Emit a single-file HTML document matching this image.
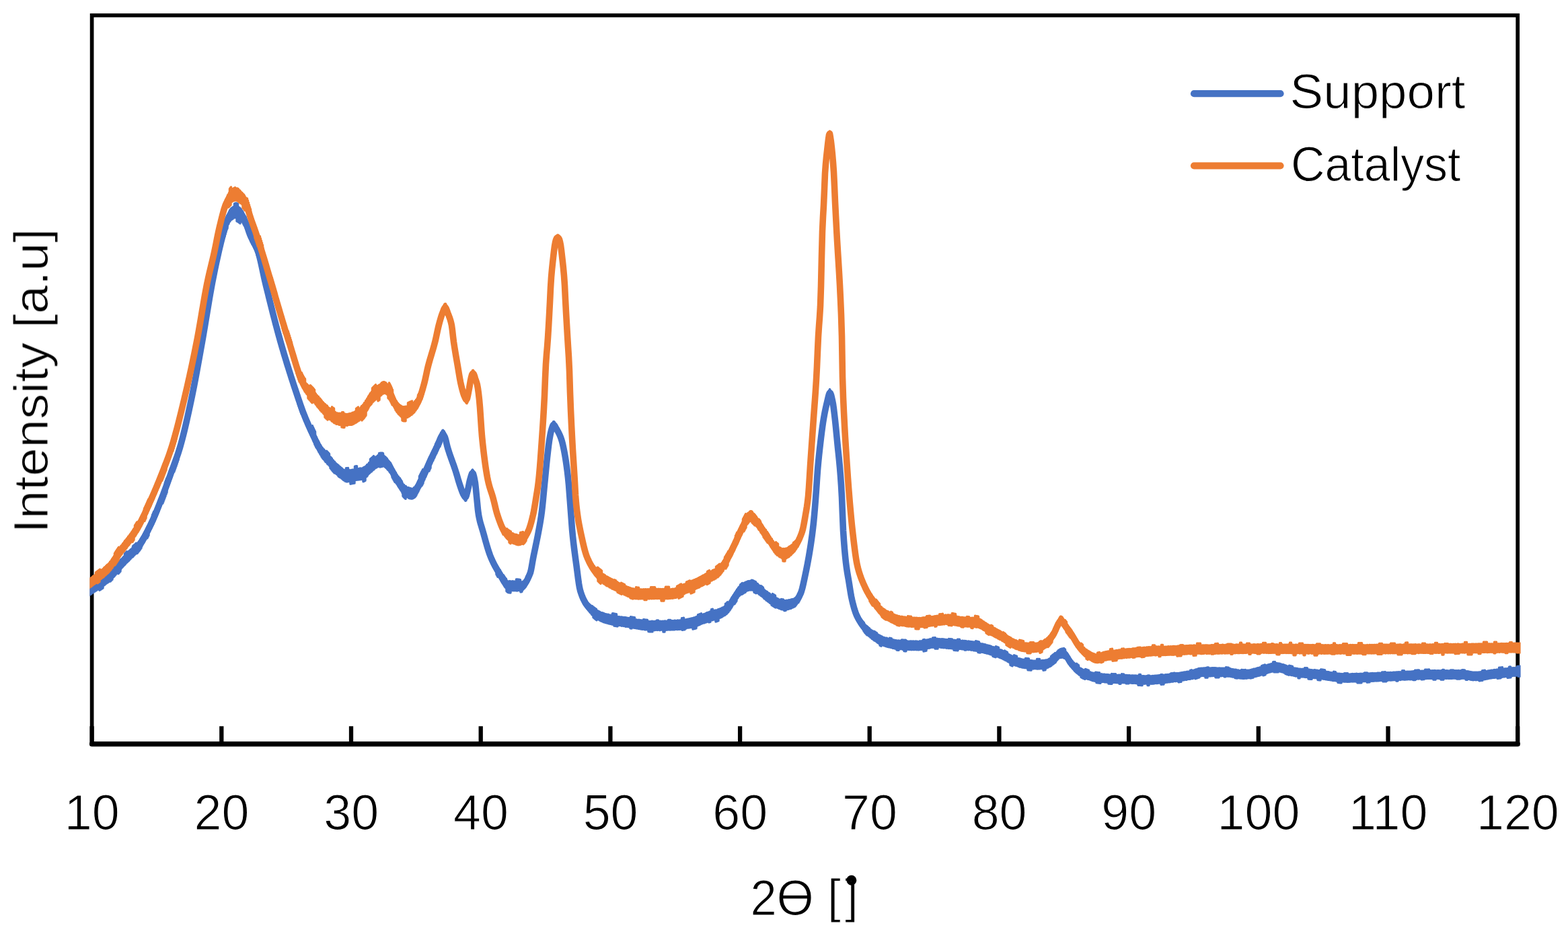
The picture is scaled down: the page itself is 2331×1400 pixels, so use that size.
<!DOCTYPE html>
<html lang="en"><head><meta charset="utf-8"><title>XRD patterns: Support and Catalyst</title>
<style>
html,body{margin:0;padding:0;background:#fff}
body{width:2331px;height:1400px;overflow:hidden}
svg{display:block}
text{font-family:"Liberation Sans",sans-serif;fill:#000;stroke:#fff;stroke-width:1.1px}
.c{fill:none;stroke-width:9.6;stroke-linejoin:round;stroke-linecap:butt}
  .n{fill:none;stroke-width:3.4;stroke-linejoin:round;stroke-linecap:butt}
.ax line{stroke:#000;stroke-width:6.3}
.tl text{font-size:73.6px;text-anchor:middle}
.lg text{font-size:72.3px}
</style></head>
<body>
<svg xmlns="http://www.w3.org/2000/svg" width="2331" height="1400" viewBox="0 0 2331 1400">
<defs><filter id="sf" x="0" y="0" width="100%" height="100%" filterUnits="userSpaceOnUse"><feGaussianBlur stdDeviation="0.6"/></filter><filter id="cf" x="0" y="0" width="100%" height="100%" filterUnits="userSpaceOnUse"><feGaussianBlur stdDeviation="0.5"/></filter><clipPath id="pa"><rect x="133.4" y="0" width="2127.2" height="1400"/></clipPath></defs>
<rect width="2331" height="1400" fill="#fff"/>
<g filter="url(#sf)">
<rect x="136.6" y="22.8" width="2119.6" height="1083.0" fill="none" stroke="#000" stroke-width="5.7"/>
<line x1="136.6" y1="1105.75" x2="2256.2" y2="1105.75" stroke="#000" stroke-width="7.4" stroke-linecap="round"/>
<g class="ax"><line x1="136.6" y1="1079.3" x2="136.6" y2="1105.8"/><line x1="329.3" y1="1079.3" x2="329.3" y2="1105.8"/><line x1="522.0" y1="1079.3" x2="522.0" y2="1105.8"/><line x1="714.7" y1="1079.3" x2="714.7" y2="1105.8"/><line x1="907.4" y1="1079.3" x2="907.4" y2="1105.8"/><line x1="1100.1" y1="1079.3" x2="1100.1" y2="1105.8"/><line x1="1292.7" y1="1079.3" x2="1292.7" y2="1105.8"/><line x1="1485.4" y1="1079.3" x2="1485.4" y2="1105.8"/><line x1="1678.1" y1="1079.3" x2="1678.1" y2="1105.8"/><line x1="1870.8" y1="1079.3" x2="1870.8" y2="1105.8"/><line x1="2063.5" y1="1079.3" x2="2063.5" y2="1105.8"/><line x1="2256.2" y1="1079.3" x2="2256.2" y2="1105.8"/></g>
<g class="tl"><text x="136.8" y="1233.1">10</text><text x="329.5" y="1233.1">20</text><text x="522.2" y="1233.1">30</text><text x="714.9" y="1233.1">40</text><text x="907.6" y="1233.1">50</text><text x="1100.3" y="1233.1">60</text><text x="1292.9" y="1233.1">70</text><text x="1485.6" y="1233.1">80</text><text x="1678.3" y="1233.1">90</text><text x="1871.0" y="1233.1">100</text><text x="2063.7" y="1233.1">110</text><text x="2256.4" y="1233.1">120</text></g>
<g clip-path="url(#pa)" filter="url(#cf)">
<path class="c" stroke="#4472c4" d="M130.5 879.7l1-0.7 1-0.7 1-0.7 1-0.7 1-0.7 1-0.7 1-0.7 1-0.7 1-0.7 1-0.6 1-0.7 1-0.6 1-0.7 1-0.6 1-0.7 1-0.6 1-0.7 1-0.6 1-0.7 1-0.7 1-0.7 1-0.6 1-0.7 1-0.8 1-0.7 1-0.7 1-0.8 1-0.7 1-0.8 1-0.8 1-0.9 1-0.8 1-0.9 1-0.9 1-1 1-1 1-1.1 1-1.1 1-1.1 1-1.1 1-1.2 1-1.2 1-1.2 1-1.1 1-1.2 1-1.2 1-1.1 1-1.2 1-1.1 1-1 1-1.1 1-1 1-1.1 1-1 1-1.1 1-1 1-1 1-1 1-1 1-1.1 1-1 1-1 1-1 1-0.9 1-1 1-1 1-1 1-0.9 1-0.8 1-0.9 1-0.9 1-0.9 1-1 1-1.2 1-1.2 1-1.3 1-1.4 1-1.4 1-1.6 1-1.5 1-1.7 1-1.7 1-1.8 1-1.8 1-1.8 1-1.9 1-1.9 1-2 1-1.9 1-2 1-2.1 1-2 1-2 1-2.1 1-2 1-2.1 1-2.2 1-2.3 1-2.3 1-2.3 1-2.4 1-2.4 1-2.5 1-2.5 1-2.5 1-2.5 1-2.6 1-2.5 1-2.6 1-2.5 1-2.6 1-2.6 1-2.7 1-2.6 1-2.7 1-2.7 1-2.7 1-2.8 1-2.8 1-2.7 1-2.8 1-2.8 1-2.8 1-2.8 1-2.7 1-2.8 1-2.6 1-2.7 1-2.7 1-2.7 1-2.8 1-2.8 1-2.9 1-2.9 1-3.1 1-3.2 1-3.3 1-3.5 1-3.5 1-3.7 1-3.9 1-3.9 1-4 1-4.2 1-4.2 1-4.3 1-4.4 1-4.4 1-4.5 1-4.6 1-4.6 1-4.6 1-4.7 1-4.7 1-4.8 1-4.9 1-5 1-5.1 1-5.2 1-5.2 1-5.3 1-5.4 1-5.5 1-5.5 1-5.5 1-5.5 1-5.6 1-5.6 1-5.6 1-5.5 1-5.7 1-5.7 1-5.9 1-5.9 1-6.1 1-6 1-6.1 1-6 1-6 1-6 1-5.9 1-5.8 1-5.6 1-5.5 1-5.4 1-5.2 1-5 1-5 1-4.9 1-4.8 1-4.8 1-4.6 1-4.5 1-4.5 1-4.4 1-4.3 1-4.2 1-4.1 1-3.9 1-3.9 1-3.8 1-3.9 1-3.9 1-3.7 1-3.4 1-3 1-2.4 1-2.1 1-2 1-1.8 1-1.6 1-1.3 1-1 1-0.9 1-0.8 1-0.7 1-0.7 1-0.5 1-0.3 1-0.1 1 0.1 1 0.4 1 0.6 1 0.7 1 0.9 1 0.9 1 0.9 1 1 1 1.2 1 1.4 1 1.6 1 1.6 1 1.8 1 1.9 1 2.1 1 2.5 1 2.8 1 2.9 1 2.9 1 2.9 1 2.7 1 2.4 1 2.2 1 2 1 2 1 1.9 1 1.9 1 1.9 1 1.9 1 2.1 1 2.2 1 2.4 1 2.7 1 2.9 1 3.5 1 3.9 1 4.2 1 4.5 1 4.6 1 4.8 1 4.7 1 4.7 1 4.5 1 4.2 1 4.1 1 4.1 1 4.1 1 4 1 4.1 1 4 1 4.1 1 4 1 4 1 3.9 1 4 1 3.9 1 3.9 1 3.8 1 3.9 1 3.8 1 3.7 1 3.8 1 3.7 1 3.6 1 3.6 1 3.6 1 3.5 1 3.5 1 3.5 1 3.4 1 3.4 1 3.4 1 3.3 1 3.3 1 3.3 1 3.3 1 3.2 1 3.2 1 3.2 1 3.2 1 3.1 1 3.2 1 3.1 1 3.1 1 3.1 1 3 1 3.1 1 3 1 3 1 3 1 3 1 3 1 3 1 2.9 1 2.9 1 2.9 1 2.9 1 2.8 1 2.7 1 2.7 1 2.6 1 2.6 1 2.5 1 2.5 1 2.4 1 2.3 1 2.3 1 2.3 1 2.3 1 2.2 1 2.2 1 2.2 1 2.1 1 2.1 1 2.2 1 2.1 1 2.1 1 2.2 1 2.1 1 2.1 1 2.1 1 2 1 1.9 1 1.9 1 1.8 1 1.6 1 1.6 1 1.4 1 1.4 1 1.3 1 1.3 1 1.2 1 1.1 1 1.2 1 1.1 1 1.1 1 1.1 1 1.1 1 1.1 1 1.2 1 1.2 1 1.1 1 1.3 1 1.2 1 1.1 1 1.2 1 1.2 1 1.1 1 1 1 1 1 0.9 1 0.9 1 0.8 1 0.9 1 0.9 1 0.9 1 0.8 1 0.8 1 0.8 1 0.7 1 0.5 1 0.5 1 0.3 1 0.2 1 -0 1 -0 1-0.1 1-0.1 1-0.2 1-0.1 1-0.2 1-0.2 1-0.2 1-0.2 1-0.2 1-0.2 1-0.2 1-0.2 1-0.1 1-0.2 1-0.2 1-0.1 1-0.2 1-0.2 1-0.2 1-0.2 1-0.3 1-0.2 1-0.3 1-0.4 1-0.5 1-0.6 1-0.8 1-0.9 1-1 1-1 1-1 1-1.1 1-1 1-1.1 1-0.9 1-0.9 1-0.9 1-0.9 1-0.9 1-0.9 1-0.8 1-0.8 1-0.6 1-0.4 1-0.5 1-0.4 1-0.3 1-0.4 1-0.2 1-0.2 1 -0 1 0.1 1 0.4 1 0.5 1 0.8 1 0.9 1 1 1 1.1 1 1.2 1 1.1 1 1.1 1 1.2 1 1.3 1 1.5 1 1.6 1 1.8 1 1.7 1 1.9 1 1.8 1 1.8 1 1.8 1 1.7 1 1.6 1 1.6 1 1.6 1 1.6 1 1.7 1 1.7 1 1.6 1 1.6 1 1.5 1 1.4 1 1.3 1 1.1 1 0.9 1 0.7 1 0.6 1 0.5 1 0.6 1 0.5 1 0.4 1 0.4 1 0.3 1 0.2 1 0.2 1 0 1-0.1 1-0.5 1-0.9 1-1 1-1.3 1-1.6 1-1.7 1-1.8 1-1.9 1-2 1-2 1-2.1 1-2 1-1.9 1-1.9 1-1.9 1-1.9 1-2.1 1-2.2 1-2.2 1-2.2 1-2.3 1-2.3 1-2.3 1-2.3 1-2.3 1-2.2 1-2.1 1-2.1 1-2.1 1-2 1-2.1 1-2 1-2.1 1-2 1-2.1 1-2.1 1-2.2 1-2.1 1-2.3 1-2.5 1-2.8 1-2.3 1-1.7 1-1.4 1-0.8 1 0.4 1 1.6 1 2 1 3.1 1 4.3 1 4.4 1 3.7 1 3.2 1 3.2 1 3 1 2.9 1 2.8 1 2.8 1 2.7 1 2.8 1 2.8 1 2.9 1 2.9 1 3.1 1 3.2 1 3.4 1 3.4 1 3.5 1 3.3 1 3.1 1 3 1 2.9 1 2.8 1 2.6 1 2.3 1 1.8 1 1.7 1 1.2 1-0.2 1-2.8 1-3.9 1-3.9 1-4.6 1-5.1 1-4.5 1-3.5 1-3.4 1-2.8 1-1.1 1 1.3 1 3.5 1 4.7 1 5.7 1 9.1 1 10.3 1 10 1 10.3 1 7.3 1 5.1 1 4.4 1 3.7 1 3.3 1 3.3 1 3.3 1 3.5 1 3.6 1 3.6 1 3.7 1 3.5 1 3.5 1 3.4 1 3.3 1 3.1 1 3 1 2.7 1 2.5 1 2.4 1 2.3 1 2.1 1 2.1 1 2 1 2 1 1.8 1 1.8 1 1.8 1 1.6 1 1.7 1 1.6 1 1.6 1 1.6 1 1.8 1 1.7 1 1.8 1 1.8 1 1.7 1 1.6 1 1.5 1 1.4 1 1.2 1 0.9 1 0.7 1 0.3 1 0.1 1 0.1 1 0 1 0 1 0.1 1 0 1 0 1 0.1 1 -0 1 0 1 0 1 0 1 0.1 1 -0 1 -0 1 -0 1 -0 1 -0 1 -0 1 -0 1-0.3 1-0.6 1-0.7 1-1.1 1-1.2 1-1.4 1-1.6 1-1.8 1-2 1-2.1 1-2.2 1-2.3 1-2.7 1-4.1 1-5.3 1-5.8 1-5.7 1-5.1 1-4.8 1-4.8 1-4.8 1-4.8 1-4.9 1-5.1 1-5.3 1-5.4 1-5.5 1-5.8 1-6.5 1-7.5 1-8.9 1-10 1-10.4 1-10.5 1-10 1-10.4 1-10.2 1-9.7 1-8.8 1-8.5 1-7.4 1-5.9 1-5.2 1-4.2 1-3.3 1-2.9 1-2 1-0.1 1 1.1 1 1.7 1 1.9 1 1.7 1 1.7 1 1.8 1 1.9 1 2.1 1 2.2 1 2.5 1 2.8 1 3.3 1 3.9 1 4.5 1 4.9 1 5.3 1 5.7 1 6.3 1 7 1 7.8 1 8.8 1 10.1 1 13 1 13.1 1 13.2 1 13.5 1 13.4 1 10.5 1 9.2 1 8.3 1 7.8 1 7.4 1 7.3 1 7.4 1 7.9 1 7.7 1 7.1 1 6 1 4.3 1 3.2 1 2.9 1 2.7 1 2.4 1 2.2 1 2 1 1.9 1 1.7 1 1.5 1 1.4 1 1.3 1 1.2 1 1.2 1 1 1 1.1 1 1 1 0.9 1 1 1 0.9 1 0.8 1 0.9 1 0.7 1 0.8 1 0.7 1 0.7 1 0.6 1 0.6 1 0.5 1 0.5 1 0.5 1 0.5 1 0.3 1 0.4 1 0.3 1 0.3 1 0.3 1 0.3 1 0.3 1 0.3 1 0.3 1 0.2 1 0.3 1 0.2 1 0.2 1 0.2 1 0.3 1 0.2 1 0.2 1 0.2 1 0.1 1 0.2 1 0.2 1 0.2 1 0.1 1 0.2 1 0.2 1 0.1 1 0.2 1 0.1 1 0.2 1 0.2 1 0.1 1 0.2 1 0.1 1 0.2 1 0.1 1 0.2 1 0.1 1 0.2 1 0.1 1 0.2 1 0.1 1 0.2 1 0.2 1 0.2 1 0.1 1 0.2 1 0.2 1 0.2 1 0.1 1 0.2 1 0.2 1 0.2 1 0.2 1 0.1 1 0.2 1 0.2 1 0.1 1 0.2 1 0.2 1 0.1 1 0.2 1 0.1 1 0.2 1 0.1 1 0.1 1 0.1 1 0.1 1 0.1 1 0.1 1 0.1 1 0.1 1 0 1 0.1 1 0 1 0.1 1 -0 1 0 1 -0 1 -0 1 -0 1 -0 1 -0 1 -0 1-0.1 1 0 1 0 1 -0 1 -0 1 -0 1-0.1 1 0 1 -0 1-0.1 1 0 1 -0 1-0.1 1 0 1 -0 1-0.1 1 -0 1-0.1 1 0 1 -0 1-0.1 1 -0 1-0.1 1 -0 1-0.1 1 -0 1-0.1 1 -0 1-0.1 1-0.1 1 -0 1-0.1 1-0.1 1 -0 1-0.1 1-0.2 1-0.1 1-0.1 1-0.2 1-0.1 1-0.2 1-0.2 1-0.1 1-0.2 1-0.2 1-0.2 1-0.3 1-0.2 1-0.2 1-0.2 1-0.2 1-0.3 1-0.2 1-0.2 1-0.3 1-0.2 1-0.3 1-0.4 1-0.3 1-0.3 1-0.4 1-0.4 1-0.4 1-0.3 1-0.4 1-0.4 1-0.5 1-0.4 1-0.4 1-0.4 1-0.4 1-0.4 1-0.4 1-0.3 1-0.4 1-0.4 1-0.3 1-0.3 1-0.4 1-0.2 1-0.3 1-0.3 1-0.2 1-0.3 1-0.2 1-0.3 1-0.2 1-0.3 1-0.3 1-0.3 1-0.4 1-0.4 1-0.4 1-0.4 1-0.5 1-0.4 1-0.5 1-0.6 1-0.6 1-0.6 1-0.7 1-0.7 1-0.7 1-0.8 1-1 1-1.2 1-1.3 1-1.4 1-1.6 1-1.6 1-1.6 1-1.7 1-1.6 1-1.7 1-1.5 1-1.5 1-1.5 1-1.5 1-1.5 1-1.5 1-1.3 1-1.2 1-1 1-0.9 1-0.9 1-0.9 1-0.7 1-0.7 1-0.7 1-0.5 1-0.4 1-0.4 1-0.4 1-0.4 1-0.4 1-0.3 1-0.2 1-0.1 1-0.1 1 0.1 1 0.1 1 0.3 1 0.3 1 0.5 1 0.4 1 0.5 1 0.5 1 0.6 1 0.7 1 0.8 1 0.9 1 1 1 0.9 1 0.8 1 0.8 1 0.9 1 0.8 1 0.8 1 0.9 1 0.8 1 0.8 1 0.8 1 0.8 1 0.7 1 0.8 1 0.7 1 0.7 1 0.7 1 0.8 1 0.7 1 0.7 1 0.7 1 0.6 1 0.7 1 0.6 1 0.5 1 0.6 1 0.5 1 0.4 1 0.5 1 0.4 1 0.5 1 0.4 1 0.4 1 0.4 1 0.3 1 0.2 1 0.1 1 -0 1 -0 1-0.1 1-0.1 1-0.1 1-0.2 1-0.2 1-0.2 1-0.3 1-0.3 1-0.3 1-0.3 1-0.3 1-0.4 1-0.4 1-0.4 1-0.7 1-0.8 1-1.1 1-1.2 1-1.4 1-1.6 1-1.7 1-1.8 1-2 1-2.1 1-2.9 1-3.5 1-4 1-4.4 1-4.7 1-4.7 1-4.7 1-4.7 1-5 1-5.1 1-5.5 1-5.6 1-6 1-6.2 1-6.5 1-6.9 1-7.4 1-8.1 1-8.9 1-10.5 1-11.8 1-12.8 1-13.5 1-15.2 1-14.1 1-11.3 1-10.2 1-9.3 1-8.8 1-8.4 1-8 1-7.6 1-7 1-6.2 1-5.6 1-5.1 1-4.7 1-4.4 1-4.1 1-4.3 1-4.4 1-3.6 1-1.9 1 0.6 1 2.6 1 4 1 4.6 1 5.1 1 7 1 8.3 1 8.7 1 9.5 1 10.3 1 10.4 1 10 1 9.4 1 9.6 1 10.7 1 12.3 1 14.3 1 17.6 1 25.7 1 23.8 1 15 1 12.7 1 10.7 1 9.2 1 7.9 1 6.7 1 5.9 1 5.6 1 6.1 1 6.4 1 6.2 1 5.7 1 4.7 1 4.2 1 3.9 1 3.7 1 3.4 1 3.1 1 2.7 1 2.4 1 2 1 2 1 1.9 1 1.8 1 1.6 1 1.6 1 1.6 1 1.4 1 1.4 1 1.3 1 1.2 1 1.2 1 1.1 1 1 1 1 1 0.9 1 0.9 1 0.9 1 0.9 1 0.8 1 0.9 1 0.8 1 0.8 1 0.7 1 0.8 1 0.7 1 0.7 1 0.7 1 0.6 1 0.7 1 0.6 1 0.6 1 0.5 1 0.5 1 0.5 1 0.5 1 0.5 1 0.4 1 0.4 1 0.4 1 0.3 1 0.3 1 0.3 1 0.3 1 0.3 1 0.3 1 0.2 1 0.3 1 0.3 1 0.2 1 0.3 1 0.2 1 0.2 1 0.3 1 0.2 1 0.2 1 0.1 1 0.2 1 0.2 1 0.1 1 0.2 1 0.1 1 0.1 1 0.1 1 0.1 1 0 1 0.1 1 0 1 0.1 1 0 1 0 1 0.1 1 0 1 0.1 1 -0 1 0 1 0.1 1 -0 1 0 1 0 1 0.1 1 -0 1 0 1 0 1 0 1 0.1 1 -0 1 -0 1 -0 1 -0 1 -0 1 -0 1 -0 1-0.1 1-0.1 1-0.1 1-0.2 1-0.1 1-0.2 1-0.2 1-0.2 1-0.2 1-0.3 1-0.2 1-0.2 1-0.3 1-0.2 1-0.2 1-0.2 1-0.2 1-0.1 1-0.2 1-0.1 1-0.1 1-0.1 1 0 1 0 1 0 1 0 1 0.1 1 0 1 0.1 1 0 1 0.1 1 0.1 1 0 1 0.1 1 0.1 1 0.1 1 0.1 1 0.1 1 0.1 1 0.1 1 0.1 1 0.1 1 0.1 1 0.1 1 0.1 1 0.1 1 0.1 1 0.1 1 0 1 0.1 1 0.1 1 0.1 1 0 1 0.1 1 0.1 1 0 1 0.1 1 0 1 0.1 1 0.1 1 0 1 0.1 1 0.1 1 0.1 1 0 1 0.1 1 0.1 1 0.1 1 0.1 1 0 1 0.1 1 0.1 1 0.1 1 0.2 1 0.1 1 0.1 1 0.1 1 0.2 1 0.1 1 0.2 1 0.2 1 0.2 1 0.2 1 0.1 1 0.2 1 0.3 1 0.2 1 0.2 1 0.2 1 0.2 1 0.3 1 0.2 1 0.2 1 0.3 1 0.2 1 0.3 1 0.2 1 0.3 1 0.2 1 0.3 1 0.3 1 0.2 1 0.3 1 0.3 1 0.3 1 0.3 1 0.3 1 0.3 1 0.4 1 0.3 1 0.3 1 0.4 1 0.3 1 0.4 1 0.4 1 0.4 1 0.3 1 0.4 1 0.4 1 0.4 1 0.4 1 0.5 1 0.4 1 0.4 1 0.5 1 0.5 1 0.6 1 0.5 1 0.6 1 0.6 1 0.6 1 0.7 1 0.6 1 0.5 1 0.6 1 0.6 1 0.5 1 0.4 1 0.5 1 0.4 1 0.4 1 0.4 1 0.4 1 0.4 1 0.3 1 0.4 1 0.3 1 0.3 1 0.3 1 0.3 1 0.2 1 0.2 1 0.2 1 0.2 1 0.2 1 0.2 1 0.1 1 0.2 1 0.1 1 0.2 1 0.1 1 0.1 1 0.1 1 0 1 0.1 1 0.1 1 0 1 0.1 1 0 1 0.1 1 0 1 0 1 0.1 1 -0 1 -0 1 0 1 -0 1 -0 1-0.1 1 -0 1-0.1 1-0.1 1-0.1 1-0.1 1-0.1 1-0.1 1-0.2 1-0.1 1-0.2 1-0.2 1-0.4 1-0.4 1-0.6 1-0.5 1-0.7 1-0.7 1-0.7 1-0.8 1-0.8 1-0.8 1-0.8 1-1 1-1.2 1-1.3 1-1.4 1-1.2 1-0.9 1-0.7 1-0.6 1-0.5 1-0.4 1-0.2 1 0.1 1 0.5 1 0.7 1 0.8 1 0.9 1 1 1 1.3 1 1.5 1 1.6 1 1.7 1 1.7 1 1.7 1 1.5 1 1.2 1 1.2 1 1.1 1 1.1 1 1.1 1 1 1 1 1 1 1 0.9 1 0.9 1 0.8 1 0.7 1 0.7 1 0.6 1 0.6 1 0.6 1 0.5 1 0.5 1 0.5 1 0.4 1 0.5 1 0.4 1 0.4 1 0.4 1 0.3 1 0.4 1 0.3 1 0.3 1 0.3 1 0.3 1 0.3 1 0.3 1 0.2 1 0.3 1 0.2 1 0.2 1 0.2 1 0.1 1 0.2 1 0.1 1 0.1 1 0.1 1 0.1 1 0.1 1 0.1 1 0.1 1 0.1 1 0.1 1 0 1 0.1 1 0.1 1 0.1 1 0 1 0.1 1 0 1 0.1 1 0.1 1 0 1 0.1 1 0 1 0 1 0.1 1 0 1 0.1 1 0 1 0 1 0.1 1 -0 1 0 1 0.1 1 -0 1 0 1 0 1 0 1 0.1 1 -0 1 0 1 0 1 0.1 1 -0 1 -0 1 0 1 0 1 0.1 1 -0 1 0 1 0.1 1 -0 1 0 1 0.1 1 0 1 0.1 1 0 1 0.1 1 0 1 0.1 1 0 1 0.1 1 0.1 1 0 1 0.1 1 0.1 1 0 1 0.1 1 0 1 0.1 1 0 1 0.1 1 0 1 0.1 1 -0 1 -0 1 -0 1 -0 1 -0 1 -0 1-0.1 1 0 1 -0 1-0.1 1-0.1 1 -0 1-0.1 1-0.1 1 -0 1-0.1 1-0.1 1-0.1 1-0.1 1-0.1 1-0.1 1-0.1 1-0.1 1-0.1 1-0.1 1-0.1 1-0.1 1-0.1 1-0.1 1-0.1 1-0.1 1-0.1 1-0.1 1-0.1 1-0.1 1-0.1 1-0.2 1-0.1 1-0.1 1-0.1 1-0.2 1-0.1 1-0.1 1-0.2 1-0.1 1-0.1 1-0.2 1-0.1 1-0.2 1-0.1 1-0.1 1-0.2 1-0.1 1-0.2 1-0.1 1-0.2 1-0.1 1-0.1 1-0.2 1-0.1 1-0.2 1-0.2 1-0.1 1-0.2 1-0.2 1-0.1 1-0.2 1-0.2 1-0.2 1-0.2 1-0.3 1-0.3 1-0.3 1-0.3 1-0.4 1-0.4 1-0.3 1-0.4 1-0.3 1-0.3 1-0.3 1-0.2 1-0.2 1-0.1 1 -0 1 -0 1 -0 1 -0 1 -0 1 -0 1 -0 1 -0 1 -0 1 -0 1 -0 1 -0 1 -0 1 -0 1 -0 1 -0 1 -0 1 -0 1 -0 1 -0 1 -0 1 -0 1 -0 1 -0 1 -0 1 -0 1 -0 1 -0 1 -0 1 -0 1 -0 1 -0 1 -0 1 -0 1 -0 1 0 1 0.1 1 0.1 1 0.1 1 0.1 1 0.1 1 0.2 1 0.1 1 0.2 1 0.2 1 0.2 1 0.1 1 0.2 1 0.2 1 0.2 1 0.2 1 0.2 1 0.1 1 0.2 1 0.2 1 0.1 1 0.1 1 0.2 1 0.1 1 0.1 1 0 1 0.1 1 -0 1 -0 1 -0 1-0.1 1-0.1 1-0.1 1-0.1 1-0.2 1-0.1 1-0.2 1-0.2 1-0.2 1-0.2 1-0.3 1-0.2 1-0.3 1-0.2 1-0.3 1-0.3 1-0.2 1-0.3 1-0.3 1-0.2 1-0.3 1-0.2 1-0.3 1-0.2 1-0.3 1-0.3 1-0.3 1-0.3 1-0.3 1-0.4 1-0.3 1-0.4 1-0.3 1-0.4 1-0.3 1-0.4 1-0.3 1-0.3 1-0.3 1-0.2 1-0.2 1-0.2 1-0.2 1-0.1 1-0.1 1 0 1 0 1 0.1 1 0.1 1 0.1 1 0.2 1 0.2 1 0.3 1 0.2 1 0.3 1 0.3 1 0.4 1 0.3 1 0.3 1 0.4 1 0.4 1 0.3 1 0.4 1 0.3 1 0.4 1 0.3 1 0.4 1 0.3 1 0.3 1 0.2 1 0.3 1 0.2 1 0.2 1 0.1 1 0.2 1 0.1 1 0.1 1 0.2 1 0.1 1 0.1 1 0.1 1 0.1 1 0.1 1 0.1 1 0.1 1 0.1 1 0.1 1 0.1 1 0.1 1 0.1 1 0.1 1 0.1 1 0 1 0.1 1 0.1 1 0.1 1 0.1 1 0.1 1 0 1 0.1 1 0.1 1 0.1 1 0.1 1 0.1 1 0.1 1 0.1 1 0.1 1 0.1 1 0.1 1 0.1 1 0.1 1 0.1 1 0.1 1 0.2 1 0.1 1 0.2 1 0.1 1 0.2 1 0.2 1 0.1 1 0.2 1 0.2 1 0.1 1 0.2 1 0.2 1 0.2 1 0.2 1 0.1 1 0.2 1 0.2 1 0.1 1 0.2 1 0.2 1 0.1 1 0.2 1 0.1 1 0.2 1 0.1 1 0.1 1 0.1 1 0.1 1 0.1 1 0.1 1 0.1 1 0 1 0.1 1 -0 1 -0 1 -0 1 -0 1 -0 1 -0 1 -0 1 -0 1 -0 1-0.1 1 0 1 0 1 -0 1 -0 1-0.1 1 0 1 0 1 -0 1-0.1 1 0 1 -0 1 -0 1-0.1 1 -0 1 -0 1-0.1 1 -0 1 -0 1-0.1 1 -0 1-0.1 1 0 1 -0 1-0.1 1 -0 1-0.1 1 0 1 -0 1-0.1 1 -0 1-0.1 1 0 1 -0 1-0.1 1 -0 1-0.1 1 0 1 -0 1-0.1 1 -0 1 -0 1-0.1 1 -0 1-0.1 1 0 1 -0 1-0.1 1 -0 1-0.1 1 0 1 -0 1-0.1 1 -0 1-0.1 1 -0 1-0.1 1 0 1 -0 1-0.1 1 -0 1-0.1 1 -0 1-0.1 1 -0 1-0.1 1 -0 1-0.1 1 -0 1-0.1 1 -0 1-0.1 1 -0 1-0.1 1 -0 1-0.1 1 -0 1-0.1 1 -0 1 -0 1-0.1 1 -0 1-0.1 1 -0 1-0.1 1 -0 1-0.1 1 -0 1-0.1 1 -0 1 -0 1-0.1 1 -0 1-0.1 1 -0 1-0.1 1 -0 1-0.1 1 0 1 -0 1-0.1 1 -0 1-0.1 1 -0 1-0.1 1 -0 1-0.1 1 -0 1-0.1 1 -0 1-0.1 1 -0 1-0.1 1 -0 1-0.1 1 0 1 -0 1-0.1 1 0 1 -0 1 -0 1-0.1 1 0 1 0 1 0 1 0 1 0 1 0 1 0 1 0 1 0 1 0 1 0 1 0 1 0 1 0 1 0 1 0 1 0 1 0 1 0 1 0 1 0 1 0 1 0 1 0 1 0 1 0 1 0 1 0 1 0 1 0 1 0 1 0 1 0 1 0 1 0 1 0 1 0 1 0 1 0 1 0 1 0 1 0 1 0 1 0 1 0 1 0 1 0 1 0.1 1 0.1 1 0.1 1 0.2 1 0.1 1 0.2 1 0.2 1 0.2 1 0.1 1 0.2 1 0.2 1 0.2 1 0.1 1 0.2 1 0.1 1 0.1 1 0.1 1 -0 1 -0 1 -0 1-0.1 1 -0 1-0.1 1 -0 1-0.1 1-0.1 1-0.1 1-0.2 1-0.1 1-0.1 1-0.2 1-0.1 1-0.2 1-0.1 1-0.2 1-0.2 1-0.1 1-0.2 1-0.2 1-0.1 1-0.2 1-0.2 1-0.1 1-0.2 1-0.1 1-0.1 1-0.2 1-0.1 1-0.1 1-0.1 1-0.1 1-0.1 1-0.1 1-0.1 1-0.1 1-0.2 1-0.1 1-0.1 1-0.1 1-0.1 1-0.1 1-0.1 1-0.1 1-0.1 1-0.1 1-0.1 1-0.1 1-0.1 1-0.1 1-0.1 1-0.1 1-0.1 1 -0 1-0.1 1-0.1 1-0.1 1-0.1 1-0.1 1-0.1 1-0.1 1-0.1 1 -0 1-0.1 1-0.1 1-0.1 1-0.1 1-0.1"/>
<path class="n" stroke="#4472c4" d="M130.5 873.8l0.5 11.7 0.5-12.9 0.5 12.5 0.5-13.2 0.5 12.5 0.5-12.9 0.5 11.9 0.5-12.5 0.5 12.3 0.5-12.9 0.5 12.1 0.5-13.2 0.5 12 0.5-12.3 0.5 12.1 0.5-13 0.5 12.2 0.5-13 0.5 12.2 0.5-12.9 0.5 12.5 0.5-13.1 0.5 12.4 0.5-12.9 0.5 12.4 0.5-13.2 0.5 12.4 0.5-13.1 0.5 12.4 0.5-15.1 0.5 14.3 0.5-15 0.5 14.4 0.5-15.1 0.5 17.5 0.5-18.1 0.5 17.4 0.5-18.1 0.5 17.5 0.5-15.6 0.5 14.9 0.5-15.9 0.5 15.3 0.5-15.7 0.5 15 0.5-16 0.5 12.2 0.5-12.6 0.5 12 0.5-12.8 0.5 12.1 0.5-13.2 0.5 12.2 0.5-12.7 0.5 11.9 0.5-12.5 0.5 11.8 0.5-12.7 0.5 12.3 0.5-14.8 0.5 14.1 0.5-14.9 0.5 14.1 0.5-15 0.5 13.8 0.5-13.2 0.5 14 0.5-14.9 0.5 14 0.5-14.9 0.5 13.9 0.5-15.3 0.5 14.3 0.5-15.2 0.5 12.3 0.5-13.1 0.5 12.3 0.5-13.8 0.5 12.8 0.5-14.2 0.5 13 0.5-13.8 0.5 12.6 0.5-14.1 0.5 12.7 0.5-13.5 0.5 12.4 0.5-13.7 0.5 12.7 0.5-13.8 0.5 15.8 0.5-17 0.5 15.9 0.5-17.3 0.5 16.2 0.5-17.2 0.5 16.1 0.5-17.5 0.5 13.4 0.5-14.2 0.5 12.9 0.5-13.6 0.5 12.7 0.5-14 0.5 12.9 0.5-14.3 0.5 13.2 0.5-13.9 0.5 12.9 0.5-17 0.5 16.1 0.5-17.2 0.5 15.7 0.5-16.7 0.5 15.7 0.5-16.8 0.5 16 0.5-13.6 0.5 12.6 0.5-14.4 0.5 13.4 0.5-14.4 0.5 13.8 0.5-14.6 0.5 13 0.5-13.9 0.5 13.3 0.5-14.4 0.5 13 0.5-13.5 0.5 12.4 0.5-13.5 0.5 13.2 0.5-16.3 0.5 15.4 0.5-16.3 0.5 14.8 0.5-15.7 0.5 15 0.5-15.8 0.5 14.7 0.5-15.6 0.5 14.8 0.5-15.7 0.5 15.3 0.5-14.7 0.5 14.5 0.5-15.2 0.5 14.1 0.5-15.4 0.5 14.1 0.5-15.3 0.5 14 0.5-15.3 0.5 14 0.5-15.6 0.5 14.1 0.5-15.9 0.5 14.4 0.5-15.9 0.5 13.1 0.5-14.5 0.5 12.6 0.5-14 0.5 12.3 0.5-14.7 0.5 13.2 0.5-14.6 0.5 12.9 0.5-15 0.5 12.9 0.5-14.4 0.5 13 0.5-15.4 0.5 13 0.5-14.7 0.5 15.6 0.5-17.7 0.5 15.7 0.5-17.6 0.5 15.6 0.5-17.6 0.5 12.8 0.5-15 0.5 13.2 0.5-15.5 0.5 13.2 0.5-14.6 0.5 12.8 0.5-15 0.5 12.9 0.5-18 0.5 16 0.5-18.2 0.5 16.2 0.5-18.5 0.5 15.8 0.5-15.5 0.5 13.7 0.5-15.6 0.5 13.1 0.5-16 0.5 13.4 0.5-15.6 0.5 13.5 0.5-16.1 0.5 13.4 0.5-15.7 0.5 13.4 0.5-16.3 0.5 14 0.5-16.2 0.5 13.2 0.5-15.7 0.5 13.3 0.5-15.8 0.5 13.2 0.5-16 0.5 13.2 0.5-15.3 0.5 12.7 0.5-15.5 0.5 16.9 0.5-19.4 0.5 16.8 0.5-20 0.5 17.4 0.5-20 0.5 17.4 0.5-23.6 0.5 20.9 0.5-23.6 0.5 20.9 0.5-23.7 0.5 21 0.5-19.9 0.5 13.5 0.5-16.4 0.5 14 0.5-16.8 0.5 14 0.5-17 0.5 14 0.5-16.6 0.5 13.9 0.5-16.3 0.5 13.1 0.5-16.2 0.5 13.6 0.5-16.2 0.5 13.6 0.5-16.3 0.5 13.5 0.5-16.3 0.5 13.3 0.5-15.6 0.5 16 0.5-18.6 0.5 15.8 0.5-18.4 0.5 15.6 0.5-18.5 0.5 15.7 0.5-18.3 0.5 15.4 0.5-18.7 0.5 15.8 0.5-18.5 0.5 15.5 0.5-18.4 0.5 12.3 0.5-15.4 0.5 12 0.5-15.5 0.5 12.4 0.5-15.8 0.5 12.1 0.5-15.7 0.5 12.2 0.5-19.1 0.5 16 0.5-19.8 0.5 15.8 0.5-19.7 0.5 15.7 0.5-19.7 0.5 15.4 0.5-19.5 0.5 15.3 0.5-16.8 0.5 12.5 0.5-16.2 0.5 12 0.5-16.5 0.5 12.1 0.5-16.8 0.5 12.3 0.5-16.4 0.5 12.2 0.5-17.3 0.5 12.4 0.5-16.5 0.5 11.9 0.5-16.9 0.5 13.5 0.5-18.1 0.5 13.4 0.5-18.2 0.5 13.5 0.5-17.8 0.5 11.7 0.5-16.7 0.5 12.1 0.5-17.4 0.5 12.3 0.5-17 0.5 12 0.5-17.1 0.5 12 0.5-17.5 0.5 12.1 0.5-17.6 0.5 12.1 0.5-17.1 0.5 11.6 0.5-17.1 0.5 11.6 0.5-19.1 0.5 13.8 0.5-19.3 0.5 16.7 0.5-22.3 0.5 16.8 0.5-20.4 0.5 14.8 0.5-20.8 0.5 12.5 0.5-17.8 0.5 12.5 0.5-18.3 0.5 12.2 0.5-17.6 0.5 11.9 0.5-17.9 0.5 12.4 0.5-18.5 0.5 13 0.5-18.6 0.5 12.5 0.5-18.4 0.5 12.2 0.5-18.4 0.5 12.7 0.5-18.8 0.5 12.2 0.5-18.3 0.5 12.7 0.5-18.7 0.5 12.8 0.5-21.6 0.5 15.7 0.5-21.6 0.5 16.9 0.5-22.7 0.5 17 0.5-22.7 0.5 17 0.5-22.5 0.5 15.8 0.5-21.2 0.5 15.9 0.5-17.9 0.5 12.1 0.5-17.2 0.5 12.1 0.5-17.3 0.5 12.8 0.5-17.5 0.5 12.7 0.5-18.2 0.5 13.1 0.5-17.4 0.5 12.8 0.5-17.8 0.5 13.5 0.5-18.1 0.5 13.6 0.5-18.3 0.5 13.5 0.5-17.3 0.5 13.4 0.5-18.5 0.5 13.7 0.5-20.1 0.5 16.2 0.5-20.4 0.5 16.4 0.5-20.5 0.5 16.4 0.5-20.4 0.5 17.1 0.5-21 0.5 16.7 0.5-20.7 0.5 17.1 0.5-17.8 0.5 17.5 0.5-21.3 0.5 17.7 0.5-22.1 0.5 18.8 0.5-21 0.5 18.2 0.5-21.3 0.5 19 0.5-20.8 0.5 14.8 0.5-16.7 0.5 15.6 0.5-17.7 0.5 15.1 0.5-17.3 0.5 16.4 0.5-17.4 0.5 15.4 0.5-16.9 0.5 16.6 0.5-17.4 0.5 16.6 0.5-17.3 0.5 16.7 0.5-17.6 0.5 16.5 0.5-16.9 0.5 16.7 0.5-21.3 0.5 20.6 0.5-21.1 0.5 20.8 0.5-21 0.5 21 0.5-20.9 0.5 26.7 0.5-26.4 0.5 26.9 0.5-26.4 0.5 27 0.5-22.4 0.5 23.1 0.5-22.1 0.5 22.8 0.5-22.3 0.5 23.1 0.5-22 0.5 18 0.5-16.9 0.5 17 0.5-15.3 0.5 16.8 0.5-15.7 0.5 17.3 0.5-15.6 0.5 17.7 0.5-15.5 0.5 17.2 0.5-15.5 0.5 16.1 0.5-14.3 0.5 16.9 0.5-15.6 0.5 18.2 0.5-15 0.5 17.2 0.5-14.2 0.5 17 0.5-14 0.5 16 0.5-13.3 0.5 16.4 0.5-13.9 0.5 16.3 0.5-13.1 0.5 16 0.5-13.9 0.5 16.9 0.5-14 0.5 15.7 0.5-14.2 0.5 16.6 0.5-16.4 0.5 17.2 0.5-15.1 0.5 17.4 0.5-15.4 0.5 17.3 0.5-13.5 0.5 14.7 0.5-12 0.5 14.4 0.5-13 0.5 14.6 0.5-11.5 0.5 17.2 0.5-15.1 0.5 17.5 0.5-15 0.5 17.6 0.5-14.2 0.5 17.2 0.5-13.8 0.5 17.2 0.5-13.3 0.5 17.2 0.5-12.8 0.5 17 0.5-12.5 0.5 13.8 0.5-9.2 0.5 14.2 0.5-9.8 0.5 14.3 0.5-10 0.5 14.5 0.5-9.1 0.5 14.2 0.5-10.2 0.5 14.4 0.5-9.8 0.5 14.2 0.5-12.3 0.5 16.4 0.5-12.3 0.5 16.1 0.5-12 0.5 16.1 0.5-12 0.5 16.2 0.5-12.2 0.5 16.5 0.5-10.6 0.5 14 0.5-9.8 0.5 14.6 0.5-10.3 0.5 13.5 0.5-9.6 0.5 13.7 0.5-10.2 0.5 14 0.5-9.8 0.5 14 0.5-10.1 0.5 16.9 0.5-13.4 0.5 17.3 0.5-13.7 0.5 17.6 0.5-13.1 0.5 17 0.5-13.2 0.5 17 0.5-13.4 0.5 17.2 0.5-13.8 0.5 17.5 0.5-17.3 0.5 18.3 0.5-14.6 0.5 18.7 0.5-15.1 0.5 17.9 0.5-14.3 0.5 18.4 0.5-14.9 0.5 18.5 0.5-15 0.5 18.2 0.5-10.9 0.5 14.3 0.5-10.9 0.5 14.6 0.5-11.3 0.5 16.2 0.5-12.5 0.5 15.9 0.5-12.6 0.5 15.9 0.5-13 0.5 15 0.5-12 0.5 14.6 0.5-10.7 0.5 14.8 0.5-12.1 0.5 14.9 0.5-11.2 0.5 14.4 0.5-11.8 0.5 15.6 0.5-11.7 0.5 14.4 0.5-11.6 0.5 14.5 0.5-11.6 0.5 15.3 0.5-12 0.5 14.4 0.5-11.2 0.5 14.8 0.5-12.4 0.5 15.5 0.5-12 0.5 15.5 0.5-12.3 0.5 15.1 0.5-11.7 0.5 14.9 0.5-12.2 0.5 15 0.5-12.3 0.5 15.3 0.5-13.7 0.5 16 0.5-13 0.5 19.9 0.5-16.9 0.5 19.8 0.5-16.9 0.5 19.9 0.5-15.4 0.5 18.3 0.5-15.3 0.5 18.2 0.5-15.3 0.5 18.1 0.5-15.7 0.5 15.4 0.5-12.2 0.5 15 0.5-12.3 0.5 15 0.5-12.8 0.5 14.8 0.5-11.8 0.5 14.2 0.5-11.6 0.5 14.1 0.5-11.6 0.5 14.6 0.5-13 0.5 15.1 0.5-12.1 0.5 14.6 0.5-12.7 0.5 15.1 0.5-12.6 0.5 14.5 0.5-12.4 0.5 15 0.5-12.6 0.5 15.1 0.5-12.7 0.5 14.9 0.5-12.9 0.5 15 0.5-12.7 0.5 14.5 0.5-17.3 0.5 19.4 0.5-17.3 0.5 20.1 0.5-18 0.5 19.8 0.5-17.7 0.5 21.6 0.5-19.5 0.5 21.6 0.5-14.5 0.5 16.7 0.5-15.3 0.5 16 0.5-13.4 0.5 14.7 0.5-12.8 0.5 15.1 0.5-13.7 0.5 16.1 0.5-14.1 0.5 15.4 0.5-13 0.5 15.2 0.5-14 0.5 15.2 0.5-13.4 0.5 15.6 0.5-13.8 0.5 15.4 0.5-14.4 0.5 15.7 0.5-14.2 0.5 15.3 0.5-14.7 0.5 15.5 0.5-14.1 0.5 15.8 0.5-14.3 0.5 15.7 0.5-15 0.5 15.5 0.5-16.9 0.5 18.2 0.5-17.1 0.5 18.7 0.5-17.7 0.5 18.1 0.5-17 0.5 18.1 0.5-17 0.5 18.1 0.5-13.9 0.5 17.2 0.5-16.6 0.5 17.8 0.5-16.6 0.5 17.8 0.5-16.7 0.5 17.9 0.5-16 0.5 17.2 0.5-16.5 0.5 17.7 0.5-16.2 0.5 17.4 0.5-16.9 0.5 16.6 0.5-14.8 0.5 15.6 0.5-14.9 0.5 15.9 0.5-14.4 0.5 15 0.5-14.9 0.5 15.8 0.5-14.8 0.5 16.5 0.5-15.7 0.5 16.6 0.5-15.5 0.5 16.2 0.5-15.5 0.5 15.9 0.5-14.9 0.5 15.4 0.5-14.7 0.5 15.6 0.5-14.9 0.5 15.8 0.5-14.6 0.5 15.6 0.5-14.7 0.5 15.4 0.5-15.2 0.5 15.5 0.5-14.4 0.5 15.5 0.5-15.1 0.5 14.7 0.5-19.1 0.5 20.3 0.5-20.3 0.5 20.2 0.5-20.2 0.5 20.1 0.5-20.2 0.5 19.9 0.5-16.1 0.5 16.2 0.5-16.7 0.5 15.9 0.5-15.4 0.5 19.9 0.5-20.5 0.5 20.3 0.5-20.3 0.5 20.1 0.5-20.6 0.5 20.4 0.5-20.4 0.5 20.2 0.5-20 0.5 19.8 0.5-19.9 0.5 19.8 0.5-25 0.5 20.3 0.5-20.5 0.5 20.4 0.5-20.5 0.5 20.5 0.5-20.7 0.5 20.1 0.5-15.8 0.5 16.2 0.5-16.5 0.5 15.8 0.5-15.3 0.5 15.8 0.5-16.8 0.5 16.1 0.5-16.2 0.5 16.6 0.5-16.4 0.5 16.2 0.5-16.2 0.5 15.8 0.5-15.9 0.5 15.7 0.5-16.3 0.5 20.3 0.5-21.1 0.5 20.7 0.5-21.3 0.5 20.8 0.5-20.9 0.5 20.3 0.5-21 0.5 15.4 0.5-16.4 0.5 16.1 0.5-17.8 0.5 16.8 0.5-16.8 0.5 14.9 0.5-16.1 0.5 15 0.5-16.6 0.5 15.7 0.5-16.2 0.5 15.5 0.5-20.5 0.5 19 0.5-19.9 0.5 19.7 0.5-20.6 0.5 19.6 0.5-20.5 0.5 19.3 0.5-20.2 0.5 19.6 0.5-20.6 0.5 20 0.5-17.4 0.5 15.6 0.5-16.4 0.5 16.2 0.5-16.6 0.5 16 0.5-16.5 0.5 16.1 0.5-16.6 0.5 15.3 0.5-16.4 0.5 16.6 0.5-16.1 0.5 15.5 0.5-19.3 0.5 18.9 0.5-19.2 0.5 20.7 0.5-20.9 0.5 20.6 0.5-20.7 0.5 20.5 0.5-20.5 0.5 20.4 0.5-20.3 0.5 18.5 0.5-18.1 0.5 18 0.5-14.7 0.5 16.2 0.5-15 0.5 15.7 0.5-15 0.5 15.7 0.5-14.7 0.5 15.7 0.5-14.8 0.5 15.6 0.5-14.7 0.5 16 0.5-14.1 0.5 15.3 0.5-14.1 0.5 14.5 0.5-13.5 0.5 15.6 0.5-14.4 0.5 15.6 0.5-14.6 0.5 15.3 0.5-13.4 0.5 15.6 0.5-13.7 0.5 17.6 0.5-15.5 0.5 17.3 0.5-15.3 0.5 17.1 0.5-15.5 0.5 17.3 0.5-15.6 0.5 17.4 0.5-15.3 0.5 14.4 0.5-13.2 0.5 15.7 0.5-13.5 0.5 14.6 0.5-13.3 0.5 14.9 0.5-13.2 0.5 15 0.5-14.1 0.5 15.7 0.5-13.3 0.5 14.6 0.5-14.7 0.5 16.5 0.5-14.9 0.5 16.4 0.5-14.8 0.5 16.3 0.5-14.8 0.5 17 0.5-14.3 0.5 19.2 0.5-17.5 0.5 18.8 0.5-18.3 0.5 19.4 0.5-18 0.5 18.9 0.5-18.3 0.5 19 0.5-18.8 0.5 15 0.5-13.7 0.5 14.4 0.5-13.8 0.5 14.2 0.5-13.7 0.5 14.6 0.5-14.9 0.5 15.7 0.5-15.2 0.5 15.6 0.5-15 0.5 14.7 0.5-14.8 0.5 15.4 0.5-14.5 0.5 14.4 0.5-14.5 0.5 14.5 0.5-14.8 0.5 14.4 0.5-14.5 0.5 13.9 0.5-15.5 0.5 15 0.5-15.4 0.5 14.6 0.5-16.1 0.5 14.9 0.5-16.4 0.5 14.9 0.5-16.4 0.5 14.2 0.5-16 0.5 14.2 0.5-16.8 0.5 15 0.5-17 0.5 14.7 0.5-20.4 0.5 18.3 0.5-20.3 0.5 18.6 0.5-20.7 0.5 18.4 0.5-20.3 0.5 20.5 0.5-22.4 0.5 20.6 0.5-22.5 0.5 20.6 0.5-18.5 0.5 14.9 0.5-16.9 0.5 14.8 0.5-17.5 0.5 14.8 0.5-16.5 0.5 14.7 0.5-17.4 0.5 14.8 0.5-16.9 0.5 14.6 0.5-17.1 0.5 14.9 0.5-16.4 0.5 14.6 0.5-17.8 0.5 18.7 0.5-21 0.5 18.8 0.5-20.2 0.5 18 0.5-20 0.5 14.6 0.5-17 0.5 14.8 0.5-17.1 0.5 14.8 0.5-16.8 0.5 15.2 0.5-17.1 0.5 14.6 0.5-17.1 0.5 15.4 0.5-17 0.5 14.3 0.5-17.7 0.5 15.5 0.5-17.5 0.5 16.1 0.5-18.1 0.5 15.7 0.5-17.8 0.5 15.5 0.5-17.5 0.5 14.9 0.5-17.1 0.5 14.7 0.5-15.5 0.5 15.3 0.5-18.6 0.5 15.8 0.5-18.1 0.5 15.6 0.5-16.8 0.5 12.8 0.5-14.5 0.5 13.5 0.5-14.2 0.5 13.3 0.5-12.5 0.5 12.5 0.5-11.3 0.5 12.9 0.5-10.9 0.5 13.5 0.5-10.4 0.5 13.1 0.5-8.7 0.5 13.3 0.5-8.9 0.5 12.8 0.5-9.2 0.5 13.4 0.5-10.2 0.5 13.1 0.5-9.4 0.5 15.5 0.5-14.6 0.5 17.6 0.5-14.7 0.5 17.6 0.5-14.7 0.5 17.5 0.5-14.7 0.5 17.5 0.5-14.8 0.5 17.6 0.5-14.9 0.5 17.7 0.5-15 0.5 14.7 0.5-10.2 0.5 13.4 0.5-10.2 0.5 13.5 0.5-10.2 0.5 12.6 0.5-9.8 0.5 13.5 0.5-9.9 0.5 13.3 0.5-10 0.5 13 0.5-9.3 0.5 12.7 0.5-9.3 0.5 12.8 0.5-9.6 0.5 12.3 0.5-12.8 0.5 16.2 0.5-13.1 0.5 15.6 0.5-12.6 0.5 15.4 0.5-12.6 0.5 15 0.5-9.9 0.5 12.5 0.5-10.3 0.5 11.8 0.5-10 0.5 11.4 0.5-9.7 0.5 10.9 0.5-11.3 0.5 10.7 0.5-13.1 0.5 10.2 0.5-14 0.5 10.1 0.5-13.9 0.5 9.9 0.5-14.4 0.5 9.6 0.5-14.6 0.5 10.8 0.5-15.8 0.5 11.1 0.5-14.5 0.5 10.8 0.5-14.2 0.5 10.7 0.5-13.5 0.5 10.7 0.5-11.8 0.5 10.7 0.5-9.3 0.5 9.6 0.5-6.2 0.5 9.5 0.5-4.4 0.5 9.1 0.5-3.1 0.5 8.9 0.5 0.2 0.5 8.9 0.5 1.4 0.5 9 0.5 1 0.5 8.8 0.5 1.6 0.5 8.7 0.5-1.6 0.5 9 0.5-3.7 0.5 8.7 0.5-4.5 0.5 8.8 0.5-5 0.5 8.8 0.5-5.4 0.5 8.8 0.5-5.7 0.5 8.8 0.5-5.5 0.5 8.9 0.5-5.3 0.5 9 0.5-5.4 0.5 9 0.5-5.5 0.5 10.7 0.5-7.2 0.5 11 0.5-7.5 0.5 11.4 0.5-8.1 0.5 10.1 0.5-7.8 0.5 11 0.5-8 0.5 11.8 0.5-8.9 0.5 12 0.5-9.4 0.5 12.6 0.5-10.1 0.5 13.3 0.5-9.7 0.5 12.3 0.5-9.7 0.5 12.3 0.5-10.4 0.5 12.1 0.5-10.1 0.5 12.2 0.5-10.2 0.5 12.6 0.5-10.6 0.5 12.5 0.5-10.5 0.5 12.4 0.5-10.2 0.5 12.3 0.5-10.7 0.5 15.9 0.5-14.3 0.5 16.1 0.5-14.2 0.5 16 0.5-14.6 0.5 13.2 0.5-11.4 0.5 12.6 0.5-11 0.5 13 0.5-12 0.5 13.1 0.5-10.9 0.5 12.9 0.5-11.4 0.5 13.4 0.5-11.7 0.5 13.6 0.5-12.1 0.5 13.3 0.5-12.9 0.5 14.9 0.5-13.2 0.5 15.2 0.5-13.7 0.5 15.1 0.5-13.8 0.5 14.6 0.5-13.4 0.5 18.5 0.5-16.1 0.5 17.1 0.5-15.9 0.5 16.5 0.5-16.5 0.5 16.9 0.5-16.5 0.5 16.6 0.5-17.2 0.5 17.3 0.5-17.2 0.5 17.2 0.5-16.7 0.5 13.3 0.5-13.5 0.5 13.2 0.5-13.5 0.5 13.8 0.5-13.3 0.5 13.4 0.5-13.7 0.5 13.2 0.5-13 0.5 13.6 0.5-13.4 0.5 13.1 0.5-13.3 0.5 13.5 0.5-16.8 0.5 16.8 0.5-16.7 0.5 17 0.5-17 0.5 16.4 0.5-16.3 0.5 16.3 0.5-16.1 0.5 16.3 0.5-16.1 0.5 16.3 0.5-16 0.5 18.1 0.5-14.8 0.5 14.6 0.5-14.6 0.5 14.2 0.5-14.6 0.5 12 0.5-12.4 0.5 11.7 0.5-12.2 0.5 11 0.5-12 0.5 11.2 0.5-12.5 0.5 11.2 0.5-12.2 0.5 10.7 0.5-14.5 0.5 12.6 0.5-14.3 0.5 12.4 0.5-14.4 0.5 12.7 0.5-14.8 0.5 12.6 0.5-14.8 0.5 12.6 0.5-12.8 0.5 10.6 0.5-13.2 0.5 10.1 0.5-14.1 0.5 10.1 0.5-15.5 0.5 10 0.5-15.7 0.5 9.7 0.5-15.3 0.5 9.7 0.5-14.5 0.5 9.4 0.5-14.2 0.5 10 0.5-14.8 0.5 9.9 0.5-14.5 0.5 9.6 0.5-14.4 0.5 9.5 0.5-14.3 0.5 9.3 0.5-14.4 0.5 9.3 0.5-14.5 0.5 8.6 0.5-14.1 0.5 8.7 0.5-14.2 0.5 8.6 0.5-14.5 0.5 8.7 0.5-15.1 0.5 8.6 0.5-16 0.5 8.6 0.5-18.5 0.5 9.6 0.5-19.6 0.5 9.7 0.5-20.2 0.5 9.6 0.5-20 0.5 10.4 0.5-19.6 0.5 9.6 0.5-20.1 0.5 9.8 0.5-20.1 0.5 9.8 0.5-19.4 0.5 9.8 0.5-18.6 0.5 9.8 0.5-18.4 0.5 9.9 0.5-17.3 0.5 9.2 0.5-15 0.5 9 0.5-14.4 0.5 9.2 0.5-13.2 0.5 8.9 0.5-12.2 0.5 9.3 0.5-12.5 0.5 9.4 0.5-11.3 0.5 9.4 0.5-9.7 0.5 9.7 0.5-8.7 0.5 9.9 0.5-8.1 0.5 9.8 0.5-7.9 0.5 9.8 0.5-8.1 0.5 9.7 0.5-7.8 0.5 9.6 0.5-7.8 0.5 9.7 0.5-7.8 0.5 9.7 0.5-7.5 0.5 9.2 0.5-6.9 0.5 10.2 0.5-7.7 0.5 10 0.5-7 0.5 9.6 0.5-7.2 0.5 10.4 0.5-6.3 0.5 9.2 0.5-4.7 0.5 9.2 0.5-3.5 0.5 8.4 0.5-3 0.5 8.2 0.5-2.5 0.5 8.2 0.5-1.9 0.5 8.1 0.5-1.1 0.5 8.2 0.5-0.4 0.5 8.3 0.5 0.4 0.5 8.2 0.5 2.1 0.5 8.1 0.5 4.9 0.5 8.1 0.5 5 0.5 8.1 0.5 5.1 0.5 8.1 0.5 5.4 0.5 8 0.5 5.5 0.5 7.9 0.5 2.5 0.5 8 0.5 0.7 0.5 8.5 0.5-0.1 0.5 8.5 0.5-0.7 0.5 8.3 0.5-0.9 0.5 8.3 0.5-1 0.5 8.3 0.5-0.9 0.5 8.9 0.5-1.1 0.5 9 0.5-0.7 0.5 8.5 0.5-1.6 0.5 8.2 0.5-2.1 0.5 8.1 0.5-3.9 0.5 8.3 0.5-5.2 0.5 8.4 0.5-5.5 0.5 8.4 0.5-5.9 0.5 8.7 0.5-7.1 0.5 9.5 0.5-7.4 0.5 9.8 0.5-8 0.5 10.2 0.5-8.5 0.5 10.5 0.5-9 0.5 10.8 0.5-9.5 0.5 11.2 0.5-8.9 0.5 10.2 0.5-9 0.5 10.6 0.5-9.5 0.5 11 0.5-10 0.5 11.2 0.5-10.6 0.5 12 0.5-10.8 0.5 11.5 0.5-10.9 0.5 12.4 0.5-11.7 0.5 13 0.5-12.9 0.5 13.7 0.5-12.8 0.5 16 0.5-15.2 0.5 16.1 0.5-15.4 0.5 16.3 0.5-15.5 0.5 16.3 0.5-15.6 0.5 16.4 0.5-15.7 0.5 16.4 0.5-14.4 0.5 12.5 0.5-12 0.5 12.5 0.5-12.2 0.5 12.8 0.5-12.3 0.5 12.8 0.5-12.3 0.5 13 0.5-12 0.5 12.7 0.5-12.4 0.5 12.7 0.5-12.1 0.5 12.5 0.5-12.8 0.5 12.9 0.5-12.3 0.5 13.3 0.5-13.1 0.5 13.2 0.5-12.7 0.5 13.1 0.5-12.6 0.5 12.9 0.5-12.8 0.5 13.1 0.5-12.7 0.5 12.5 0.5-12.4 0.5 13 0.5-13 0.5 13.4 0.5-13.2 0.5 13.6 0.5-12.9 0.5 13 0.5-12.7 0.5 13 0.5-13.2 0.5 13.2 0.5-12.8 0.5 13.2 0.5-12.8 0.5 13.1 0.5-16.4 0.5 16.5 0.5-16.3 0.5 16.1 0.5-15.9 0.5 18.1 0.5-17.9 0.5 18.1 0.5-17.9 0.5 18 0.5-17.9 0.5 18.1 0.5-17.9 0.5 18.1 0.5-14.4 0.5 14.5 0.5-14.2 0.5 12.2 0.5-12.2 0.5 12.6 0.5-12.7 0.5 12.9 0.5-12.5 0.5 12.4 0.5-12.1 0.5 12.3 0.5-12.5 0.5 13.2 0.5-13.4 0.5 13.1 0.5-12.2 0.5 12.3 0.5-12.4 0.5 12.8 0.5-13.1 0.5 12.9 0.5-12.6 0.5 13 0.5-13 0.5 13.5 0.5-13.4 0.5 13.4 0.5-12.7 0.5 12.6 0.5-12.8 0.5 13.1 0.5-12.6 0.5 12.7 0.5-13 0.5 13 0.5-12.9 0.5 13.4 0.5-12.6 0.5 14.3 0.5-17 0.5 17.1 0.5-16.9 0.5 17.1 0.5-16.9 0.5 15.3 0.5-15.1 0.5 15.3 0.5-15.1 0.5 15.6 0.5-15.5 0.5 15.7 0.5-15.5 0.5 15.5 0.5-12.8 0.5 13 0.5-12.5 0.5 12.9 0.5-13 0.5 12.8 0.5-12.3 0.5 12.3 0.5-12.1 0.5 12.8 0.5-13.3 0.5 13.1 0.5-12.7 0.5 13.1 0.5-12.6 0.5 12.9 0.5-13.3 0.5 13.4 0.5-13 0.5 12.9 0.5-12.6 0.5 13.1 0.5-13.1 0.5 12.8 0.5-14.4 0.5 14.5 0.5-14.4 0.5 14.4 0.5-14.3 0.5 15.1 0.5-14.9 0.5 14.5 0.5-14.4 0.5 14.5 0.5-14.4 0.5 14.6 0.5-14.5 0.5 14.6 0.5-12.5 0.5 15.1 0.5-15 0.5 15.1 0.5-15.1 0.5 15.2 0.5-15.2 0.5 15.2 0.5-15.1 0.5 15.2 0.5-15.7 0.5 15.7 0.5-15.3 0.5 15.3 0.5-15.7 0.5 13.1 0.5-12.5 0.5 12.4 0.5-12.6 0.5 13.1 0.5-13.3 0.5 12.9 0.5-13.1 0.5 13 0.5-12.6 0.5 12.5 0.5-14.1 0.5 14.5 0.5-14.5 0.5 14.4 0.5-14.4 0.5 14 0.5-12.4 0.5 12.4 0.5-12.5 0.5 13.2 0.5-13.6 0.5 12.8 0.5-12.5 0.5 12.7 0.5-12.4 0.5 12.3 0.5-12.9 0.5 13 0.5-12.7 0.5 15.7 0.5-15.7 0.5 15.7 0.5-16.1 0.5 16.1 0.5-15.5 0.5 12.3 0.5-13 0.5 13.5 0.5-12.9 0.5 12.2 0.5-12.2 0.5 12.6 0.5-13.3 0.5 13.2 0.5-14.5 0.5 14.4 0.5-14.4 0.5 14.2 0.5-14.2 0.5 14.6 0.5-14.7 0.5 14.3 0.5-12.7 0.5 12.7 0.5-13.2 0.5 13.2 0.5-12.9 0.5 13.1 0.5-13.1 0.5 12.7 0.5-12.9 0.5 13.3 0.5-13.6 0.5 13.5 0.5-13.6 0.5 13.2 0.5-13 0.5 12.9 0.5-12.7 0.5 12.5 0.5-13 0.5 13.5 0.5-13.6 0.5 13.4 0.5-13.1 0.5 13.1 0.5-13.3 0.5 13.1 0.5-13.3 0.5 13.3 0.5-13.3 0.5 13.2 0.5-13.3 0.5 12.8 0.5-15.9 0.5 17.6 0.5-17.7 0.5 17.6 0.5-17.7 0.5 17.5 0.5-17.7 0.5 17.6 0.5-14.5 0.5 14.3 0.5-14.4 0.5 12.9 0.5-13.2 0.5 13 0.5-13.3 0.5 12.6 0.5-12.8 0.5 12.4 0.5-12.8 0.5 13 0.5-13 0.5 12.5 0.5-12.8 0.5 13.1 0.5-13.2 0.5 12.5 0.5-12.5 0.5 12.8 0.5-13.5 0.5 13.1 0.5-13 0.5 12.8 0.5-13.2 0.5 16.4 0.5-16.7 0.5 16.5 0.5-16.9 0.5 16.6 0.5-16.6 0.5 16.4 0.5-16.6 0.5 16.3 0.5-17.1 0.5 16.8 0.5-17 0.5 13 0.5-13 0.5 13 0.5-16 0.5 15.4 0.5-15.8 0.5 15.3 0.5-15.7 0.5 15.6 0.5-16 0.5 15.2 0.5-15.6 0.5 15.1 0.5-15.5 0.5 15.2 0.5-12.8 0.5 12.3 0.5-12.8 0.5 12.4 0.5-13.2 0.5 12.8 0.5-12.9 0.5 13.1 0.5-13.5 0.5 12.8 0.5-13.3 0.5 13.1 0.5-13.4 0.5 13.1 0.5-14 0.5 13.6 0.5-13.7 0.5 13.4 0.5-13.7 0.5 12.7 0.5-13 0.5 14.9 0.5-15 0.5 14.7 0.5-15.6 0.5 15.3 0.5-15.2 0.5 12.9 0.5-16.2 0.5 15.8 0.5-16.1 0.5 16.2 0.5-16.4 0.5 16 0.5-13.4 0.5 13.1 0.5-13.3 0.5 13.1 0.5-13.5 0.5 13.1 0.5-13.4 0.5 17 0.5-16.8 0.5 16.5 0.5-16.7 0.5 16.4 0.5-16.9 0.5 16.5 0.5-17.3 0.5 16.9 0.5-17.2 0.5 13.3 0.5-13.3 0.5 12.8 0.5-13.5 0.5 13.3 0.5-13.6 0.5 13 0.5-13.3 0.5 13 0.5-13.8 0.5 12.9 0.5-13.1 0.5 12.6 0.5-13.2 0.5 12.4 0.5-13 0.5 12.7 0.5-13.6 0.5 13.1 0.5-16.8 0.5 15.7 0.5-16.4 0.5 16 0.5-16.8 0.5 15.6 0.5-16.7 0.5 15.7 0.5-13.7 0.5 12.8 0.5-13.9 0.5 12.2 0.5-13.8 0.5 13 0.5-14.4 0.5 12.7 0.5-14.7 0.5 13.1 0.5-15 0.5 13.5 0.5-15.1 0.5 13.1 0.5-14.5 0.5 12.8 0.5-14.4 0.5 13.2 0.5-14.5 0.5 14.9 0.5-16.8 0.5 15.4 0.5-16.7 0.5 15.2 0.5-16.8 0.5 15.3 0.5-17 0.5 13.4 0.5-14.5 0.5 13.2 0.5-14.9 0.5 12.9 0.5-13.9 0.5 13.3 0.5-14.3 0.5 13.3 0.5-15.8 0.5 14.7 0.5-15.6 0.5 14.6 0.5-15.4 0.5 16 0.5-16.8 0.5 16.1 0.5-15.7 0.5 15 0.5-14.9 0.5 14.3 0.5-15.1 0.5 14.6 0.5-14.9 0.5 14.5 0.5-15.1 0.5 13.4 0.5-13.7 0.5 13.3 0.5-13.8 0.5 12.9 0.5-13.4 0.5 13.5 0.5-13.8 0.5 13.5 0.5-13.6 0.5 13.2 0.5-13.2 0.5 13.3 0.5-13.8 0.5 13.9 0.5-13.9 0.5 13.7 0.5-14.7 0.5 14.8 0.5-14.5 0.5 14.7 0.5-14.4 0.5 14.6 0.5-14.1 0.5 17.1 0.5-16.7 0.5 17.2 0.5-16.7 0.5 17.2 0.5-16.6 0.5 17.1 0.5-15.3 0.5 13.3 0.5-12.4 0.5 13.7 0.5-13.3 0.5 13.8 0.5-12.4 0.5 13.7 0.5-12.7 0.5 13.5 0.5-13.3 0.5 13.5 0.5-12.1 0.5 13.5 0.5-14.6 0.5 14.9 0.5-14.1 0.5 15 0.5-14.2 0.5 15 0.5-14.1 0.5 14.9 0.5-12.5 0.5 14 0.5-12.6 0.5 13.1 0.5-12.3 0.5 13 0.5-12.3 0.5 13.6 0.5-12.8 0.5 13.1 0.5-12.9 0.5 14 0.5-12.9 0.5 13.5 0.5-13 0.5 13.6 0.5-13 0.5 14 0.5-13.3 0.5 14.1 0.5-12.9 0.5 13.3 0.5-12.5 0.5 14.8 0.5-14.3 0.5 15 0.5-17.4 0.5 18 0.5-17.4 0.5 18.1 0.5-17.4 0.5 18 0.5-17.4 0.5 18.1 0.5-17.5 0.5 18 0.5-14.5 0.5 13.8 0.5-13.4 0.5 13.9 0.5-13.4 0.5 13.8 0.5-13.3 0.5 13.5 0.5-12.7 0.5 13.5 0.5-13 0.5 12.8 0.5-12.8 0.5 13.5 0.5-12.5 0.5 13.2 0.5-15 0.5 15.3 0.5-15 0.5 14.9 0.5-14.7 0.5 15.1 0.5-15 0.5 15.3 0.5-13.8 0.5 15.1 0.5-14.8 0.5 14.7 0.5-14.9 0.5 14.8 0.5-14.7 0.5 12.8 0.5-13.4 0.5 13.7 0.5-13.4 0.5 12.8 0.5-12.8 0.5 13 0.5-13.6 0.5 13.1 0.5-13 0.5 12.7 0.5-12.9 0.5 12.5 0.5-13 0.5 13 0.5-13.2 0.5 12.5 0.5-12.7 0.5 12.2 0.5-12.6 0.5 12.3 0.5-12.3 0.5 11.7 0.5-12.1 0.5 11.7 0.5-12.5 0.5 11.9 0.5-12.7 0.5 11.6 0.5-12.3 0.5 10.8 0.5-12.1 0.5 10.9 0.5-12.1 0.5 10.6 0.5-13.3 0.5 13 0.5-14.6 0.5 12.8 0.5-14.6 0.5 12.7 0.5-14.5 0.5 12.4 0.5-13.6 0.5 11.3 0.5-13.7 0.5 9.9 0.5-13.5 0.5 9.7 0.5-13.4 0.5 9.3 0.5-13.9 0.5 9.4 0.5-13.9 0.5 9.1 0.5-13.6 0.5 8.7 0.5-13.3 0.5 8.6 0.5-13.2 0.5 8.3 0.5-13.2 0.5 8.2 0.5-13.3 0.5 8.1 0.5-13.5 0.5 8 0.5-13.5 0.5 7.9 0.5-13.9 0.5 7.8 0.5-14.1 0.5 7.8 0.5-14.2 0.5 7.7 0.5-15.2 0.5 8.3 0.5-15.7 0.5 8.4 0.5-16.5 0.5 8.3 0.5-16.7 0.5 7.9 0.5-18.2 0.5 7.7 0.5-19.6 0.5 7.8 0.5-20.6 0.5 7.9 0.5-21.4 0.5 7.9 0.5-23.2 0.5 7.9 0.5-22 0.5 7.9 0.5-19.2 0.5 8.2 0.5-18.4 0.5 8.2 0.5-18.2 0.5 8.9 0.5-17.6 0.5 8.7 0.5-17.1 0.5 8.6 0.5-16 0.5 8 0.5-15.6 0.5 8 0.5-15 0.5 8.1 0.5-14.4 0.5 8.3 0.5-13.9 0.5 8.4 0.5-13.5 0.5 8.3 0.5-13.2 0.5 8.5 0.5-12.9 0.5 8.5 0.5-12.7 0.5 8.8 0.5-14.1 0.5 9.7 0.5-14.2 0.5 10.1 0.5-13.7 0.5 10 0.5-11.8 0.5 10.1 0.5-8.5 0.5 8.9 0.5-6.2 0.5 8.4 0.5-4.2 0.5 8 0.5-3.3 0.5 7.9 0.5-2.7 0.5 7.7 0.5-0.6 0.5 7.5 0.5 0.8 0.5 7.6 0.5 1.2 0.5 7.4 0.5 2.1 0.5 7.3 0.5 3.1 0.5 7.3 0.5 3.2 0.5 7.2 0.5 2.7 0.5 7.3 0.5 2.1 0.5 7.3 0.5 2.3 0.5 7.3 0.5 3.4 0.5 7.3 0.5 5 0.5 7.1 0.5 7.2 0.5 7.1 0.5 10.5 0.5 7.1 0.5 18.7 0.5 7.1 0.5 16.7 0.5 7 0.5 8 0.5 7.1 0.5 5.6 0.5 7 0.5 3.7 0.5 7 0.5 2.2 0.5 7 0.5 0.8 0.5 7.1 0.5-0.4 0.5 7.1 0.5-1.3 0.5 7.2 0.5-1.5 0.5 7.2 0.5-1 0.5 7 0.5-0.7 0.5 7.2 0.5-1 0.5 7.2 0.5-1.6 0.5 7.6 0.5-2.9 0.5 7.7 0.5-3.7 0.5 8 0.5-4.1 0.5 8.3 0.5-4.8 0.5 8.2 0.5-5.1 0.5 8.7 0.5-5.7 0.5 9 0.5-6.5 0.5 9.2 0.5-6.8 0.5 9.5 0.5-7.7 0.5 9.7 0.5-7.9 0.5 10.2 0.5-8.2 0.5 10.1 0.5-8.7 0.5 10.3 0.5-8.4 0.5 10.3 0.5-9.6 0.5 11.4 0.5-10.1 0.5 11.7 0.5-10.4 0.5 12 0.5-10.8 0.5 12.4 0.5-11.2 0.5 13.6 0.5-12.5 0.5 13.8 0.5-11.6 0.5 12.9 0.5-11.7 0.5 12.9 0.5-12.1 0.5 13.2 0.5-12.5 0.5 13.5 0.5-12.7 0.5 12.1 0.5-11.2 0.5 12.5 0.5-11.3 0.5 12.3 0.5-11.8 0.5 12.3 0.5-10.9 0.5 12.2 0.5-11.4 0.5 11.8 0.5-11.1 0.5 12.5 0.5-12.1 0.5 12.2 0.5-11.4 0.5 12.6 0.5-11.5 0.5 12.3 0.5-13.2 0.5 14 0.5-13.3 0.5 13.5 0.5-12.8 0.5 13.5 0.5-12.9 0.5 13.6 0.5-13 0.5 14.1 0.5-12.3 0.5 12.9 0.5-12.1 0.5 12.7 0.5-12.1 0.5 12.7 0.5-12.3 0.5 15 0.5-14.4 0.5 14.9 0.5-14.5 0.5 14.9 0.5-14.3 0.5 12.7 0.5-12.4 0.5 12.6 0.5-11.8 0.5 11.8 0.5-11.4 0.5 12.2 0.5-12.1 0.5 12.1 0.5-11.5 0.5 12 0.5-11.9 0.5 12.4 0.5-12.1 0.5 12 0.5-12.2 0.5 12.9 0.5-12.1 0.5 11.8 0.5-11.4 0.5 12.2 0.5-12.1 0.5 11.9 0.5-13.2 0.5 13.7 0.5-13.5 0.5 13.7 0.5-13.4 0.5 13.4 0.5-13.2 0.5 13.8 0.5-12.2 0.5 12.6 0.5-12.2 0.5 12.3 0.5-12.3 0.5 12.3 0.5-11.8 0.5 12.4 0.5-12.4 0.5 12.6 0.5-12.2 0.5 11.9 0.5-12.1 0.5 14.3 0.5-13.8 0.5 14 0.5-13.9 0.5 14 0.5-14.3 0.5 14.4 0.5-14.2 0.5 12.5 0.5-12.3 0.5 12.1 0.5-12.3 0.5 12.3 0.5-11.6 0.5 11.7 0.5-13.6 0.5 13.6 0.5-13.6 0.5 14.3 0.5-14.2 0.5 14.1 0.5-14.1 0.5 16.5 0.5-16.5 0.5 16.6 0.5-16.5 0.5 16.5 0.5-16.5 0.5 16.5 0.5-15.1 0.5 12.5 0.5-12.3 0.5 12.4 0.5-11.9 0.5 11.7 0.5-11.7 0.5 12.2 0.5-12.4 0.5 12.1 0.5-12 0.5 12.3 0.5-12.5 0.5 12.4 0.5-12.5 0.5 12.8 0.5-12.5 0.5 12.1 0.5-12.1 0.5 12.3 0.5-12.5 0.5 12.5 0.5-12.4 0.5 12.4 0.5-12.4 0.5 12.4 0.5-12.2 0.5 12 0.5-12.3 0.5 12.6 0.5-12.3 0.5 12.4 0.5-12.4 0.5 12.1 0.5-12 0.5 12.3 0.5-12.1 0.5 12.1 0.5-12.6 0.5 12.5 0.5-12.8 0.5 12.6 0.5-12.3 0.5 12.1 0.5-12.2 0.5 12.5 0.5-13 0.5 12.3 0.5-12.3 0.5 12.6 0.5-14.3 0.5 17.2 0.5-17.4 0.5 17.2 0.5-17.4 0.5 17.2 0.5-15.5 0.5 15.3 0.5-15.6 0.5 15.3 0.5-16.1 0.5 12.4 0.5-11.9 0.5 12.1 0.5-12.9 0.5 12.4 0.5-12.4 0.5 12.4 0.5-12.9 0.5 12.9 0.5-13.2 0.5 12.5 0.5-12.6 0.5 12.4 0.5-12 0.5 11.8 0.5-12.3 0.5 12.5 0.5-14.2 0.5 13.7 0.5-13.8 0.5 14.2 0.5-14.3 0.5 13.7 0.5-13.7 0.5 16.2 0.5-16.3 0.5 16.3 0.5-14.2 0.5 14.2 0.5-14.2 0.5 14.2 0.5-14.7 0.5 14.8 0.5-14.3 0.5 11.8 0.5-12 0.5 12 0.5-11.8 0.5 12 0.5-11.9 0.5 12 0.5-12 0.5 12.5 0.5-12.5 0.5 12.1 0.5-12.3 0.5 12.7 0.5-12.4 0.5 12.6 0.5-12.7 0.5 12.8 0.5-12.7 0.5 12.4 0.5-11.8 0.5 12 0.5-12.1 0.5 12.3 0.5-12.3 0.5 12.7 0.5-12.4 0.5 12.3 0.5-12.4 0.5 12.2 0.5-12.4 0.5 13 0.5-14 0.5 13.5 0.5-13.4 0.5 13.9 0.5-13.8 0.5 13.7 0.5-13.6 0.5 13.8 0.5-13.7 0.5 13.9 0.5-13.8 0.5 13.9 0.5-12.8 0.5 12.3 0.5-11.7 0.5 14.6 0.5-15 0.5 15.1 0.5-14.5 0.5 14.6 0.5-15.1 0.5 15.1 0.5-14.6 0.5 14.7 0.5-14.6 0.5 14.7 0.5-16.6 0.5 16.6 0.5-16.6 0.5 14.5 0.5-14.4 0.5 14.2 0.5-14.1 0.5 14 0.5-12.2 0.5 12.3 0.5-11.9 0.5 12.1 0.5-12 0.5 12.2 0.5-12.7 0.5 12.7 0.5-12.5 0.5 12.6 0.5-12.2 0.5 12.1 0.5-12.4 0.5 13.6 0.5-13.5 0.5 13.6 0.5-13.4 0.5 13.4 0.5-13.4 0.5 12.2 0.5-11.8 0.5 12 0.5-11.7 0.5 12.2 0.5-12.7 0.5 12.9 0.5-12.7 0.5 12.2 0.5-11.8 0.5 11.9 0.5-12 0.5 12.5 0.5-12.1 0.5 12.4 0.5-12.6 0.5 12.3 0.5-11.9 0.5 12 0.5-12 0.5 12.6 0.5-12.5 0.5 12.8 0.5-12.6 0.5 12.4 0.5-12.2 0.5 12.5 0.5-14.2 0.5 14.3 0.5-14.1 0.5 14.2 0.5-14 0.5 14.5 0.5-14.3 0.5 16.1 0.5-15.8 0.5 16 0.5-15.8 0.5 16 0.5-13.9 0.5 14.1 0.5-13.5 0.5 12.2 0.5-11.9 0.5 12.2 0.5-11.9 0.5 12.2 0.5-12.4 0.5 12.3 0.5-12.1 0.5 12.4 0.5-12 0.5 12.4 0.5-12.2 0.5 12.5 0.5-12.4 0.5 12.5 0.5-12.1 0.5 12.4 0.5-11.8 0.5 12.2 0.5-12 0.5 12 0.5-12.1 0.5 12.4 0.5-11.9 0.5 12.3 0.5-12.2 0.5 12.3 0.5-12.1 0.5 12.7 0.5-12 0.5 12.3 0.5-12.3 0.5 12.1 0.5-11.5 0.5 12.3 0.5-11.8 0.5 13.8 0.5-13.6 0.5 13.9 0.5-13.7 0.5 14.1 0.5-13.8 0.5 14.1 0.5-13.8 0.5 14.2 0.5-16 0.5 14.2 0.5-13.8 0.5 14.6 0.5-14.3 0.5 14.3 0.5-13.9 0.5 14.2 0.5-13.8 0.5 14.4 0.5-11.5 0.5 12 0.5-11.4 0.5 11.7 0.5-11.5 0.5 11.9 0.5-11.7 0.5 12.2 0.5-11.9 0.5 12 0.5-11 0.5 11.9 0.5-11.8 0.5 12.3 0.5-12 0.5 12.3 0.5-13.2 0.5 14 0.5-13.4 0.5 13.7 0.5-13.1 0.5 13.7 0.5-13.1 0.5 13.5 0.5-12.9 0.5 13.9 0.5-11.6 0.5 11.8 0.5-10.8 0.5 11.4 0.5-11.1 0.5 11.9 0.5-11.2 0.5 14.7 0.5-14.4 0.5 14.9 0.5-14.4 0.5 14.9 0.5-14.1 0.5 14.6 0.5-14.5 0.5 12.2 0.5-11.5 0.5 12 0.5-14.4 0.5 14.3 0.5-13.9 0.5 14.7 0.5-14.3 0.5 14.6 0.5-14.2 0.5 14.2 0.5-13.8 0.5 14.2 0.5-11.2 0.5 11.5 0.5-11.2 0.5 11.8 0.5-11.7 0.5 12 0.5-11.7 0.5 12.3 0.5-12.1 0.5 11.9 0.5-11.6 0.5 11.9 0.5-11.6 0.5 12.1 0.5-11.5 0.5 11.6 0.5-11.9 0.5 12.1 0.5-11.8 0.5 11.6 0.5-11.6 0.5 12.1 0.5-11.5 0.5 11.6 0.5-14.2 0.5 14.1 0.5-14 0.5 14.4 0.5-14.3 0.5 14.2 0.5-14.1 0.5 17 0.5-16.9 0.5 17 0.5-16.9 0.5 17 0.5-14.5 0.5 14.6 0.5-14.4 0.5 14.4 0.5-14.4 0.5 14.5 0.5-14.3 0.5 11.6 0.5-11.4 0.5 11.8 0.5-11.6 0.5 11.8 0.5-11.8 0.5 11.6 0.5-11.5 0.5 11.2 0.5-11.2 0.5 11.3 0.5-11.2 0.5 11.4 0.5-11.4 0.5 11.3 0.5-14.2 0.5 14.5 0.5-14.5 0.5 14.5 0.5-14.5 0.5 14.2 0.5-14.2 0.5 14.5 0.5-14.5 0.5 14.1 0.5-11.3 0.5 11.4 0.5-11.5 0.5 11.4 0.5-12 0.5 12.2 0.5-12.3 0.5 11.8 0.5-11.4 0.5 14.3 0.5-14.7 0.5 14.6 0.5-14.6 0.5 14.4 0.5-14.3 0.5 14.2 0.5-14.8 0.5 11.5 0.5-11.6 0.5 12 0.5-11.9 0.5 11.2 0.5-11.8 0.5 11.6 0.5-12 0.5 11.3 0.5-12.1 0.5 11.5 0.5-12.1 0.5 11.9 0.5-12.1 0.5 11.5 0.5-14.5 0.5 13.8 0.5-14.6 0.5 13.5 0.5-14.3 0.5 13.7 0.5-14.5 0.5 13.9 0.5-14.7 0.5 13.7 0.5-14.5 0.5 13.8 0.5-14.8 0.5 14.2 0.5-13.1 0.5 11.5 0.5-12.7 0.5 11.2 0.5-12.9 0.5 11.9 0.5-12.9 0.5 11.8 0.5-12.9 0.5 11.4 0.5-11.8 0.5 11.6 0.5-12.4 0.5 11.5 0.5-12.1 0.5 12.8 0.5-13.1 0.5 12.8 0.5-13.1 0.5 12.9 0.5-13 0.5 13.1 0.5-12.5 0.5 12.9 0.5-14.1 0.5 14.8 0.5-13.9 0.5 13.5 0.5-12.7 0.5 13.6 0.5-10.3 0.5 11.3 0.5-9.9 0.5 11.2 0.5-10.3 0.5 12 0.5-10.2 0.5 11.7 0.5-9.7 0.5 11.1 0.5-9.7 0.5 11.8 0.5-10 0.5 11.7 0.5-10 0.5 11 0.5-10 0.5 11.4 0.5-9.9 0.5 10.9 0.5-10.2 0.5 11.5 0.5-10 0.5 10.9 0.5-10.1 0.5 11.5 0.5-10.5 0.5 11.7 0.5-10.4 0.5 11.1 0.5-10.4 0.5 11.6 0.5-13.2 0.5 13.9 0.5-13 0.5 13.8 0.5-13 0.5 13.7 0.5-13 0.5 14.2 0.5-10.9 0.5 11.3 0.5-10.4 0.5 10.9 0.5-10.4 0.5 13 0.5-12.6 0.5 13.2 0.5-12.5 0.5 13.1 0.5-12.6 0.5 13.1 0.5-12.7 0.5 13.1 0.5-12.4 0.5 12.9 0.5-12.6 0.5 13 0.5-15 0.5 13.7 0.5-13.3 0.5 13.4 0.5-13 0.5 13.5 0.5-13.2 0.5 13.7 0.5-13.3 0.5 13.4 0.5-13.1 0.5 13.4 0.5-10.9 0.5 11.1 0.5-10.8 0.5 11.3 0.5-11 0.5 11.4 0.5-10.8 0.5 10.9 0.5-10.9 0.5 11.6 0.5-11.2 0.5 11.4 0.5-11.5 0.5 11.5 0.5-11.1 0.5 11.4 0.5-11.2 0.5 11.6 0.5-13.3 0.5 13.5 0.5-13.3 0.5 15.3 0.5-15.2 0.5 15.4 0.5-15.3 0.5 15.4 0.5-15.3 0.5 15.4 0.5-15.3 0.5 15.4 0.5-15.3 0.5 15.4 0.5-13.1 0.5 13.2 0.5-13.1 0.5 11.3 0.5-11.7 0.5 11.3 0.5-10.7 0.5 11 0.5-11.1 0.5 11.1 0.5-11.2 0.5 11.2 0.5-11.2 0.5 11.6 0.5-11.5 0.5 11.6 0.5-11.3 0.5 11.2 0.5-11.1 0.5 10.9 0.5-11.2 0.5 11.7 0.5-11.3 0.5 11.2 0.5-11.4 0.5 13.5 0.5-13.2 0.5 13.2 0.5-12.9 0.5 13 0.5-13.1 0.5 13.1 0.5-13 0.5 13.1 0.5-14.8 0.5 14.8 0.5-14.7 0.5 12.6 0.5-12.6 0.5 12.8 0.5-12.7 0.5 12.5 0.5-12.5 0.5 12.6 0.5-12.6 0.5 12.5 0.5-12.4 0.5 12.8 0.5-11.1 0.5 10.8 0.5-10.9 0.5 11.2 0.5-11.1 0.5 11.2 0.5-11.2 0.5 11.2 0.5-11.4 0.5 12.9 0.5-13 0.5 13 0.5-12.5 0.5 12.6 0.5-12.8 0.5 11 0.5-12.7 0.5 12.8 0.5-12.7 0.5 12.6 0.5-12.6 0.5 12.6 0.5-12.6 0.5 12.9 0.5-11.2 0.5 11 0.5-11.1 0.5 11.4 0.5-11.4 0.5 12.2 0.5-12.3 0.5 12.3 0.5-11.9 0.5 12 0.5-12.2 0.5 12.2 0.5-11.8 0.5 11.8 0.5-12 0.5 10.9 0.5-11 0.5 11.2 0.5-10.8 0.5 10.9 0.5-10.9 0.5 10.9 0.5-11 0.5 11.4 0.5-11.4 0.5 11.2 0.5-11.3 0.5 11.4 0.5-11.1 0.5 10.8 0.5-10.8 0.5 11 0.5-11.2 0.5 11.5 0.5-11.2 0.5 10.9 0.5-11 0.5 11.5 0.5-11.4 0.5 11.5 0.5-11.1 0.5 13.6 0.5-14.1 0.5 14.1 0.5-15.9 0.5 16 0.5-16 0.5 16 0.5-15.9 0.5 16 0.5-13.7 0.5 13.7 0.5-13.6 0.5 13.7 0.5-13.9 0.5 11.5 0.5-11.4 0.5 11.1 0.5-11.2 0.5 11.6 0.5-11.4 0.5 11.2 0.5-10.9 0.5 10.7 0.5-10.9 0.5 11 0.5-11.2 0.5 11.2 0.5-11.1 0.5 13.6 0.5-14.5 0.5 14.5 0.5-14.5 0.5 14.5 0.5-14.5 0.5 12.3 0.5-11.6 0.5 11.4 0.5-11.1 0.5 11 0.5-11 0.5 11.2 0.5-11.5 0.5 11.3 0.5-11.6 0.5 11.7 0.5-11.7 0.5 11.6 0.5-11.3 0.5 11.2 0.5-11.6 0.5 11.1 0.5-11.1 0.5 11.1 0.5-11.1 0.5 11.3 0.5-11.4 0.5 11.2 0.5-11.4 0.5 11.5 0.5-11.3 0.5 10.7 0.5-11.3 0.5 11.5 0.5-11.4 0.5 11.4 0.5-11.6 0.5 11.3 0.5-12.1 0.5 14.6 0.5-14.7 0.5 14.6 0.5-14.7 0.5 14.6 0.5-13.6 0.5 13.5 0.5-13.9 0.5 13.9 0.5-13.9 0.5 11.5 0.5-11.4 0.5 11.3 0.5-11.7 0.5 11.4 0.5-11.5 0.5 11.1 0.5-10.9 0.5 11.2 0.5-11.6 0.5 11.1 0.5-10.9 0.5 11 0.5-11.2 0.5 10.8 0.5-11.1 0.5 11.5 0.5-11.7 0.5 11.4 0.5-12.4 0.5 12 0.5-12.2 0.5 12.2 0.5-12.3 0.5 12.4 0.5-12.5 0.5 12.4 0.5-12.6 0.5 12.1 0.5-12.2 0.5 12.1 0.5-12.3 0.5 12.4 0.5-11.7 0.5 11.7 0.5-11.5 0.5 11.1 0.5-11.6 0.5 11.8 0.5-11.5 0.5 10.9 0.5-11.1 0.5 13.2 0.5-13.3 0.5 13.2 0.5-13.3 0.5 13.1 0.5-13.5 0.5 13.4 0.5-13.2 0.5 13.1 0.5-13.7 0.5 11.5 0.5-11.6 0.5 11.2 0.5-11.1 0.5 11.1 0.5-11.6 0.5 11.6 0.5-11.7 0.5 11.4 0.5-11.5 0.5 11.2 0.5-11 0.5 11.1 0.5-11.8 0.5 11.8 0.5-11.7 0.5 11.1 0.5-11.5 0.5 11.4 0.5-11.1 0.5 10.9 0.5-11 0.5 10.9 0.5-11.3 0.5 11.5 0.5-13.1 0.5 12.7 0.5-12.9 0.5 12.5 0.5-12.8 0.5 12.5 0.5-11.3 0.5 11.6 0.5-11.8 0.5 11.2 0.5-11.9 0.5 11.4 0.5-11.6 0.5 11.7 0.5-12 0.5 13.2 0.5-13.8 0.5 13.4 0.5-13.4 0.5 13.1 0.5-13.6 0.5 13.2 0.5-13.3 0.5 13 0.5-13.6 0.5 13.3 0.5-13.7 0.5 13.4 0.5-13.3 0.5 11.3 0.5-11.4 0.5 11.5 0.5-11.8 0.5 11.5 0.5-11.3 0.5 11 0.5-11.1 0.5 11 0.5-10.9 0.5 11.2 0.5-11.6 0.5 11.7 0.5-11.7 0.5 11.8 0.5-11.8 0.5 14.2 0.5-14.3 0.5 14.3 0.5-13.8 0.5 13.8 0.5-15.2 0.5 15.2 0.5-15.2 0.5 12.6 0.5-12.6 0.5 12.8 0.5-11.5 0.5 11.5 0.5-11.5 0.5 11.5 0.5-11.7 0.5 11.7 0.5-11.5 0.5 11.2 0.5-11.6 0.5 11.8 0.5-11.6 0.5 11.5 0.5-11.7 0.5 11.5 0.5-11.5 0.5 11.7 0.5-11.6 0.5 11.9 0.5-12 0.5 13.9 0.5-13.8 0.5 13.8 0.5-13.7 0.5 13.7 0.5-13.6 0.5 13.6 0.5-13.6 0.5 13.6 0.5-13.6 0.5 13.6 0.5-13.7 0.5 11.3 0.5-11.2 0.5 11.6 0.5-11.6 0.5 11.2 0.5-11.1 0.5 11.5 0.5-11.6 0.5 11.3 0.5-11.2 0.5 11.2 0.5-11.3 0.5 11.5 0.5-11.3 0.5 12.4 0.5-12.6 0.5 12.6 0.5-12.6 0.5 12.6 0.5-13.9 0.5 12.8 0.5-12.7 0.5 12.9 0.5-12.8 0.5 13.1 0.5-13 0.5 12.8 0.5-12.6 0.5 12.8 0.5-11.4 0.5 11.3 0.5-11.3 0.5 11.6 0.5-11.4 0.5 11.7 0.5-11.2 0.5 11.2 0.5-11 0.5 11.4 0.5-11.4 0.5 11.5 0.5-11.2 0.5 11.1 0.5-10.7 0.5 10.9 0.5-10.8 0.5 12.2 0.5-12.5 0.5 12.6 0.5-12.4 0.5 12.6 0.5-12.1 0.5 12.3 0.5-11.9 0.5 10.8 0.5-11.1 0.5 11.7 0.5-11.3 0.5 11.5 0.5-11.2 0.5 10.9 0.5-10.9 0.5 11.4 0.5-11.2 0.5 11.2 0.5-12.5 0.5 12.6 0.5-12.6 0.5 12.8 0.5-12.7 0.5 12.8 0.5-12.8 0.5 12.6 0.5-12.6 0.5 12.7 0.5-12.7 0.5 12.5 0.5-12.6 0.5 12.4 0.5-11.5 0.5 11.9 0.5-11.8 0.5 11.3 0.5-11.6 0.5 11.6 0.5-11.4 0.5 11.2 0.5-11.4 0.5 11.4 0.5-11.5 0.5 11.4 0.5-11.9 0.5 12.4 0.5-12.4 0.5 12.2 0.5-12.5 0.5 12.3 0.5-12.7 0.5 12.4 0.5-12.4 0.5 12.2 0.5-12.9 0.5 11.7 0.5-11.7 0.5 11.3 0.5-11.3 0.5 11.4 0.5-11.7 0.5 11.2 0.5-11.7 0.5 11.7 0.5-11.8 0.5 11.3 0.5-11.8 0.5 11.3 0.5-11.3 0.5 11.5 0.5-11.7 0.5 11.5 0.5-12.2 0.5 11.9 0.5-11.8 0.5 11.2 0.5-11.7 0.5 11.4 0.5-13.3 0.5 13.1 0.5-13.4 0.5 13.5 0.5-13.8 0.5 14.9 0.5-15.3 0.5 15 0.5-15.3 0.5 15 0.5-15.3 0.5 14.9 0.5-13.4 0.5 11.2 0.5-11.8 0.5 11.6 0.5-11.7 0.5 11.2 0.5-11.7 0.5 11.5 0.5-11.9 0.5 11.4 0.5-11.7 0.5 11.5 0.5-11.7 0.5 11.5 0.5-11.7 0.5 11.4 0.5-11.8 0.5 11.3 0.5-11.4 0.5 11.4 0.5-12 0.5 11.8 0.5-14 0.5 13.8 0.5-13.9 0.5 15.1 0.5-15.3 0.5 15.2 0.5-15.2 0.5 15.1 0.5-13.1 0.5 13.1 0.5-13.1 0.5 13.1 0.5-12.9 0.5 13 0.5-12.7 0.5 12.8 0.5-13 0.5 11.4 0.5-10.8 0.5 11.2 0.5-11.4 0.5 11.7 0.5-11.1 0.5 11.1 0.5-11.1 0.5 11.7 0.5-11.2 0.5 11.3 0.5-11.1 0.5 11.4 0.5-11.4 0.5 11.7 0.5-11.3 0.5 12 0.5-11.5 0.5 11.5 0.5-11.2 0.5 12.7 0.5-12.4 0.5 12.7 0.5-12.3 0.5 12.7 0.5-11.9 0.5 12.2 0.5-12.1 0.5 12.5 0.5-12.3 0.5 12.6 0.5-14.1 0.5 13.2 0.5-12.9 0.5 13.3 0.5-13 0.5 13.6 0.5-13.3 0.5 13.6 0.5-13.3 0.5 13.3 0.5-13.1 0.5 13.3 0.5-11.2 0.5 11.4 0.5-11.1 0.5 11.5 0.5-11.2 0.5 11.1 0.5-10.8 0.5 11.5 0.5-11.8 0.5 11.6 0.5-11.2 0.5 11.3 0.5-11.5 0.5 11.6 0.5-11.1 0.5 13.8 0.5-13.6 0.5 13.7 0.5-13.7 0.5 13.8 0.5-13.7 0.5 11.2 0.5-10.9 0.5 11.2 0.5-11.3 0.5 11.3 0.5-11.1 0.5 11.4 0.5-11.8 0.5 11.5 0.5-10.9 0.5 11.1 0.5-11.4 0.5 11.7 0.5-13.6 0.5 13.4 0.5-13.4 0.5 13.9 0.5-13.8 0.5 13.7 0.5-13.6 0.5 13.4 0.5-13.3 0.5 13.4 0.5-10.8 0.5 13.5 0.5-13.8 0.5 13.9 0.5-14 0.5 14.1 0.5-13.8 0.5 13.9 0.5-13.6 0.5 13.7 0.5-13.5 0.5 13.5 0.5-13.8 0.5 11.3 0.5-10.8 0.5 11.2 0.5-11.2 0.5 11.3 0.5-11.6 0.5 11.8 0.5-11.8 0.5 11.4 0.5-11.2 0.5 11.6 0.5-11.4 0.5 11.5 0.5-11.4 0.5 11.5 0.5-11.6 0.5 14.3 0.5-13.7 0.5 13.8 0.5-13.6 0.5 13.7 0.5-14.1 0.5 14.2 0.5-13.7 0.5 13.8 0.5-16 0.5 13.4 0.5-13.3 0.5 13.3 0.5-13.2 0.5 13.6 0.5-13.4 0.5 13.8 0.5-13.6 0.5 13.8 0.5-13.7 0.5 13.5 0.5-13.3 0.5 13.7 0.5-11.2 0.5 11.4 0.5-11.5 0.5 11.7 0.5-11.3 0.5 11.4 0.5-11.5 0.5 11.8 0.5-11.5 0.5 11.6 0.5-11.6 0.5 11.6 0.5-10.9 0.5 11.1 0.5-11.1 0.5 11.3 0.5-11 0.5 10.8 0.5-10.9 0.5 11.1 0.5-10.7 0.5 11.3 0.5-11.3 0.5 11.5 0.5-13.4 0.5 13.1 0.5-12.9 0.5 13.1 0.5-13 0.5 13.1 0.5-12.9 0.5 13.1 0.5-10.9 0.5 11.2 0.5-11.2 0.5 11.2 0.5-11 0.5 13.3 0.5-13 0.5 13.1 0.5-13.2 0.5 13.3 0.5-13.3 0.5 13.4 0.5-13.1 0.5 13.2 0.5-13.4 0.5 13.5 0.5-13.2 0.5 11.3 0.5-11.4 0.5 11.2 0.5-11.1 0.5 11.1 0.5-10.9 0.5 11.2 0.5-12.3 0.5 12.3 0.5-12.3 0.5 12.2 0.5-12.2 0.5 12.2 0.5-12.2 0.5 12.3 0.5-12.3 0.5 12.6 0.5-12.7 0.5 12.2 0.5-11 0.5 11.4 0.5-11.2 0.5 10.8 0.5-10.8 0.5 11 0.5-11.2 0.5 10.9 0.5-10.8 0.5 10.8 0.5-11.2 0.5 11.2 0.5-11.3 0.5 11.5 0.5-11.2 0.5 11.1 0.5-11.3 0.5 11.2 0.5-11.1 0.5 11.1 0.5-11.4 0.5 11.4 0.5-11.2 0.5 11.5 0.5-11.8 0.5 11.4 0.5-11.2 0.5 13.4 0.5-13.2 0.5 13.2 0.5-13.2 0.5 13.1 0.5-13.3 0.5 13.3 0.5-13.4 0.5 13.4 0.5-13.4 0.5 13.3 0.5-13.5 0.5 13.5 0.5-13.1 0.5 10.9 0.5-11 0.5 11.1 0.5-11.3 0.5 11.3 0.5-11.6 0.5 11.5 0.5-12.5 0.5 12.5 0.5-12.5 0.5 12.4 0.5-12.4 0.5 12.4 0.5-12.5 0.5 14.1 0.5-14.1 0.5 14.1 0.5-12.8 0.5 12.8 0.5-13.1 0.5 13 0.5-13 0.5 13 0.5-12.8 0.5 11.2 0.5-11.5 0.5 11.3 0.5-11.4 0.5 11.6 0.5-11.5 0.5 11.5 0.5-11.8 0.5 11.3 0.5-10.9 0.5 11.3 0.5-11.5 0.5 11.3 0.5-11.4 0.5 11.1 0.5-11.1 0.5 11.1 0.5-11 0.5 11.3 0.5-11.3 0.5 11.2 0.5-11.6 0.5 11.3 0.5-11.1 0.5 11.4 0.5-11.7 0.5 11.2 0.5-11.3 0.5 11.5 0.5-11.2 0.5 10.9 0.5-10.9 0.5 11 0.5-11.3 0.5 11.1 0.5-12.2 0.5 12.7 0.5-12.7 0.5 13.9 0.5-14 0.5 13.9 0.5-13.9 0.5 13.9 0.5-14 0.5 14 0.5-14 0.5 13.9 0.5-13 0.5 13 0.5-13.1 0.5 11.7 0.5-11.6 0.5 11.5 0.5-11.7 0.5 11.3 0.5-10.9 0.5 10.8 0.5-11 0.5 11.1 0.5-11.4 0.5 11.7 0.5-11.7 0.5 11.3 0.5-11 0.5 11.3 0.5-11.4 0.5 11 0.5-11.1 0.5 11.2 0.5-11.4 0.5 11.1 0.5-11.2 0.5 11.4 0.5-11.3 0.5 11.2 0.5-11 0.5 11.1 0.5-11.6 0.5 13.1 0.5-13.2 0.5 13.2 0.5-12.9 0.5 12.8 0.5-13.2 0.5 11.8 0.5-11.6 0.5 11.2 0.5-11.3 0.5 11.2 0.5-11.5 0.5 11.9 0.5-11.4 0.5 10.8 0.5-11.1 0.5 11.1 0.5-13.1 0.5 13 0.5-13 0.5 13.1 0.5-13.2 0.5 13.3 0.5-13.3 0.5 13.4 0.5-11.4 0.5 11.4 0.5-11.6 0.5 11.3 0.5-11.3 0.5 11.2 0.5-11.5 0.5 11.7 0.5-11.8 0.5 11.5 0.5-11.2 0.5 11 0.5-11.3 0.5 11.5 0.5-11.4 0.5 11.5 0.5-11.4 0.5 11.4 0.5-11.4 0.5 11.3 0.5-11.7 0.5 11.8 0.5-11.5 0.5 11.1 0.5-11.5 0.5 12.8 0.5-12.8 0.5 12.8 0.5-12.5 0.5 12.4 0.5-14.3 0.5 14.3 0.5-14.3 0.5 12.8 0.5-12.9 0.5 13.1 0.5-13.1 0.5 12.8 0.5-12.9 0.5 12.9 0.5-13 0.5 13.2 0.5-13.2 0.5 12.8 0.5-11.1 0.5 11 0.5-11.2 0.5 11.5 0.5-11.4 0.5 12.2 0.5-12.6 0.5 12.6 0.5-12.5 0.5 12.5 0.5-12.4 0.5 12.3 0.5-12.4 0.5 12.4 0.5-12.2 0.5 11.4 0.5-13.6 0.5 13.1 0.5-13.1 0.5 13.4 0.5-13.4 0.5 12.9 0.5-13 0.5 13.3 0.5-13.3 0.5 13.3 0.5-13.3 0.5 13 0.5-13.1 0.5 13.4 0.5-11.2 0.5 11.2 0.5-11.6 0.5 11.5 0.5-11.2 0.5 10.9 0.5-11.3 0.5 11.8 0.5-11.9 0.5 11.9 0.5-11.5 0.5 13.1 0.5-13.4 0.5 13.4 0.5-13.6 0.5 13.6 0.5-13.5 0.5 13.5 0.5-13.5 0.5 11.8 0.5-11.3 0.5 11.3 0.5-11.6 0.5 11.2 0.5-11.4 0.5 11.7 0.5-11.3 0.5 11.2 0.5-11.6 0.5 11.9 0.5-11.4 0.5 11 0.5-11.1 0.5 13 0.5-13.4 0.5 13.4 0.5-13.1 0.5 13.1 0.5-14.5 0.5 14.5 0.5-14.5 0.5 14.5 0.5-14.5 0.5 12.4 0.5-10.9 0.5 11.1 0.5-11.1 0.5 11.2 0.5-11.6 0.5 11.6 0.5-11.5 0.5 11.5 0.5-11.6 0.5 11.4 0.5-11.1 0.5 11.5 0.5-11.3 0.5 11.1 0.5-11.3 0.5 11.4 0.5-11.4 0.5 11.3 0.5-12.3 0.5 12.5 0.5-12.5 0.5 12.5 0.5-12.5 0.5 12.3 0.5-12.3 0.5 12 0.5-12 0.5 12.2 0.5-11.6 0.5 11.6 0.5-11.3 0.5 11.3 0.5-11.4 0.5 11.6 0.5-11.5 0.5 11.6 0.5-11.7 0.5 12.4 0.5-12.3 0.5 12.3 0.5-12.1 0.5 12.1 0.5-12.6 0.5 12.6 0.5-12.2 0.5 12.2 0.5-12.2 0.5 11.4 0.5-11.6 0.5 11.8 0.5-12 0.5 11.7 0.5-12.5 0.5 12.3 0.5-12.3 0.5 12.5 0.5-12.4 0.5 12.2 0.5-12.1 0.5 12.4 0.5-12.3 0.5 12.4 0.5-11.2 0.5 12.9 0.5-12.5 0.5 12.7 0.5-12.7 0.5 12.8 0.5-12.8 0.5 11.6 0.5-11.2 0.5 11.4 0.5-11.4 0.5 11.4 0.5-10.8 0.5 11 0.5-11.2 0.5 11.7 0.5-11.3 0.5 11.5 0.5-11.4 0.5 11.4 0.5-11.3 0.5 11.6 0.5-11.2 0.5 11.3 0.5-11.6 0.5 11.5 0.5-11.1 0.5 10.8 0.5-11 0.5 11.1 0.5-11.3 0.5 11.6 0.5-11.4 0.5 11.3 0.5-11.1 0.5 10.9 0.5-11.2 0.5 11.3 0.5-11.1 0.5 11.2 0.5-11.6 0.5 12.7 0.5-12.6 0.5 12.6 0.5-12.7 0.5 12.6 0.5-12.9 0.5 12.7 0.5-12.5 0.5 12.4 0.5-14.5 0.5 14.4 0.5-14.5 0.5 12.8 0.5-13 0.5 13.1 0.5-13.2 0.5 13.3 0.5-13.5 0.5 12.9 0.5-11.1 0.5 11.3 0.5-11.7 0.5 11.4 0.5-11.3 0.5 11.2 0.5-11.7 0.5 11.5 0.5-11.7 0.5 11.4 0.5-11.5 0.5 11.2 0.5-11.5 0.5 11.5 0.5-11.2 0.5 11 0.5-11.7 0.5 11.7 0.5-11.6 0.5 11.3 0.5-11.4 0.5 11.2 0.5-11.2 0.5 11.1 0.5-11.5 0.5 11.5 0.5-11.8 0.5 11.8 0.5-11.5 0.5 11.3 0.5-11.5 0.5 11.1 0.5-11.5 0.5 11.7 0.5-11.4 0.5 12.8 0.5-13.2 0.5 13.1 0.5-13 0.5 12.9 0.5-15.8 0.5 15.7 0.5-15.8 0.5 15.7 0.5-15.8 0.5 15.7 0.5-15.8 0.5 13.8 0.5-13.9 0.5 14.3 0.5-14.4 0.5 14.3 0.5-11.7 0.5 11.4 0.5-11.5 0.5 11.5 0.5-11.6 0.5 11.6 0.5-12.1 0.5 11.6 0.5-11.2 0.5 11.1 0.5-11.3 0.5 11.4 0.5-11.7 0.5 13.7 0.5-13.6 0.5 13.5 0.5-13.9 0.5 13.8 0.5-16 0.5 15.9 0.5-16 0.5 15.9 0.5-16 0.5 15.9 0.5-13.5 0.5 11.2 0.5-11.5 0.5 11.4 0.5-11.5 0.5 11.6 0.5-11.7 0.5 11.2 0.5-11.2 0.5 11.1 0.5-11.3 0.5 11.8 0.5-11.7 0.5 11.5 0.5-11.6 0.5 11.4 0.5-11.4 0.5 11.2 0.5-13.3 0.5 13.2 0.5-13.3 0.5 14.8 0.5-14.9 0.5 14.8 0.5-14.9 0.5 14.9 0.5-14.9 0.5 14.8 0.5-14.9 0.5 14.8 0.5-13.2 0.5 13.1"/>
<path class="c" stroke="#ed7d31" d="M130.5 868.6l1-0.7 1-0.7 1-0.7 1-0.7 1-0.8 1-0.7 1-0.8 1-0.7 1-0.8 1-0.7 1-0.7 1-0.8 1-0.7 1-0.8 1-0.7 1-0.8 1-0.7 1-0.8 1-0.8 1-0.8 1-0.8 1-0.8 1-0.9 1-0.8 1-0.9 1-0.9 1-1 1-0.9 1-1 1-1 1-1.1 1-1 1-1.1 1-1.2 1-1.4 1-1.4 1-1.5 1-1.5 1-1.6 1-1.6 1-1.6 1-1.5 1-1.5 1-1.4 1-1.4 1-1.3 1-1.4 1-1.3 1-1.4 1-1.3 1-1.3 1-1.4 1-1.3 1-1.3 1-1.3 1-1.3 1-1.3 1-1.2 1-1.3 1-1.3 1-1.3 1-1.3 1-1.3 1-1.4 1-1.4 1-1.4 1-1.5 1-1.4 1-1.5 1-1.6 1-1.5 1-1.6 1-1.6 1-1.6 1-1.7 1-1.8 1-1.7 1-1.8 1-1.9 1-1.9 1-2 1-2 1-2.1 1-2.1 1-2.1 1-2.2 1-2.2 1-2.2 1-2.3 1-2.2 1-2.3 1-2.3 1-2.2 1-2.3 1-2.3 1-2.2 1-2.3 1-2.3 1-2.3 1-2.4 1-2.3 1-2.4 1-2.4 1-2.4 1-2.4 1-2.4 1-2.5 1-2.5 1-2.5 1-2.5 1-2.5 1-2.6 1-2.5 1-2.6 1-2.6 1-2.5 1-2.7 1-2.6 1-2.7 1-2.8 1-2.8 1-2.9 1-3 1-3 1-3.2 1-3.2 1-3.4 1-3.4 1-3.5 1-3.6 1-3.7 1-3.7 1-3.8 1-3.8 1-3.9 1-4 1-4 1-4 1-4.1 1-4.1 1-4.1 1-4.2 1-4.1 1-4.2 1-4.2 1-4.3 1-4.3 1-4.3 1-4.4 1-4.5 1-4.4 1-4.6 1-4.6 1-4.6 1-4.7 1-4.7 1-4.8 1-4.8 1-4.9 1-5 1-5 1-5 1-5.2 1-5.4 1-5.5 1-5.7 1-5.8 1-5.9 1-5.9 1-6 1-5.9 1-5.9 1-5.7 1-5.7 1-5.5 1-5.3 1-5.1 1-4.9 1-4.7 1-4.4 1-4.3 1-4.2 1-4.2 1-4.1 1-4.2 1-4.2 1-4.3 1-4.5 1-4.7 1-4.9 1-5.1 1-5 1-5 1-4.8 1-4.6 1-4.2 1-4.1 1-4.1 1-4.1 1-4 1-3.8 1-3.5 1-3.4 1-3 1-2.7 1-2.2 1-2 1-1.9 1-1.8 1-1.5 1-1.4 1-1 1-0.8 1-0.7 1-0.6 1-0.6 1-0.5 1-0.3 1-0.2 1 0 1 0.3 1 0.5 1 0.6 1 0.8 1 0.8 1 0.8 1 0.8 1 0.8 1 0.9 1 1.1 1 1.1 1 1.3 1 1.3 1 1.6 1 1.8 1 2.4 1 2.7 1 2.9 1 3.2 1 3.2 1 3.2 1 3.2 1 2.9 1 2.8 1 2.8 1 2.8 1 2.8 1 2.8 1 2.8 1 3 1 3 1 3 1 3 1 3.1 1 3.1 1 3.1 1 3.2 1 3.2 1 3.2 1 3.2 1 3.3 1 3.3 1 3.3 1 3.4 1 3.3 1 3.4 1 3.4 1 3.4 1 3.4 1 3.4 1 3.4 1 3.4 1 3.3 1 3.4 1 3.4 1 3.4 1 3.3 1 3.4 1 3.5 1 3.4 1 3.4 1 3.4 1 3.4 1 3.4 1 3.4 1 3.4 1 3.4 1 3.3 1 3.4 1 3.3 1 3.3 1 3.3 1 3.3 1 3.2 1 3.2 1 3.2 1 3.2 1 3.1 1 3.1 1 3.1 1 3.2 1 3.2 1 3.3 1 3.3 1 3.3 1 3.3 1 3.3 1 3.3 1 3.3 1 3.2 1 3.1 1 3.1 1 3 1 2.8 1 2.8 1 2.7 1 2.5 1 2.4 1 2.2 1 2 1 1.9 1 1.6 1 1.5 1 1.4 1 1.3 1 1.2 1 1.1 1 1 1 1.1 1 1 1 1 1 1 1 1 1 1.1 1 1.2 1 1.2 1 1.2 1 1.2 1 1.3 1 1.2 1 1.3 1 1.2 1 1.2 1 1.2 1 1.2 1 1.1 1 1.1 1 1.1 1 1 1 1.1 1 1 1 1.1 1 1 1 0.9 1 1 1 0.9 1 0.9 1 0.8 1 0.8 1 0.8 1 0.7 1 0.8 1 0.8 1 0.7 1 0.7 1 0.7 1 0.6 1 0.6 1 0.5 1 0.4 1 0.4 1 0.2 1 0.2 1 0.1 1 0.2 1 0.1 1 0.1 1 0.2 1 0.1 1 0.1 1 0 1 0.1 1 0 1 0 1 0 1 -0 1-0.1 1-0.2 1-0.2 1-0.2 1-0.3 1-0.3 1-0.3 1-0.4 1-0.3 1-0.4 1-0.4 1-0.5 1-0.5 1-0.7 1-0.8 1-0.8 1-0.9 1-1 1-1 1-1.1 1-1.1 1-1.1 1-1.1 1-1.2 1-1.3 1-1.4 1-1.5 1-1.7 1-1.6 1-1.7 1-1.7 1-1.7 1-1.5 1-1.5 1-1.4 1-1.2 1-1.1 1-1.1 1-1 1-1 1-1 1-0.9 1-0.9 1-0.8 1-0.9 1-0.7 1-0.8 1-0.7 1-0.6 1-0.8 1-0.7 1-0.7 1-0.5 1-0.3 1-0.1 1 0.3 1 0.5 1 0.8 1 0.9 1 1.1 1 1 1 1.2 1 1.6 1 1.9 1 2.1 1 2.3 1 2.3 1 2.4 1 2.4 1 2.2 1 2.1 1 1.8 1 1.5 1 1.2 1 1.1 1 1.1 1 1.1 1 1 1 0.9 1 0.8 1 0.7 1 0.4 1 0.3 1 -0 1-0.1 1-0.2 1-0.3 1-0.3 1-0.4 1-0.5 1-0.5 1-0.6 1-0.6 1-0.6 1-0.6 1-0.6 1-0.8 1-0.8 1-1 1-1.1 1-1.2 1-1.4 1-1.4 1-1.5 1-1.6 1-1.8 1-2.2 1-2.5 1-2.9 1-3.1 1-3.3 1-3.5 1-3.6 1-3.6 1-3.9 1-4.4 1-4.7 1-4.7 1-4.6 1-4.1 1-3.8 1-3.6 1-3.4 1-3.4 1-3.3 1-3.3 1-3.3 1-3.5 1-3.6 1-3.7 1-4.1 1-4.5 1-4.7 1-4.7 1-4.5 1-4.1 1-3.7 1-3.6 1-3.4 1-3.1 1-2.7 1-2.7 1-2.7 1-2.2 1-1.3 1 0.2 1 1.8 1 2.6 1 2.9 1 2.7 1 2.5 1 2.7 1 3.1 1 3.6 1 4.6 1 7.4 1 9 1 8 1 6.7 1 6.2 1 6 1 5.8 1 5.7 1 5.8 1 6 1 6.1 1 5.9 1 5.3 1 4.5 1 4.2 1 3.9 1 3.5 1 3 1 2.4 1 2.3 1 1.8 1 0.7 1-1.8 1-4.4 1-5.3 1-5.1 1-6 1-6 1-4.6 1-3.6 1-1.8 1-0.3 1 1.2 1 2.8 1 3.5 1 2.8 1 2.9 1 3.7 1 5.6 1 7.5 1 8.9 1 11.5 1 14.5 1 15 1 13.3 1 9.9 1 9 1 8.6 1 7.9 1 7.4 1 6.8 1 6.1 1 5.6 1 4.9 1 4.3 1 3.8 1 3.3 1 3.1 1 2.9 1 3.1 1 3.2 1 3.7 1 4 1 4.1 1 4.3 1 4 1 3.8 1 3.2 1 3 1 2.9 1 2.8 1 2.7 1 2.6 1 2.5 1 2.2 1 2 1 1.8 1 1.5 1 1.3 1 1.2 1 1.1 1 1.1 1 0.9 1 1 1 0.8 1 0.8 1 0.7 1 0.6 1 0.5 1 0.5 1 0.4 1 0.4 1 0.3 1 0.4 1 0.3 1 0.3 1 0.2 1 0.2 1 0.1 1 0.1 1 -0 1-0.2 1-0.4 1-0.5 1-0.6 1-0.7 1-0.7 1-0.8 1-1.1 1-1.3 1-1.5 1-1.8 1-1.9 1-2.1 1-2.4 1-2.9 1-3.1 1-3.5 1-3.8 1-4 1-4.2 1-4.8 1-5.5 1-6 1-6.2 1-6.2 1-6.1 1-6.6 1-7.7 1-9.6 1-11.4 1-12.9 1-13.8 1-14.3 1-14.5 1-15.4 1-16.9 1-19.2 1-25.7 1-21.4 1-13.6 1-11.6 1-13.4 1-16.3 1-17.9 1-18.9 1-21.2 1-15.7 1-11.4 1-9.6 1-8.9 1-8.7 1-7.7 1-5.6 1-3.9 1-2.2 1-1 1-0.1 1 0.9 1 1.8 1 3.7 1 5 1 7.4 1 8.7 1 8.8 1 9.3 1 11 1 14.4 1 20.8 1 19.2 1 17.5 1 17 1 16.3 1 15.6 1 20.8 1 32.1 1 25.7 1 21.8 1 19.7 1 17.8 1 16.1 1 15.7 1 16.6 1 18.8 1 12.5 1 9.3 1 7.6 1 6.6 1 5.9 1 5.2 1 4.9 1 4.8 1 4.6 1 4.6 1 4.5 1 4.3 1 4.1 1 3.8 1 3.5 1 3 1 2.7 1 2.4 1 2.2 1 2.2 1 2 1 1.9 1 1.9 1 1.7 1 1.7 1 1.5 1 1.5 1 1.4 1 1.2 1 1.2 1 1.2 1 1 1 1 1 0.9 1 0.9 1 0.9 1 0.9 1 0.8 1 0.8 1 0.7 1 0.8 1 0.7 1 0.7 1 0.6 1 0.7 1 0.6 1 0.6 1 0.6 1 0.6 1 0.5 1 0.6 1 0.5 1 0.5 1 0.5 1 0.5 1 0.5 1 0.5 1 0.5 1 0.5 1 0.5 1 0.5 1 0.5 1 0.5 1 0.5 1 0.5 1 0.5 1 0.5 1 0.5 1 0.5 1 0.4 1 0.5 1 0.5 1 0.4 1 0.5 1 0.4 1 0.5 1 0.4 1 0.4 1 0.4 1 0.3 1 0.4 1 0.3 1 0.3 1 0.3 1 0.3 1 0.2 1 0.3 1 0.2 1 0.1 1 0.2 1 0.1 1 0.1 1 0.1 1 -0 1 -0 1 -0 1 -0 1 -0 1 -0 1 -0 1-0.1 1 0 1 0 1 -0 1 -0 1-0.1 1 0 1 -0 1 -0 1-0.1 1 0 1 -0 1 -0 1-0.1 1 0 1 -0 1 -0 1 -0 1-0.1 1 0 1 0 1 0 1 0 1 0 1 0 1 0 1 0 1 0 1 0 1 0 1 0 1 0 1 0 1 0 1 0 1 0 1 0 1 0 1 0 1 0 1 0 1 0 1 0 1 -0 1-0.1 1-0.2 1-0.2 1-0.3 1-0.4 1-0.4 1-0.4 1-0.5 1-0.5 1-0.5 1-0.5 1-0.5 1-0.6 1-0.5 1-0.5 1-0.5 1-0.5 1-0.4 1-0.4 1-0.4 1-0.4 1-0.5 1-0.4 1-0.4 1-0.4 1-0.4 1-0.5 1-0.4 1-0.4 1-0.4 1-0.5 1-0.4 1-0.5 1-0.4 1-0.5 1-0.5 1-0.4 1-0.5 1-0.5 1-0.5 1-0.5 1-0.5 1-0.5 1-0.6 1-0.5 1-0.5 1-0.6 1-0.5 1-0.6 1-0.5 1-0.5 1-0.6 1-0.5 1-0.6 1-0.5 1-0.6 1-0.5 1-0.5 1-0.5 1-0.4 1-0.5 1-0.5 1-0.5 1-0.6 1-0.6 1-0.6 1-0.7 1-0.8 1-0.9 1-1 1-1.1 1-1.3 1-1.3 1-1.5 1-1.5 1-1.5 1-1.7 1-1.6 1-1.6 1-1.7 1-1.6 1-1.7 1-1.8 1-1.9 1-1.9 1-2 1-2 1-2 1-2.1 1-2.1 1-2.1 1-2 1-2.1 1-2.1 1-2.2 1-2.2 1-2.2 1-2.3 1-2.2 1-2.3 1-2.2 1-2.2 1-2.1 1-2.1 1-2 1-1.8 1-1.9 1-1.9 1-1.8 1-1.6 1-1.3 1-1.1 1-1.2 1-1 1-0.8 1-0.4 1 -0 1 0.5 1 0.8 1 1 1 1.1 1 1 1 1.1 1 1.3 1 1.3 1 1.4 1 1.4 1 1.4 1 1.5 1 1.4 1 1.4 1 1.4 1 1.4 1 1.4 1 1.4 1 1.4 1 1.4 1 1.4 1 1.4 1 1.5 1 1.4 1 1.4 1 1.4 1 1.4 1 1.6 1 1.6 1 1.6 1 1.6 1 1.6 1 1.5 1 1.5 1 1.3 1 1.3 1 1.1 1 0.9 1 0.8 1 0.7 1 0.7 1 0.7 1 0.6 1 0.6 1 0.5 1 0.4 1 0.2 1 0.2 1 -0 1-0.1 1-0.3 1-0.3 1-0.4 1-0.5 1-0.6 1-0.7 1-0.7 1-0.7 1-0.9 1-0.8 1-0.9 1-0.9 1-1 1-0.9 1-1.1 1-1.3 1-1.3 1-1.6 1-1.6 1-1.9 1-2 1-2.1 1-2.4 1-2.5 1-2.6 1-2.9 1-3.6 1-4.6 1-5.3 1-5.7 1-5.8 1-5.7 1-6 1-7 1-8.8 1-12.8 1-15.8 1-16.3 1-14.8 1-14.2 1-14.2 1-14.1 1-14.2 1-13.7 1-13.3 1-14.1 1-15.7 1-19.5 1-23.5 1-21.3 1-15.2 1-13.1 1-16.4 1-29.7 1-44.6 1-37.2 1-21.2 1-17.5 1-23 1-24.6 1-13.6 1-10.4 1-9 1-9.1 1-8.4 1-6.6 1-1.9 1 5.9 1 6.9 1 8.7 1 9.9 1 11.7 1 14.3 1 21.2 1 23.1 1 19.9 1 19 1 18.1 1 16.5 1 16 1 16.5 1 17.8 1 20.4 1 23.5 1 32.1 1 60 1 30.6 1 21.9 1 19.8 1 17.7 1 16 1 15.2 1 15 1 14.5 1 13.6 1 12.7 1 11.9 1 11.3 1 10.7 1 10 1 9.1 1 8.7 1 8.4 1 8.1 1 7.6 1 6.8 1 6 1 4.8 1 4.1 1 3.7 1 3.4 1 3 1 2.9 1 2.6 1 2.5 1 2.4 1 2.4 1 2.2 1 2.2 1 2.2 1 2 1 2 1 1.9 1 1.8 1 1.8 1 1.7 1 1.6 1 1.6 1 1.5 1 1.4 1 1.5 1 1.4 1 1.4 1 1.4 1 1.4 1 1.3 1 1.3 1 1.3 1 1.2 1 1.2 1 1.1 1 1.1 1 1.1 1 0.9 1 0.9 1 0.9 1 0.8 1 0.7 1 0.6 1 0.6 1 0.6 1 0.6 1 0.6 1 0.6 1 0.5 1 0.6 1 0.5 1 0.5 1 0.5 1 0.4 1 0.5 1 0.4 1 0.4 1 0.4 1 0.4 1 0.3 1 0.3 1 0.3 1 0.3 1 0.3 1 0.2 1 0.2 1 0.1 1 0.2 1 0.1 1 0.1 1 0.2 1 0.1 1 0.1 1 0.1 1 0.1 1 0.1 1 0.1 1 0.1 1 0.1 1 0.1 1 0.1 1 0.1 1 0.1 1 0 1 0.1 1 0 1 0.1 1 0 1 0.1 1 -0 1 -0 1 -0 1 -0 1 -0 1 -0 1-0.1 1 -0 1-0.1 1-0.1 1-0.1 1-0.1 1-0.1 1-0.1 1-0.1 1-0.1 1-0.2 1-0.1 1-0.1 1-0.2 1-0.1 1-0.1 1-0.2 1-0.1 1-0.1 1-0.1 1-0.1 1-0.1 1-0.2 1-0.1 1-0.1 1-0.1 1-0.1 1-0.2 1-0.1 1-0.1 1-0.2 1-0.1 1-0.1 1-0.1 1-0.1 1-0.1 1-0.1 1-0.1 1 -0 1-0.1 1 0 1 0 1 0.1 1 0 1 0.2 1 0.1 1 0.2 1 0.2 1 0.2 1 0.2 1 0.2 1 0.2 1 0.3 1 0.2 1 0.2 1 0.2 1 0.2 1 0.2 1 0.1 1 0.1 1 0.1 1 0.1 1 0.1 1 0.1 1 0.1 1 0 1 0.1 1 0 1 0.1 1 0.1 1 0 1 0.1 1 0 1 0.1 1 0 1 0.1 1 0 1 0.1 1 0.1 1 0.1 1 0 1 0.1 1 0.2 1 0.1 1 0.1 1 0.2 1 0.2 1 0.4 1 0.4 1 0.5 1 0.5 1 0.6 1 0.6 1 0.7 1 0.7 1 0.7 1 0.7 1 0.7 1 0.7 1 0.7 1 0.7 1 0.6 1 0.6 1 0.6 1 0.5 1 0.6 1 0.5 1 0.5 1 0.6 1 0.5 1 0.5 1 0.5 1 0.5 1 0.5 1 0.6 1 0.5 1 0.5 1 0.6 1 0.5 1 0.5 1 0.6 1 0.6 1 0.5 1 0.6 1 0.7 1 0.6 1 0.7 1 0.7 1 0.6 1 0.7 1 0.7 1 0.6 1 0.7 1 0.6 1 0.6 1 0.5 1 0.6 1 0.4 1 0.5 1 0.5 1 0.5 1 0.4 1 0.5 1 0.4 1 0.4 1 0.4 1 0.4 1 0.3 1 0.3 1 0.2 1 0.2 1 0.2 1 0.3 1 0.2 1 0.2 1 0.2 1 0.1 1 0.2 1 0.1 1 0.1 1 0.1 1 -0 1 -0 1 -0 1 -0 1-0.1 1 0 1 -0 1-0.1 1 -0 1-0.1 1-0.1 1 -0 1-0.1 1-0.1 1-0.1 1-0.3 1-0.3 1-0.4 1-0.4 1-0.5 1-0.6 1-0.6 1-0.7 1-0.6 1-0.7 1-0.7 1-0.8 1-0.8 1-0.9 1-1 1-1.1 1-1.2 1-1.3 1-1.3 1-1.4 1-1.5 1-1.5 1-1.6 1-1.6 1-1.9 1-2.3 1-2.4 1-2.4 1-2.1 1-1.8 1-1.8 1-1.6 1-1.2 1-0.5 1 0.5 1 1.3 1 1.7 1 1.8 1 1.4 1 1.3 1 1.4 1 1.3 1 1.4 1 1.4 1 1.3 1 1.4 1 1.4 1 1.5 1 1.4 1 1.5 1 1.6 1 1.6 1 1.7 1 1.7 1 1.7 1 1.7 1 1.6 1 1.6 1 1.5 1 1.3 1 1.3 1 1.2 1 1.1 1 1 1 1 1 1 1 1 1 0.9 1 0.9 1 0.8 1 0.8 1 0.7 1 0.7 1 0.6 1 0.6 1 0.6 1 0.7 1 0.6 1 0.6 1 0.6 1 0.5 1 0.5 1 0.4 1 0.3 1 0.2 1 0.1 1 0 1-0.1 1-0.2 1-0.2 1-0.4 1-0.3 1-0.4 1-0.4 1-0.5 1-0.3 1-0.4 1-0.3 1-0.2 1-0.2 1-0.2 1-0.1 1-0.2 1-0.1 1-0.2 1-0.1 1-0.1 1-0.2 1-0.1 1-0.1 1-0.1 1-0.1 1-0.1 1-0.2 1-0.1 1-0.1 1-0.1 1-0.1 1-0.1 1-0.1 1-0.1 1-0.1 1-0.1 1-0.1 1-0.1 1-0.1 1-0.1 1-0.1 1-0.1 1-0.2 1-0.1 1-0.1 1-0.1 1-0.1 1-0.1 1-0.1 1-0.1 1-0.1 1-0.1 1-0.1 1-0.1 1-0.1 1-0.1 1-0.1 1 -0 1-0.1 1-0.1 1-0.1 1-0.1 1-0.1 1-0.1 1-0.1 1-0.1 1 -0 1-0.1 1-0.1 1-0.1 1-0.1 1-0.1 1-0.1 1-0.1 1 -0 1-0.1 1-0.1 1-0.1 1-0.1 1 -0 1-0.1 1-0.1 1 -0 1-0.1 1 -0 1-0.1 1 0 1 -0 1-0.1 1 0 1 -0 1-0.1 1 0 1 -0 1 -0 1 -0 1-0.1 1 0 1 -0 1 -0 1 -0 1-0.1 1 0 1 0 1 -0 1 -0 1-0.1 1 0 1 -0 1 -0 1-0.1 1 0 1 -0 1-0.1 1 -0 1-0.1 1 -0 1-0.1 1 -0 1-0.1 1 -0 1-0.1 1-0.1 1 -0 1-0.1 1-0.1 1 -0 1-0.1 1 -0 1-0.1 1 -0 1-0.1 1 -0 1-0.1 1 -0 1-0.1 1 0 1 -0 1-0.1 1 0 1 -0 1 -0 1-0.1 1 0 1 0 1 -0 1 -0 1-0.1 1 0 1 0 1 -0 1 -0 1-0.1 1 0 1 0 1 -0 1 -0 1 -0 1-0.1 1 0 1 0 1 0 1 -0 1 -0 1 -0 1-0.1 1 0 1 0 1 -0 1 -0 1 -0 1-0.1 1 0 1 0 1 -0 1 -0 1 -0 1-0.1 1 0 1 0 1 -0 1 -0 1 -0 1-0.1 1 0 1 -0 1 -0 1 -0 1-0.1 1 0 1 0 1 -0 1 -0 1 -0 1-0.1 1 0 1 0 1 -0 1 -0 1-0.1 1 0 1 0 1 -0 1 -0 1 -0 1-0.1 1 0 1 0 1 0 1 -0 1 -0 1 -0 1-0.1 1 0 1 0 1 0 1 -0 1 -0 1 -0 1 -0 1-0.1 1 0 1 0 1 0 1 -0 1 -0 1 -0 1 -0 1 -0 1 -0 1-0.1 1 0 1 0 1 0 1 0 1 0 1 0 1 0 1 0 1 0 1 0 1 0 1 0 1 0 1 0 1 0 1 0 1 0 1 0 1 0 1 0 1 0 1 0 1 0 1 0 1 0 1 0 1 0.1 1 -0 1 -0 1 -0 1 -0 1 -0 1 0 1 0 1 0 1 0 1 0.1 1 -0 1 -0 1 -0 1 -0 1 0 1 0 1 0 1 0 1 0.1 1 -0 1 -0 1 0 1 0 1 0 1 0 1 0.1 1 -0 1 -0 1 0 1 0 1 0 1 0 1 0.1 1 -0 1 -0 1 0 1 0 1 0 1 0.1 1 -0 1 -0 1 -0 1 0 1 0 1 0 1 0.1 1 -0 1 -0 1 -0 1 0 1 0 1 0 1 0.1 1 -0 1 -0 1 -0 1 0 1 0 1 0 1 0 1 0 1 0.1 1 -0 1 -0 1 -0 1 0 1 0 1 0 1 0 1 0 1 0 1 0.1 1 -0 1 -0 1 -0 1 -0 1 -0 1 -0 1 -0 1 -0 1 -0 1 -0 1 -0 1 -0 1 -0 1 -0 1 -0 1 -0 1 -0 1 -0 1 -0 1 -0 1 -0 1 -0 1 -0 1 -0 1 -0 1 -0 1 -0 1 -0 1 -0 1 -0 1 -0 1 -0 1 -0 1 -0 1 -0 1 -0 1 -0 1 -0 1 -0 1 -0 1 -0 1-0.1 1 0 1 0 1 0 1 0 1 0 1 0 1 0 1 0 1 0 1 0 1 0 1 0 1 -0 1 -0 1 -0 1 -0 1 -0 1 -0 1 -0 1 -0 1 -0 1-0.1 1 0 1 0 1 0 1 0 1 0 1 0 1 0 1 0 1 -0 1 -0 1 -0 1 -0 1 -0 1 -0 1 -0 1 -0 1-0.1 1 0 1 0 1 0 1 0 1 0 1 0 1 -0 1 -0 1 -0 1 -0 1 -0 1 -0 1 -0 1-0.1 1 0 1 0 1 0 1 0 1 0 1 -0 1 -0 1 -0 1 -0 1 -0 1 -0 1 -0 1-0.1 1 0 1 0 1 0 1 0 1 0 1 -0 1 -0 1 -0 1 -0 1 -0 1 -0 1-0.1 1 0 1 0 1 0 1 0 1 -0 1 -0 1 -0 1 -0 1 -0 1 -0 1-0.1 1 0 1 0 1 0 1 0 1 0 1 -0 1 -0 1 -0 1 -0 1 -0 1 -0 1-0.1 1 0 1 0 1 0 1 0 1 0 1 -0 1 -0 1 -0 1 -0 1 -0 1-0.1 1 0 1 0 1 0 1 0 1 0 1 -0 1 -0 1 -0 1 -0 1 -0 1 -0 1-0.1 1 0 1 0 1 0 1 0 1 0 1 -0 1 -0 1 -0 1 -0 1 -0 1 -0 1-0.1 1 0 1 0 1 0 1 0 1 0 1 -0 1 -0 1 -0 1 -0 1 -0 1-0.1 1 0 1 0 1 0 1 0 1 -0 1 -0 1 -0 1 -0 1 -0 1-0.1 1 0 1 0 1 0 1 0 1 -0 1 -0 1 -0 1 -0 1 -0 1-0.1 1 0 1 0 1 0 1 0 1 -0 1 -0 1 -0 1 -0 1 -0 1-0.1 1 0 1 0 1 0 1 -0 1 -0 1 -0 1 -0 1 -0 1-0.1 1 0 1 0 1 0 1 -0 1 -0 1 -0 1 -0 1-0.1 1 0 1 0 1 0 1 0 1 -0 1 -0 1 -0 1 -0 1-0.1 1 0 1 0 1 0 1 -0 1 -0 1 -0 1 -0 1-0.1 1 0 1 0 1 0 1 -0 1 -0 1 -0 1 -0 1-0.1 1 0 1 0 1 0 1 -0 1 -0 1 -0 1 -0 1-0.1 1 0 1 0 1 -0 1 -0 1 -0 1 -0 1-0.1 1 0 1 0 1 0 1 -0 1 -0 1 -0 1 -0 1-0.1 1 0 1 0 1 -0 1 -0 1 -0 1 -0 1-0.1 1 0 1 0 1 0 1 -0 1 -0 1 -0 1-0.1 1 0 1 0 1 0"/>
<path class="n" stroke="#ed7d31" d="M130.5 862.2l0.5 12.2 0.5-12.9 0.5 12.4 0.5-12.5 0.5 11.7 0.5-13 0.5 12.7 0.5-13 0.5 11.8 0.5-12.6 0.5 12.5 0.5-13.3 0.5 12.1 0.5-13 0.5 12.6 0.5-13.6 0.5 12.4 0.5-13.1 0.5 12.6 0.5-12.9 0.5 12.4 0.5-13.3 0.5 12.4 0.5-16.2 0.5 15.4 0.5-16.1 0.5 15.4 0.5-16.1 0.5 17.6 0.5-18.4 0.5 17.6 0.5-18.4 0.5 17.7 0.5-18.4 0.5 17.6 0.5-18.4 0.5 15.2 0.5-13.1 0.5 12.2 0.5-12.8 0.5 12.1 0.5-13 0.5 12.1 0.5-12.7 0.5 12.2 0.5-13 0.5 12.3 0.5-13.6 0.5 12.4 0.5-13.4 0.5 12.4 0.5-12.9 0.5 12.2 0.5-13.4 0.5 12.6 0.5-13.7 0.5 12.6 0.5-13.6 0.5 12.9 0.5-13.3 0.5 12.4 0.5-13.4 0.5 12.3 0.5-13.5 0.5 12.3 0.5-13.9 0.5 12.7 0.5-13.4 0.5 12.3 0.5-13.8 0.5 12 0.5-13.9 0.5 13.2 0.5-14.4 0.5 12.4 0.5-14 0.5 12.9 0.5-14.3 0.5 12.7 0.5-17.3 0.5 17.8 0.5-19.4 0.5 17.9 0.5-19.5 0.5 18 0.5-19.5 0.5 18 0.5-19.4 0.5 18 0.5-19.5 0.5 18.1 0.5-19.4 0.5 16 0.5-14 0.5 12.6 0.5-14.5 0.5 12.9 0.5-14.5 0.5 13.1 0.5-14.2 0.5 13 0.5-14 0.5 12.4 0.5-14.1 0.5 12.9 0.5-13.8 0.5 12.7 0.5-14.3 0.5 13.2 0.5-14.8 0.5 13.1 0.5-13.9 0.5 12.9 0.5-14.2 0.5 13.1 0.5-14.3 0.5 12.7 0.5-13.9 0.5 12.5 0.5-14.3 0.5 13.3 0.5-14.2 0.5 13 0.5-14.4 0.5 12.8 0.5-14.3 0.5 13.3 0.5-14.3 0.5 12.6 0.5-14.4 0.5 13 0.5-14.1 0.5 15.7 0.5-17.5 0.5 16 0.5-17.6 0.5 16.1 0.5-17.1 0.5 12.6 0.5-17.4 0.5 16 0.5-17.5 0.5 16.1 0.5-17.7 0.5 16 0.5-17.6 0.5 16 0.5-14.7 0.5 13.4 0.5-15.3 0.5 13.6 0.5-14.8 0.5 13.1 0.5-14.9 0.5 13.2 0.5-15.5 0.5 13.4 0.5-14.7 0.5 13.2 0.5-15.8 0.5 13.6 0.5-15.4 0.5 13.4 0.5-15.3 0.5 13.1 0.5-15.5 0.5 13.7 0.5-18.2 0.5 18.9 0.5-21 0.5 18.8 0.5-21 0.5 18.9 0.5-21.1 0.5 15.7 0.5-18 0.5 16.2 0.5-18.4 0.5 15.8 0.5-18.1 0.5 16 0.5-16 0.5 13.5 0.5-15.3 0.5 13.2 0.5-15.8 0.5 14.1 0.5-16.3 0.5 13.7 0.5-16.2 0.5 13.6 0.5-15.6 0.5 13.6 0.5-16 0.5 14.1 0.5-16.1 0.5 13.8 0.5-16 0.5 13.3 0.5-16.2 0.5 13.8 0.5-15.8 0.5 13.8 0.5-16.6 0.5 13.8 0.5-15.9 0.5 13.6 0.5-16 0.5 13.4 0.5-15.4 0.5 13.7 0.5-16.8 0.5 14 0.5-16.1 0.5 13.7 0.5-16.2 0.5 13.9 0.5-16.3 0.5 13.8 0.5-16.2 0.5 16.5 0.5-21.2 0.5 18.6 0.5-21.2 0.5 18.6 0.5-21.1 0.5 18.5 0.5-19.1 0.5 16.5 0.5-18.8 0.5 16.2 0.5-18.9 0.5 16.3 0.5-19.2 0.5 13.8 0.5-16 0.5 12.7 0.5-15.8 0.5 13.8 0.5-16.4 0.5 13.3 0.5-15.6 0.5 13 0.5-16.6 0.5 13.5 0.5-16.3 0.5 13.1 0.5-16.3 0.5 13.2 0.5-15.8 0.5 12.9 0.5-19.4 0.5 19.5 0.5-22.8 0.5 19.5 0.5-23 0.5 19.5 0.5-23 0.5 19.5 0.5-20.2 0.5 16.6 0.5-19.7 0.5 16.1 0.5-20.4 0.5 13.1 0.5-16.9 0.5 13.4 0.5-17.4 0.5 13.6 0.5-17.3 0.5 13.1 0.5-16.6 0.5 12.5 0.5-16.4 0.5 12.3 0.5-16.4 0.5 12.4 0.5-16.4 0.5 12.4 0.5-16.7 0.5 12.9 0.5-17.5 0.5 13.6 0.5-17.5 0.5 12.7 0.5-16.8 0.5 13.3 0.5-17.7 0.5 13.3 0.5-17 0.5 12.8 0.5-17.1 0.5 13 0.5-17.5 0.5 12.8 0.5-17.4 0.5 13.1 0.5-17.2 0.5 12.9 0.5-19 0.5 14.4 0.5-18.9 0.5 14.2 0.5-18.6 0.5 13.9 0.5-18.5 0.5 14 0.5-18.6 0.5 14.3 0.5-18.9 0.5 16.8 0.5-20 0.5 15.3 0.5-19.9 0.5 15 0.5-20.1 0.5 12.8 0.5-17.4 0.5 12.3 0.5-17.3 0.5 12 0.5-16.9 0.5 12 0.5-16.9 0.5 11.8 0.5-17.6 0.5 12.5 0.5-18.8 0.5 13.6 0.5-19.2 0.5 13.5 0.5-19.2 0.5 13.9 0.5-19.8 0.5 13.6 0.5-19.5 0.5 16.5 0.5-22.4 0.5 16.5 0.5-21.3 0.5 15.4 0.5-21.3 0.5 15.4 0.5-20.8 0.5 15 0.5-20.9 0.5 12.4 0.5-18.7 0.5 13.3 0.5-18.5 0.5 13 0.5-18.1 0.5 12.6 0.5-17.8 0.5 12.5 0.5-17.7 0.5 12.8 0.5-17.1 0.5 12.9 0.5-17.6 0.5 12.7 0.5-17.4 0.5 13.4 0.5-17.5 0.5 15 0.5-18.7 0.5 14.6 0.5-19 0.5 14.9 0.5-19.2 0.5 13.5 0.5-18 0.5 13.4 0.5-17.2 0.5 13.4 0.5-17.8 0.5 13.1 0.5-17.9 0.5 13.7 0.5-21.7 0.5 16.9 0.5-22 0.5 17 0.5-22.1 0.5 16.5 0.5-21.6 0.5 17 0.5-19.6 0.5 14.9 0.5-19.1 0.5 14.1 0.5-18.1 0.5 14 0.5-18.3 0.5 14.1 0.5-18.4 0.5 14.4 0.5-18.4 0.5 14.5 0.5-18.1 0.5 13.7 0.5-17.3 0.5 13.5 0.5-17.5 0.5 14.4 0.5-18 0.5 14.8 0.5-17.5 0.5 14.2 0.5-17.4 0.5 14.9 0.5-16.6 0.5 14.8 0.5-17.1 0.5 14.5 0.5-17 0.5 15.8 0.5-17 0.5 19.3 0.5-21.5 0.5 20.2 0.5-26.3 0.5 25.2 0.5-26.6 0.5 25.8 0.5-26.9 0.5 21.7 0.5-17.1 0.5 17.3 0.5-17.8 0.5 16.1 0.5-17.7 0.5 18.1 0.5-18.8 0.5 18.5 0.5-19.1 0.5 18 0.5-18.3 0.5 19 0.5-17.7 0.5 17.8 0.5-17.9 0.5 17.6 0.5-17.6 0.5 18.6 0.5-18.4 0.5 18.6 0.5-17.8 0.5 19.3 0.5-17.9 0.5 17.7 0.5-17.2 0.5 18.8 0.5-17.6 0.5 17.8 0.5-16.5 0.5 17.4 0.5-16.5 0.5 17.7 0.5-16.8 0.5 21.9 0.5-20.7 0.5 21.7 0.5-20.9 0.5 22.2 0.5-20.8 0.5 22.1 0.5-19.9 0.5 16.5 0.5-15.3 0.5 16.9 0.5-13.6 0.5 16.9 0.5-19.2 0.5 22.1 0.5-19.1 0.5 21.5 0.5-18.4 0.5 21.7 0.5-18.4 0.5 21 0.5-17.8 0.5 22 0.5-18.8 0.5 21.9 0.5-13.8 0.5 15.9 0.5-14.2 0.5 17.8 0.5-14.9 0.5 17.8 0.5-14 0.5 15.6 0.5-13 0.5 16.3 0.5-13.6 0.5 21.4 0.5-18.3 0.5 21.1 0.5-19 0.5 21.9 0.5-18.3 0.5 21.2 0.5-18.9 0.5 21.9 0.5-18.4 0.5 16.7 0.5-13.9 0.5 17.1 0.5-14 0.5 16.5 0.5-18.3 0.5 21.6 0.5-18.4 0.5 22.1 0.5-18.9 0.5 22 0.5-18.8 0.5 21.8 0.5-18.6 0.5 21.7 0.5-13.1 0.5 16.6 0.5-13.5 0.5 16.9 0.5-13 0.5 15.3 0.5-12.2 0.5 16 0.5-12.7 0.5 16.2 0.5-12.2 0.5 15.8 0.5-13 0.5 15.7 0.5-12.1 0.5 15.8 0.5-12.8 0.5 16.1 0.5-12.1 0.5 15.6 0.5-12.9 0.5 20.5 0.5-16.8 0.5 20.2 0.5-16.4 0.5 19.7 0.5-20.4 0.5 23.7 0.5-20.3 0.5 19.2 0.5-15.8 0.5 19.2 0.5-15.8 0.5 20.1 0.5-16.7 0.5 19.3 0.5-15.9 0.5 19.4 0.5-15.9 0.5 19 0.5-11.4 0.5 15.4 0.5-12.4 0.5 15.2 0.5-12 0.5 15.3 0.5-12.2 0.5 16 0.5-11.6 0.5 14.7 0.5-12.3 0.5 16.2 0.5-12.2 0.5 15.5 0.5-12.8 0.5 16.3 0.5-12.5 0.5 20.6 0.5-17.5 0.5 20.8 0.5-17.2 0.5 20.5 0.5-17.3 0.5 15.8 0.5-12.1 0.5 14.9 0.5-12 0.5 15.1 0.5-12 0.5 15.5 0.5-12.4 0.5 15.9 0.5-12.7 0.5 15.3 0.5-16.4 0.5 19.6 0.5-16.5 0.5 19.8 0.5-16.7 0.5 20 0.5-16.8 0.5 20.1 0.5-16.8 0.5 19.4 0.5-16.1 0.5 19.9 0.5-12.3 0.5 15.3 0.5-11.8 0.5 15.4 0.5-12 0.5 14.8 0.5-11.5 0.5 15.2 0.5-11.9 0.5 14.8 0.5-11.4 0.5 14.5 0.5-11.6 0.5 19.2 0.5-15.9 0.5 19 0.5-16.5 0.5 19.6 0.5-16.3 0.5 19.2 0.5-15.8 0.5 18.7 0.5-16.1 0.5 15.1 0.5-12.4 0.5 14.9 0.5-12.8 0.5 15.6 0.5-17.5 0.5 19.5 0.5-17.3 0.5 20.1 0.5-18 0.5 19.6 0.5-17.8 0.5 19.6 0.5-18 0.5 20 0.5-18.6 0.5 19.9 0.5-13.7 0.5 14.9 0.5-13.6 0.5 15.1 0.5-14.7 0.5 15.6 0.5-14.2 0.5 19.6 0.5-18.9 0.5 20.1 0.5-18.9 0.5 20 0.5-19.2 0.5 20.3 0.5-22.5 0.5 23.7 0.5-22.8 0.5 23.9 0.5-22.9 0.5 24.1 0.5-23.1 0.5 19.9 0.5-18.8 0.5 19.8 0.5-18.7 0.5 20.2 0.5-19 0.5 19.7 0.5-14.9 0.5 16.8 0.5-15.4 0.5 16.3 0.5-14.7 0.5 16.3 0.5-15.5 0.5 16.9 0.5-15.3 0.5 16.2 0.5-16 0.5 17.5 0.5-15.4 0.5 16.1 0.5-15.7 0.5 17.7 0.5-16.6 0.5 16.9 0.5-15.6 0.5 17.5 0.5-16.3 0.5 16.5 0.5-14.9 0.5 16.3 0.5-15.6 0.5 17 0.5-15.8 0.5 16.7 0.5-15.5 0.5 19.8 0.5-19.3 0.5 20.3 0.5-19 0.5 20 0.5-19.7 0.5 20.6 0.5-19.7 0.5 20.7 0.5-19 0.5 16.9 0.5-15.9 0.5 16.2 0.5-15.5 0.5 16.6 0.5-16.3 0.5 16.2 0.5-15.7 0.5 16.5 0.5-15.1 0.5 16.7 0.5-20.8 0.5 21.6 0.5-20.8 0.5 21.1 0.5-20.4 0.5 21.7 0.5-21 0.5 21.7 0.5-16.5 0.5 16.5 0.5-16.2 0.5 16.4 0.5-15.4 0.5 16.9 0.5-16.3 0.5 16 0.5-16.2 0.5 16.4 0.5-16.1 0.5 16.4 0.5-15.9 0.5 16.6 0.5-17 0.5 17.2 0.5-17 0.5 16.7 0.5-16.7 0.5 16.7 0.5-15.9 0.5 19.6 0.5-22.3 0.5 22.4 0.5-22.3 0.5 22.5 0.5-22.4 0.5 22.4 0.5-20.5 0.5 20.6 0.5-20.3 0.5 17.5 0.5-17 0.5 16.3 0.5-16.3 0.5 16.5 0.5-16.2 0.5 16.7 0.5-17 0.5 16.4 0.5-16.1 0.5 15.6 0.5-16.5 0.5 16.5 0.5-16.2 0.5 16 0.5-16.7 0.5 16.9 0.5-16.8 0.5 16.6 0.5-16.6 0.5 16.6 0.5-17.7 0.5 17.4 0.5-17.8 0.5 16.7 0.5-16.6 0.5 16.8 0.5-17.5 0.5 16.5 0.5-16.8 0.5 16.5 0.5-17.4 0.5 16.8 0.5-20.9 0.5 20.5 0.5-21.2 0.5 20.3 0.5-21 0.5 20.3 0.5-21.1 0.5 20 0.5-16.8 0.5 16.9 0.5-18 0.5 16.5 0.5-16.8 0.5 16.2 0.5-17.8 0.5 16.5 0.5-18.2 0.5 21.4 0.5-21.8 0.5 20.7 0.5-22 0.5 20.9 0.5-21.9 0.5 20.8 0.5-22.8 0.5 21.5 0.5-22 0.5 20.6 0.5-23.1 0.5 21.6 0.5-22.8 0.5 16.3 0.5-18.2 0.5 16.8 0.5-18.1 0.5 16.6 0.5-18.8 0.5 16.7 0.5-17.9 0.5 15.9 0.5-17.6 0.5 16.3 0.5-18.2 0.5 17.4 0.5-18 0.5 16.8 0.5-18.5 0.5 16.9 0.5-22.2 0.5 20.5 0.5-21.6 0.5 21.3 0.5-22.3 0.5 21 0.5-22.1 0.5 21.4 0.5-22.4 0.5 21.5 0.5-22.4 0.5 21.6 0.5-18 0.5 16.8 0.5-18.1 0.5 17.5 0.5-18 0.5 22.4 0.5-22.8 0.5 22 0.5-23 0.5 22.3 0.5-22.7 0.5 16.8 0.5-17.4 0.5 16.8 0.5-18 0.5 17.2 0.5-18.3 0.5 17 0.5-16.7 0.5 15.6 0.5-16.9 0.5 17.2 0.5-17 0.5 16.3 0.5-16.6 0.5 16.4 0.5-15.6 0.5 16.2 0.5-15.9 0.5 15.5 0.5-14.3 0.5 16 0.5-15 0.5 15 0.5-14 0.5 19.7 0.5-19.1 0.5 20.1 0.5-23.8 0.5 25 0.5-23.4 0.5 25 0.5-23.1 0.5 25 0.5-22.9 0.5 25 0.5-22.7 0.5 24.9 0.5-22.5 0.5 20.9 0.5-14.1 0.5 16.2 0.5-13.6 0.5 15.8 0.5-12.7 0.5 15.2 0.5-13.9 0.5 16.4 0.5-14.3 0.5 15.7 0.5-14.7 0.5 16.3 0.5-14.4 0.5 15.3 0.5-14.2 0.5 15.9 0.5-14.6 0.5 15.5 0.5-14.8 0.5 15.5 0.5-14.1 0.5 15.4 0.5-15.1 0.5 16 0.5-15.4 0.5 16.6 0.5-15.9 0.5 20.8 0.5-20.5 0.5 21.1 0.5-20.4 0.5 20.7 0.5-21.3 0.5 21.4 0.5-21.1 0.5 21.1 0.5-21.8 0.5 21.7 0.5-21.7 0.5 16.2 0.5-16 0.5 15.9 0.5-16.3 0.5 16.4 0.5-21.7 0.5 20.5 0.5-20.9 0.5 20.8 0.5-21.3 0.5 20.7 0.5-21.1 0.5 20.2 0.5-20.6 0.5 19.5 0.5-19.9 0.5 19.9 0.5-20.4 0.5 19.2 0.5-15.8 0.5 15 0.5-15.4 0.5 14.4 0.5-15.2 0.5 14.4 0.5-16.1 0.5 14.3 0.5-15 0.5 14.1 0.5-15.7 0.5 13.8 0.5-14.8 0.5 14.1 0.5-15.6 0.5 13.7 0.5-18.4 0.5 16.5 0.5-18.2 0.5 16.2 0.5-18.3 0.5 16.6 0.5-19 0.5 16.5 0.5-19.3 0.5 16 0.5-19.2 0.5 17.9 0.5-21.2 0.5 17.9 0.5-18.7 0.5 15.2 0.5-18.5 0.5 13.6 0.5-17.6 0.5 13.8 0.5-17 0.5 13 0.5-18.1 0.5 14 0.5-18.1 0.5 12.9 0.5-18.1 0.5 13.9 0.5-17.9 0.5 13.2 0.5-17.8 0.5 13.8 0.5-17.1 0.5 13.1 0.5-17.5 0.5 14.2 0.5-17.6 0.5 14 0.5-17.3 0.5 13.5 0.5-16.9 0.5 14 0.5-16.7 0.5 13.1 0.5-16.5 0.5 13.7 0.5-17.1 0.5 13.1 0.5-17.1 0.5 13.6 0.5-17.6 0.5 13.6 0.5-17.8 0.5 14.1 0.5-21.5 0.5 17.1 0.5-21.9 0.5 17.3 0.5-22 0.5 19.4 0.5-23.9 0.5 19.4 0.5-20.6 0.5 16.6 0.5-19.9 0.5 16.2 0.5-19.8 0.5 13.7 0.5-16.8 0.5 13 0.5-16.2 0.5 13.4 0.5-15.9 0.5 13.2 0.5-15.7 0.5 12.9 0.5-15.3 0.5 12.2 0.5-14.3 0.5 12 0.5-12.9 0.5 11.5 0.5-11.6 0.5 11.4 0.5-9.4 0.5 11.4 0.5-8.5 0.5 11 0.5-8.1 0.5 10.8 0.5-7.8 0.5 10.5 0.5-8.4 0.5 10.7 0.5-7.5 0.5 10.2 0.5-7.3 0.5 12.4 0.5-9 0.5 12.6 0.5-7.8 0.5 12.4 0.5-5 0.5 12.4 0.5-3.5 0.5 10.3 0.5-2.1 0.5 10.5 0.5-3.8 0.5 10.3 0.5-6.1 0.5 12.3 0.5-6.3 0.5 12.1 0.5-6.3 0.5 12.2 0.5-6.5 0.5 12.3 0.5-4.5 0.5 11.6 0.5-5.6 0.5 11.6 0.5-5.8 0.5 11.9 0.5-5.9 0.5 11.9 0.5-6.6 0.5 10.7 0.5-6.5 0.5 11.1 0.5-6.6 0.5 10.6 0.5-7.1 0.5 11.3 0.5-10.2 0.5 13.9 0.5-11.1 0.5 13.7 0.5-11.5 0.5 14.3 0.5-12.2 0.5 14.3 0.5-12.6 0.5 14.4 0.5-10.6 0.5 11.3 0.5-13.5 0.5 11.9 0.5-15.6 0.5 11.4 0.5-17 0.5 11.1 0.5-15.8 0.5 10.3 0.5-16 0.5 10.1 0.5-15.9 0.5 9.7 0.5-14 0.5 9.1 0.5-12.7 0.5 9.1 0.5-11.4 0.5 10.4 0.5-10.5 0.5 10 0.5-8.7 0.5 9.7 0.5-6.9 0.5 9.5 0.5-5.4 0.5 8.2 0.5-5.4 0.5 8.3 0.5-5.3 0.5 8 0.5-4.4 0.5 8.2 0.5-2.5 0.5 8 0.5-0.5 0.5 8.1 0.5 0.8 0.5 8.1 0.5 3.5 0.5 7.9 0.5 6.5 0.5 8 0.5 7 0.5 8.1 0.5 5.1 0.5 8 0.5 2 0.5 7.9 0.5 1.2 0.5 7.9 0.5 0.6 0.5 7.9 0.5-0.1 0.5 8.1 0.5-0.7 0.5 8.1 0.5-1.2 0.5 7.9 0.5-2.2 0.5 9 0.5-3.5 0.5 9.2 0.5-4.3 0.5 9.3 0.5-5.1 0.5 9.5 0.5-5.9 0.5 9.7 0.5-6.5 0.5 9.2 0.5-6.3 0.5 9.3 0.5-5.8 0.5 9 0.5-6.2 0.5 9.5 0.5-6.2 0.5 9.7 0.5-6.3 0.5 10 0.5-6.6 0.5 10.7 0.5-6.4 0.5 11.1 0.5-7.1 0.5 11.2 0.5-7.5 0.5 12.1 0.5-8.2 0.5 11.9 0.5-8.6 0.5 11.5 0.5-8.6 0.5 11.9 0.5-9.3 0.5 12 0.5-8.8 0.5 14 0.5-11.5 0.5 14.2 0.5-12.1 0.5 14.7 0.5-12.1 0.5 14.6 0.5-12 0.5 14.3 0.5-12.6 0.5 14.7 0.5-12.8 0.5 12.3 0.5-11 0.5 12.8 0.5-11.4 0.5 12.9 0.5-11.6 0.5 12.6 0.5-11.7 0.5 13.2 0.5-14 0.5 15 0.5-14.1 0.5 14.9 0.5-14.1 0.5 15 0.5-14.3 0.5 18.1 0.5-17.4 0.5 18.3 0.5-17.7 0.5 18.5 0.5-17.9 0.5 16.2 0.5-13.8 0.5 13.8 0.5-13.6 0.5 14.3 0.5-14.1 0.5 14.7 0.5-14.1 0.5 14.4 0.5-13.7 0.5 14 0.5-13.9 0.5 13.9 0.5-13.7 0.5 14.6 0.5-14.5 0.5 14.2 0.5-14 0.5 14.9 0.5-14.1 0.5 14.3 0.5-14 0.5 13.9 0.5-14.2 0.5 14 0.5-14.2 0.5 14.3 0.5-18.1 0.5 17.5 0.5-17.7 0.5 17.5 0.5-17.7 0.5 17.1 0.5-17.4 0.5 16.2 0.5-16.6 0.5 18.3 0.5-15.6 0.5 14.6 0.5-15.1 0.5 14 0.5-14.7 0.5 13.4 0.5-15 0.5 13.5 0.5-14.5 0.5 10.9 0.5-12.6 0.5 10.8 0.5-12.7 0.5 10.3 0.5-12.2 0.5 10.2 0.5-12.3 0.5 9.5 0.5-12.3 0.5 9.4 0.5-12.3 0.5 8.9 0.5-12.3 0.5 8.7 0.5-12.4 0.5 8.5 0.5-12.3 0.5 8.2 0.5-12.2 0.5 7.8 0.5-12.5 0.5 7.7 0.5-13.2 0.5 7.6 0.5-13.5 0.5 7.4 0.5-13.6 0.5 7.4 0.5-13.9 0.5 7.7 0.5-13.8 0.5 7.7 0.5-14.3 0.5 7.6 0.5-15.3 0.5 7.6 0.5-17.1 0.5 7.5 0.5-18.6 0.5 7.2 0.5-20.1 0.5 7.2 0.5-21 0.5 7.2 0.5-21.5 0.5 7.2 0.5-21.7 0.5 7.2 0.5-22.6 0.5 7.4 0.5-24.3 0.5 7.4 0.5-26.6 0.5 7.5 0.5-33.2 0.5 7.5 0.5-28.9 0.5 7.5 0.5-21.1 0.5 7.3 0.5-18.9 0.5 7.2 0.5-20.6 0.5 7.3 0.5-23.7 0.5 7.3 0.5-25.2 0.5 7.3 0.5-26.1 0.5 7.3 0.5-28.9 0.5 7.6 0.5-23.4 0.5 7.8 0.5-19.2 0.5 7.7 0.5-16.9 0.5 7.4 0.5-16.3 0.5 7.5 0.5-16.3 0.5 7.5 0.5-15.2 0.5 7.5 0.5-13 0.5 7.5 0.5-11.5 0.5 7.6 0.5-9.7 0.5 7.6 0.5-8.7 0.5 7.7 0.5-7.8 0.5 7.6 0.5-6.7 0.5 7.5 0.5-5.7 0.5 7.5 0.5-3.8 0.5 7.5 0.5-2.3 0.5 7.5 0.5-0.1 0.5 7.4 0.5 1.2 0.5 7.5 0.5 1.4 0.5 7.4 0.5 1.9 0.5 7.4 0.5 3.6 0.5 7.3 0.5 7.1 0.5 7.1 0.5 13.7 0.5 7.2 0.5 12 0.5 7.1 0.5 10.5 0.5 7 0.5 10 0.5 7.1 0.5 9.2 0.5 7 0.5 8.6 0.5 7.1 0.5 13.5 0.5 7.2 0.5 25 0.5 7.1 0.5 18.5 0.5 7.2 0.5 14.7 0.5 7.1 0.5 12.7 0.5 7 0.5 10.8 0.5 7 0.5 9.1 0.5 7 0.5 8.7 0.5 7 0.5 9.6 0.5 6.9 0.5 11.9 0.5 7 0.5 5.5 0.5 7.2 0.5 2.1 0.5 7.2 0.5 0.4 0.5 7.3 0.5-0.9 0.5 7.5 0.5-1.7 0.5 7.6 0.5-2.4 0.5 7.7 0.5-2.8 0.5 7.8 0.5-3.2 0.5 7.6 0.5-3 0.5 7.8 0.5-3.4 0.5 8.1 0.5-3.2 0.5 7.7 0.5-3.5 0.5 7.9 0.5-4 0.5 8.2 0.5-4.5 0.5 8.4 0.5-5.1 0.5 8.7 0.5-5.8 0.5 9.2 0.5-7.1 0.5 10 0.5-7.6 0.5 10.5 0.5-8.9 0.5 11.3 0.5-8.8 0.5 11.1 0.5-9.4 0.5 11.2 0.5-9.1 0.5 11.4 0.5-10.1 0.5 11.8 0.5-9.7 0.5 11.9 0.5-10.6 0.5 11.8 0.5-10.5 0.5 12.2 0.5-10.4 0.5 12.1 0.5-11.1 0.5 12.6 0.5-11.1 0.5 12.4 0.5-11.7 0.5 12.8 0.5-11.7 0.5 12.9 0.5-11.5 0.5 12.8 0.5-15.8 0.5 20.4 0.5-19.6 0.5 20.7 0.5-19.8 0.5 20.7 0.5-19.9 0.5 20.9 0.5-20.1 0.5 21 0.5-20.2 0.5 17 0.5-16.2 0.5 17.1 0.5-12.6 0.5 13.6 0.5-12.8 0.5 13.8 0.5-13.4 0.5 14.1 0.5-13.4 0.5 13.8 0.5-13.3 0.5 14.1 0.5-12.9 0.5 13.8 0.5-12.9 0.5 13.6 0.5-13.8 0.5 13.9 0.5-13.3 0.5 13.6 0.5-12.9 0.5 13.6 0.5-12.9 0.5 14 0.5-13.6 0.5 13.7 0.5-13.2 0.5 14 0.5-13.2 0.5 13.4 0.5-13.2 0.5 14.3 0.5-13.8 0.5 14 0.5-13.4 0.5 13.9 0.5-13.2 0.5 13.5 0.5-14.5 0.5 15.2 0.5-14.7 0.5 14.7 0.5-14.2 0.5 14.9 0.5-13.2 0.5 13.8 0.5-13.4 0.5 15.5 0.5-14.5 0.5 15 0.5-14.4 0.5 14.9 0.5-14.4 0.5 14.9 0.5-14.5 0.5 15 0.5-15 0.5 15.5 0.5-16.5 0.5 17 0.5-16.5 0.5 15.8 0.5-15.3 0.5 15.4 0.5-14.9 0.5 15.1 0.5-14.6 0.5 15.7 0.5-15.3 0.5 15.1 0.5-12.6 0.5 13.3 0.5-13.2 0.5 13.9 0.5-13.2 0.5 13.4 0.5-13.1 0.5 13.9 0.5-13.5 0.5 13.8 0.5-13.7 0.5 13.9 0.5-13.2 0.5 13.8 0.5-13.4 0.5 15 0.5-14.9 0.5 15.2 0.5-14.5 0.5 14.8 0.5-14.8 0.5 15.1 0.5-14.7 0.5 15 0.5-15 0.5 13.8 0.5-13.7 0.5 14 0.5-13.5 0.5 14 0.5-14.1 0.5 13.9 0.5-16.6 0.5 17 0.5-16.8 0.5 16.5 0.5-16.4 0.5 16.7 0.5-16.7 0.5 17 0.5-17 0.5 16.8 0.5-13.6 0.5 13.3 0.5-13.7 0.5 14 0.5-13.8 0.5 13.6 0.5-13.7 0.5 13.6 0.5-13.4 0.5 13.7 0.5-13.7 0.5 13.3 0.5-13.7 0.5 13.9 0.5-13.2 0.5 15.1 0.5-15.6 0.5 15.6 0.5-15.9 0.5 15.9 0.5-15.6 0.5 15.6 0.5-15.3 0.5 13.1 0.5-13.7 0.5 13.9 0.5-13.4 0.5 13.7 0.5-14.1 0.5 14.1 0.5-14 0.5 13.9 0.5-14.3 0.5 13.6 0.5-16.4 0.5 16.6 0.5-16.6 0.5 17.2 0.5-17.3 0.5 16.5 0.5-16.5 0.5 16.8 0.5-16.8 0.5 17.1 0.5-17.1 0.5 16.5 0.5-16.5 0.5 16.9 0.5-13.4 0.5 13.2 0.5-14 0.5 13.8 0.5-13 0.5 13.5 0.5-13.8 0.5 13.3 0.5-13.8 0.5 14.1 0.5-13.3 0.5 13.4 0.5-14.1 0.5 14 0.5-14 0.5 14 0.5-13.7 0.5 17.3 0.5-17.1 0.5 17.1 0.5-17.6 0.5 17.6 0.5-17.3 0.5 17.3 0.5-17 0.5 17 0.5-17.7 0.5 14.1 0.5-14 0.5 14.2 0.5-17.5 0.5 16.9 0.5-16.9 0.5 17.5 0.5-17.5 0.5 17.1 0.5-17.1 0.5 17.6 0.5-17.6 0.5 17.3 0.5-17.3 0.5 17.4 0.5-13.9 0.5 13.7 0.5-13.2 0.5 13.2 0.5-13.5 0.5 13.3 0.5-13.4 0.5 13.3 0.5-13.6 0.5 13.8 0.5-14 0.5 13.7 0.5-13.2 0.5 12.9 0.5-13.5 0.5 13.5 0.5-13.4 0.5 13 0.5-13.8 0.5 14 0.5-14 0.5 13 0.5-16.3 0.5 15.9 0.5-16.4 0.5 16.4 0.5-16.9 0.5 19.2 0.5-19.7 0.5 19.2 0.5-19.8 0.5 19.3 0.5-19.8 0.5 19.2 0.5-19.7 0.5 19.2 0.5-17.3 0.5 16.8 0.5-17.4 0.5 16.9 0.5-17.1 0.5 13.2 0.5-13.8 0.5 14.2 0.5-14.3 0.5 13.6 0.5-14.1 0.5 13.4 0.5-13.7 0.5 13.4 0.5-16 0.5 15.7 0.5-16.1 0.5 15.5 0.5-16 0.5 16 0.5-16.4 0.5 15.9 0.5-16.3 0.5 16 0.5-16.4 0.5 15.5 0.5-14.4 0.5 18 0.5-17.9 0.5 17.5 0.5-18.5 0.5 18.1 0.5-18.2 0.5 17.7 0.5-18 0.5 17.6 0.5-18.4 0.5 18 0.5-18.3 0.5 14.1 0.5-14.2 0.5 13.8 0.5-14.7 0.5 13.9 0.5-14.1 0.5 13.7 0.5-14.1 0.5 13.9 0.5-14.4 0.5 13.9 0.5-14.7 0.5 14.4 0.5-14.5 0.5 14 0.5-15 0.5 13.8 0.5-13.9 0.5 13.5 0.5-14.2 0.5 14.1 0.5-14.6 0.5 14.1 0.5-14.9 0.5 14.2 0.5-14.8 0.5 14.5 0.5-14.4 0.5 13.4 0.5-14.3 0.5 13.8 0.5-14.6 0.5 14.2 0.5-14.4 0.5 13.7 0.5-14.7 0.5 16.5 0.5-19.2 0.5 18.7 0.5-19.3 0.5 18.7 0.5-19.2 0.5 18.7 0.5-19.2 0.5 18.6 0.5-16.8 0.5 14.3 0.5-14.4 0.5 13.5 0.5-13.8 0.5 13.7 0.5-14.5 0.5 13.8 0.5-14.7 0.5 14.1 0.5-14 0.5 13.2 0.5-14.1 0.5 14.3 0.5-14.3 0.5 13.2 0.5-13.9 0.5 13.9 0.5-17.8 0.5 16.4 0.5-17 0.5 16.5 0.5-17.2 0.5 17.1 0.5-17.9 0.5 16.9 0.5-17.7 0.5 16.5 0.5-17.5 0.5 16.5 0.5-14.6 0.5 13.8 0.5-14.7 0.5 13.1 0.5-14.9 0.5 13.8 0.5-14.8 0.5 13.1 0.5-14.8 0.5 13.9 0.5-15.4 0.5 13.1 0.5-14.7 0.5 13.4 0.5-17 0.5 15.7 0.5-17.3 0.5 18.7 0.5-20.4 0.5 18.7 0.5-20.3 0.5 18.7 0.5-20.4 0.5 18.7 0.5-20.6 0.5 15.6 0.5-15.5 0.5 13.7 0.5-15.7 0.5 13.2 0.5-14.9 0.5 13.1 0.5-15.4 0.5 13.7 0.5-16 0.5 14.2 0.5-15.7 0.5 13.4 0.5-16 0.5 13.6 0.5-15.9 0.5 14.4 0.5-16.4 0.5 14.3 0.5-15.9 0.5 13.2 0.5-18.6 0.5 16.6 0.5-18.8 0.5 16.7 0.5-18.9 0.5 17.1 0.5-16.5 0.5 14.4 0.5-16.7 0.5 14.2 0.5-16.1 0.5 13.5 0.5-15.9 0.5 13.9 0.5-15.8 0.5 13.3 0.5-15.8 0.5 14.3 0.5-16.2 0.5 14 0.5-16.6 0.5 14.3 0.5-19.7 0.5 17.7 0.5-19.6 0.5 20.4 0.5-22.3 0.5 20.5 0.5-22.4 0.5 20.5 0.5-22.3 0.5 20.6 0.5-18 0.5 13.4 0.5-14.8 0.5 14 0.5-16 0.5 14.7 0.5-15.5 0.5 14.1 0.5-14.6 0.5 13.6 0.5-14.8 0.5 14.1 0.5-14.7 0.5 14.3 0.5-14.3 0.5 14.4 0.5-14.3 0.5 16.9 0.5-15.8 0.5 16.7 0.5-15.1 0.5 16.1 0.5-15.3 0.5 16.4 0.5-15.6 0.5 16.7 0.5-15.5 0.5 14.1 0.5-12.8 0.5 14.8 0.5-13.6 0.5 14.8 0.5-13 0.5 13.8 0.5-12.5 0.5 14.5 0.5-13.8 0.5 15.5 0.5-15.3 0.5 15.9 0.5-14.5 0.5 15.9 0.5-14.5 0.5 16.7 0.5-14 0.5 15.1 0.5-13.4 0.5 14.9 0.5-13.5 0.5 14.9 0.5-13.1 0.5 15.8 0.5-14.2 0.5 15.6 0.5-14.2 0.5 15.6 0.5-14.1 0.5 15.5 0.5-14.9 0.5 16.3 0.5-14.1 0.5 15.5 0.5-14.7 0.5 16.1 0.5-14.5 0.5 14.4 0.5-12.9 0.5 14.3 0.5-12.5 0.5 13.7 0.5-12.1 0.5 13.7 0.5-12.1 0.5 14.1 0.5-12.5 0.5 13.8 0.5-13 0.5 14.6 0.5-12.3 0.5 13.8 0.5-12.6 0.5 14.1 0.5-12.5 0.5 14.4 0.5-13.3 0.5 14.1 0.5-12.8 0.5 14.6 0.5-17.3 0.5 17.7 0.5-16.8 0.5 18.4 0.5-17.6 0.5 17.6 0.5-16.9 0.5 17.6 0.5-12.7 0.5 13.9 0.5-13.4 0.5 14.3 0.5-13.7 0.5 13.9 0.5-13.8 0.5 14.2 0.5-12.8 0.5 13.5 0.5-13.2 0.5 14.2 0.5-14.7 0.5 18.5 0.5-18.4 0.5 18.6 0.5-18.5 0.5 18.5 0.5-18.5 0.5 18.4 0.5-18.7 0.5 14.7 0.5-14.3 0.5 14.1 0.5-14.8 0.5 13.9 0.5-14.4 0.5 13.8 0.5-14.2 0.5 13.9 0.5-15 0.5 14.4 0.5-15.2 0.5 14 0.5-14.3 0.5 13.4 0.5-14.1 0.5 13.7 0.5-14.7 0.5 13.2 0.5-13.7 0.5 12.8 0.5-13.7 0.5 12.8 0.5-15.1 0.5 14 0.5-14.7 0.5 13.8 0.5-14.7 0.5 13.3 0.5-14.3 0.5 12.7 0.5-12.7 0.5 11.3 0.5-12.6 0.5 10.7 0.5-12.2 0.5 11.5 0.5-12.9 0.5 10.6 0.5-12.3 0.5 9.9 0.5-11.9 0.5 9.5 0.5-11.6 0.5 8.4 0.5-10.9 0.5 8.3 0.5-10.8 0.5 8.1 0.5-10.9 0.5 7.9 0.5-11.5 0.5 7.8 0.5-12.4 0.5 7.9 0.5-13.1 0.5 7.6 0.5-13.3 0.5 7.6 0.5-13.4 0.5 7.6 0.5-13.3 0.5 7.6 0.5-13.5 0.5 7.4 0.5-14.4 0.5 7.4 0.5-16.2 0.5 7.4 0.5-20.3 0.5 7.4 0.5-23.1 0.5 7.3 0.5-23.5 0.5 7.2 0.5-22.2 0.5 7.4 0.5-21.5 0.5 7.2 0.5-21.3 0.5 7.1 0.5-21.2 0.5 7.1 0.5-21.2 0.5 7 0.5-20.6 0.5 6.9 0.5-20.3 0.5 6.9 0.5-20.9 0.5 6.9 0.5-22.6 0.5 6.8 0.5-26.4 0.5 7 0.5-30.4 0.5 6.9 0.5-28.2 0.5 6.9 0.5-22.2 0.5 7 0.5-20 0.5 6.8 0.5-23.3 0.5 6.9 0.5-36.5 0.5 6.8 0.5-51.5 0.5 6.9 0.5-44.2 0.5 7 0.5-28.2 0.5 7.1 0.5-24.6 0.5 7 0.5-30 0.5 7.1 0.5-31.6 0.5 6.9 0.5-20.5 0.5 6.9 0.5-17.3 0.5 6.9 0.5-15.9 0.5 7 0.5-16.1 0.5 6.9 0.5-15.3 0.5 7 0.5-13.6 0.5 7.1 0.5-9 0.5 7.1 0.5-1.2 0.5 7.1 0.5-0.2 0.5 7 0.5 1.7 0.5 7 0.5 3 0.5 6.9 0.5 4.6 0.5 7.1 0.5 7.2 0.5 7.1 0.5 14.1 0.5 7.1 0.5 16.1 0.5 6.9 0.5 13 0.5 7 0.5 12 0.5 7 0.5 11.1 0.5 7 0.5 9.6 0.5 6.9 0.5 9.1 0.5 6.8 0.5 9.6 0.5 6.9 0.5 11.1 0.5 6.7 0.5 13.6 0.5 6.8 0.5 16.7 0.5 6.8 0.5 25.3 0.5 6.8 0.5 53.2 0.5 6.8 0.5 23.8 0.5 6.8 0.5 15.1 0.5 6.8 0.5 13 0.5 6.8 0.5 10.9 0.5 6.8 0.5 9.2 0.5 6.8 0.5 8.4 0.5 6.8 0.5 8.2 0.5 6.8 0.5 7.6 0.5 6.8 0.5 6.9 0.5 6.8 0.5 5.9 0.5 6.8 0.5 5 0.5 6.9 0.5 4.5 0.5 6.8 0.5 3.8 0.5 6.9 0.5 3.1 0.5 7.1 0.5 2 0.5 7.2 0.5 1.4 0.5 7.4 0.5 1 0.5 7.6 0.5 0.4 0.5 8 0.5-0.6 0.5 8.3 0.5-1.5 0.5 7.9 0.5-2 0.5 7.9 0.5-3.1 0.5 8 0.5-3.9 0.5 8.2 0.5-5.5 0.5 9.3 0.5-6.2 0.5 9.4 0.5-6.5 0.5 9.7 0.5-7.1 0.5 9.9 0.5-6 0.5 8.9 0.5-6.7 0.5 9.2 0.5-6.9 0.5 9.6 0.5-7.3 0.5 9.8 0.5-7.8 0.5 10 0.5-7.9 0.5 10.3 0.5-8.1 0.5 10.8 0.5-9 0.5 10.9 0.5-9.1 0.5 11.3 0.5-9.6 0.5 12 0.5-10.1 0.5 11.9 0.5-10.6 0.5 12.2 0.5-10.5 0.5 14.6 0.5-13.1 0.5 14.8 0.5-13.2 0.5 14.8 0.5-13.6 0.5 15.2 0.5-13.5 0.5 15 0.5-13.2 0.5 12.1 0.5-11.3 0.5 13.1 0.5-11.6 0.5 12.6 0.5-11.3 0.5 13.3 0.5-12 0.5 13.2 0.5-13.7 0.5 14.6 0.5-13.4 0.5 14.7 0.5-13.4 0.5 14.7 0.5-13.5 0.5 15.1 0.5-13.9 0.5 15.2 0.5-14.1 0.5 14.8 0.5-11.2 0.5 12.4 0.5-11.6 0.5 13 0.5-12.4 0.5 14.4 0.5-12.9 0.5 13.9 0.5-13.3 0.5 14.1 0.5-13.1 0.5 13.9 0.5-13.7 0.5 14.4 0.5-13.8 0.5 14.4 0.5-13.2 0.5 13.8 0.5-13.5 0.5 12.9 0.5-12.1 0.5 12.9 0.5-12.9 0.5 13.3 0.5-12.7 0.5 13.1 0.5-12.3 0.5 13.1 0.5-12.8 0.5 13 0.5-12.1 0.5 13 0.5-14.7 0.5 15.3 0.5-14.8 0.5 15.1 0.5-14.6 0.5 15.1 0.5-12.4 0.5 12.6 0.5-12.7 0.5 13.6 0.5-13 0.5 13.5 0.5-12.6 0.5 12.8 0.5-13.1 0.5 13.3 0.5-12.8 0.5 14.3 0.5-13.9 0.5 14.2 0.5-14 0.5 14.3 0.5-13.7 0.5 14 0.5-14 0.5 14.2 0.5-14.1 0.5 13 0.5-12.3 0.5 12.5 0.5-12.4 0.5 12.6 0.5-13 0.5 13.3 0.5-13 0.5 12.8 0.5-12.6 0.5 12.8 0.5-12.4 0.5 12.4 0.5-12.3 0.5 12.6 0.5-12.9 0.5 13.2 0.5-12.8 0.5 12.9 0.5-12.5 0.5 13 0.5-13.5 0.5 13.6 0.5-15.1 0.5 14.8 0.5-14.7 0.5 15.2 0.5-15.1 0.5 14.6 0.5-14.5 0.5 14.8 0.5-14.7 0.5 14.7 0.5-14.6 0.5 15.1 0.5-13.5 0.5 13.5 0.5-13.1 0.5 12.7 0.5-12.8 0.5 13 0.5-12.8 0.5 12.6 0.5-12.7 0.5 13.1 0.5-13.2 0.5 16.4 0.5-15.9 0.5 16 0.5-16.5 0.5 16.5 0.5-16.2 0.5 16.2 0.5-15.9 0.5 15.9 0.5-16 0.5 16 0.5-16.2 0.5 13.3 0.5-13.1 0.5 12.8 0.5-12.8 0.5 12.8 0.5-12.8 0.5 12.4 0.5-13 0.5 13.5 0.5-13.4 0.5 13.1 0.5-13.5 0.5 13.4 0.5-13 0.5 14.6 0.5-14.9 0.5 14.8 0.5-14.9 0.5 14.8 0.5-15 0.5 14.9 0.5-16.8 0.5 16.7 0.5-16.8 0.5 14.9 0.5-15 0.5 15 0.5-15.1 0.5 14.5 0.5-14.7 0.5 15 0.5-15.1 0.5 14.5 0.5-12.8 0.5 13.1 0.5-13 0.5 12.3 0.5-12.8 0.5 13.3 0.5-12.9 0.5 12.6 0.5-13 0.5 12.6 0.5-13.1 0.5 13.4 0.5-13.3 0.5 15.2 0.5-15.5 0.5 15.4 0.5-15.3 0.5 15.1 0.5-15.4 0.5 13 0.5-13.2 0.5 13.2 0.5-12.9 0.5 12.7 0.5-12.7 0.5 12.8 0.5-15.4 0.5 15.6 0.5-15.8 0.5 15.6 0.5-15.7 0.5 15 0.5-15.1 0.5 15.5 0.5-15.6 0.5 15.5 0.5-15.7 0.5 15.3 0.5-13.2 0.5 13.3 0.5-13 0.5 13 0.5-13.2 0.5 12.5 0.5-13 0.5 13 0.5-12.5 0.5 12.9 0.5-13.1 0.5 13 0.5-12.8 0.5 12.2 0.5-13 0.5 15.5 0.5-15.1 0.5 15.2 0.5-14.9 0.5 15 0.5-15.4 0.5 15.5 0.5-15 0.5 15.1 0.5-14.9 0.5 15.1 0.5-18.4 0.5 16.7 0.5-16.5 0.5 16.8 0.5-16.6 0.5 16.7 0.5-16.4 0.5 16.7 0.5-16.5 0.5 16.7 0.5-16.5 0.5 16.2 0.5-12.2 0.5 12.7 0.5-13.1 0.5 13.2 0.5-12.4 0.5 12.8 0.5-12.8 0.5 12.8 0.5-13 0.5 13.1 0.5-12.6 0.5 12.9 0.5-12.5 0.5 12.9 0.5-13 0.5 14.3 0.5-14.3 0.5 14.4 0.5-14.5 0.5 14.6 0.5-14.5 0.5 14.6 0.5-14.2 0.5 13.1 0.5-13.1 0.5 12.9 0.5-12.7 0.5 12.7 0.5-12.9 0.5 12.7 0.5-12.7 0.5 13.1 0.5-14.5 0.5 14.2 0.5-14.1 0.5 14.6 0.5-14.6 0.5 14 0.5-13.9 0.5 14.1 0.5-12.4 0.5 12.8 0.5-12.7 0.5 12.8 0.5-12.9 0.5 15 0.5-14.9 0.5 15 0.5-15.3 0.5 15.4 0.5-15.1 0.5 13.2 0.5-13.3 0.5 12.8 0.5-12.4 0.5 12.8 0.5-16.3 0.5 16.5 0.5-16.3 0.5 16.6 0.5-16.5 0.5 16.6 0.5-16.5 0.5 16.2 0.5-16 0.5 16.1 0.5-15.8 0.5 16.3 0.5-12.3 0.5 12.5 0.5-12.5 0.5 13.2 0.5-12.6 0.5 13 0.5-12.5 0.5 12.7 0.5-12 0.5 12.7 0.5-11.7 0.5 12.4 0.5-11.9 0.5 12.8 0.5-12.3 0.5 12.4 0.5-11.5 0.5 12.2 0.5-11.3 0.5 12 0.5-11.8 0.5 14.7 0.5-14 0.5 14.7 0.5-13.7 0.5 14.4 0.5-14.1 0.5 14.7 0.5-13.8 0.5 14.5 0.5-14.2 0.5 12.7 0.5-11.9 0.5 12.7 0.5-12.1 0.5 12.8 0.5-14.2 0.5 14.5 0.5-14 0.5 14.3 0.5-13.7 0.5 14.2 0.5-12 0.5 12.8 0.5-11.9 0.5 12.4 0.5-12.3 0.5 12.9 0.5-12.4 0.5 13 0.5-12 0.5 12.1 0.5-11.9 0.5 12.5 0.5-12.1 0.5 12.8 0.5-11.7 0.5 12.4 0.5-12.4 0.5 12.8 0.5-11.8 0.5 12.6 0.5-12.5 0.5 12.4 0.5-11.7 0.5 12.3 0.5-11.5 0.5 12.1 0.5-11.4 0.5 12.5 0.5-12.3 0.5 12.6 0.5-13 0.5 13.5 0.5-12.9 0.5 13.8 0.5-13.1 0.5 13.5 0.5-12.8 0.5 13.6 0.5-12.2 0.5 15.4 0.5-14.4 0.5 15 0.5-14.1 0.5 14.8 0.5-14.3 0.5 14.9 0.5-14.1 0.5 14.8 0.5-14.6 0.5 15.2 0.5-14.2 0.5 14.8 0.5-14.6 0.5 12.6 0.5-11.7 0.5 12.2 0.5-11.5 0.5 11.8 0.5-11.2 0.5 12.3 0.5-12 0.5 12 0.5-11.4 0.5 11.9 0.5-11.7 0.5 12.6 0.5-12 0.5 12.3 0.5-12.3 0.5 12.9 0.5-12.4 0.5 12.3 0.5-11.4 0.5 11.7 0.5-11.4 0.5 12 0.5-11.7 0.5 12.4 0.5-14.9 0.5 14.8 0.5-14.5 0.5 15 0.5-14.7 0.5 15.2 0.5-15 0.5 15.1 0.5-14.9 0.5 15.2 0.5-15 0.5 14.7 0.5-14.5 0.5 15 0.5-12.1 0.5 12.2 0.5-11.8 0.5 11.9 0.5-11.6 0.5 11.6 0.5-11.8 0.5 12 0.5-11.9 0.5 14.5 0.5-14.4 0.5 14.5 0.5-14.3 0.5 14.3 0.5-14.6 0.5 14.7 0.5-14.2 0.5 14.2 0.5-16 0.5 16 0.5-16 0.5 13.8 0.5-13.8 0.5 13.9 0.5-14 0.5 13.7 0.5-13.7 0.5 13.9 0.5-14 0.5 14.1 0.5-12.6 0.5 12.1 0.5-12 0.5 12 0.5-11.8 0.5 11.8 0.5-12 0.5 12.1 0.5-12.2 0.5 11.9 0.5-12 0.5 11.8 0.5-12.4 0.5 12.4 0.5-12.6 0.5 12.7 0.5-14.3 0.5 16.8 0.5-17.1 0.5 16.7 0.5-17.2 0.5 16.7 0.5-16 0.5 15.5 0.5-15.7 0.5 12 0.5-12.4 0.5 11.7 0.5-12.4 0.5 11.6 0.5-12.7 0.5 12.2 0.5-12.8 0.5 11.9 0.5-12.1 0.5 11.8 0.5-12.5 0.5 11.8 0.5-12.9 0.5 11.7 0.5-12.5 0.5 13.9 0.5-14.8 0.5 13.8 0.5-15.1 0.5 13.9 0.5-14.8 0.5 13.6 0.5-14.9 0.5 13.7 0.5-15.4 0.5 14 0.5-15.4 0.5 14 0.5-15.2 0.5 11.5 0.5-13.1 0.5 11.4 0.5-14.6 0.5 13.3 0.5-15 0.5 13.5 0.5-15.4 0.5 13.5 0.5-15.8 0.5 13.7 0.5-16.2 0.5 13.4 0.5-14 0.5 11.9 0.5-14.5 0.5 12.2 0.5-13.6 0.5 11.7 0.5-13.7 0.5 12 0.5-13.8 0.5 12 0.5-13.3 0.5 12.7 0.5-12.6 0.5 12 0.5-11.5 0.5 11.6 0.5-10.5 0.5 12.3 0.5-10.7 0.5 12.1 0.5-10 0.5 12.1 0.5-11 0.5 12.1 0.5-13.1 0.5 14.7 0.5-13.3 0.5 16.2 0.5-14.9 0.5 16.3 0.5-12.7 0.5 14.1 0.5-12.6 0.5 13.9 0.5-12.4 0.5 13.8 0.5-12.4 0.5 13.8 0.5-12.4 0.5 13.8 0.5-12.8 0.5 12.7 0.5-11.3 0.5 12.7 0.5-11.1 0.5 12.2 0.5-10.3 0.5 11.7 0.5-10.3 0.5 12.2 0.5-10.4 0.5 12.2 0.5-10.6 0.5 12.2 0.5-10.3 0.5 12.2 0.5-10.6 0.5 12.4 0.5-10.9 0.5 12.4 0.5-10.3 0.5 11.5 0.5-10.3 0.5 11.9 0.5-10.4 0.5 11.7 0.5-10.6 0.5 11.9 0.5-10.9 0.5 12.2 0.5-10.8 0.5 11.8 0.5-13.3 0.5 14.2 0.5-13.2 0.5 14.6 0.5-13.6 0.5 14.3 0.5-10.6 0.5 11.8 0.5-11.2 0.5 11.9 0.5-10.8 0.5 11.9 0.5-10.9 0.5 11.4 0.5-10.8 0.5 13.9 0.5-13.4 0.5 14.1 0.5-13.1 0.5 13.8 0.5-13.4 0.5 11.9 0.5-11.3 0.5 11.5 0.5-10.7 0.5 11.6 0.5-11.1 0.5 11.5 0.5-10.9 0.5 11.7 0.5-11.1 0.5 11.8 0.5-11.2 0.5 11.8 0.5-11.4 0.5 11.8 0.5-11.5 0.5 12.1 0.5-11.6 0.5 11.9 0.5-11.7 0.5 12.1 0.5-11.3 0.5 11.3 0.5-11.4 0.5 11.5 0.5-11.7 0.5 12.1 0.5-14.6 0.5 14.2 0.5-14.4 0.5 14.5 0.5-14.8 0.5 14.4 0.5-14.7 0.5 14.6 0.5-12.5 0.5 12.1 0.5-12.2 0.5 13.4 0.5-14 0.5 13.6 0.5-14.1 0.5 13.7 0.5-14 0.5 13.6 0.5-14.1 0.5 12.1 0.5-12.4 0.5 12.1 0.5-12.2 0.5 12 0.5-12.4 0.5 12.4 0.5-12.5 0.5 12.2 0.5-12.4 0.5 12.1 0.5-12.2 0.5 12.1 0.5-12.1 0.5 11.7 0.5-12 0.5 12.1 0.5-12.5 0.5 12.5 0.5-15.4 0.5 15.3 0.5-15.4 0.5 15.3 0.5-15.4 0.5 15 0.5-15.2 0.5 17.9 0.5-15 0.5 14.9 0.5-14.7 0.5 14.6 0.5-14.7 0.5 14.6 0.5-14.7 0.5 14.6 0.5-14.8 0.5 14.7 0.5-15.3 0.5 15.2 0.5-14.8 0.5 11.9 0.5-11.9 0.5 11.9 0.5-12.4 0.5 12.2 0.5-12.2 0.5 12 0.5-12.3 0.5 12.1 0.5-11.9 0.5 12 0.5-12.4 0.5 11.9 0.5-13.4 0.5 13.9 0.5-14 0.5 13.6 0.5-13.7 0.5 13.3 0.5-13.4 0.5 13.8 0.5-12.6 0.5 12 0.5-11.8 0.5 11.7 0.5-12 0.5 12.1 0.5-12.2 0.5 12.5 0.5-12.6 0.5 11.9 0.5-12.1 0.5 12 0.5-11.8 0.5 12.2 0.5-12.7 0.5 12.6 0.5-12.4 0.5 12.3 0.5-12.2 0.5 11.8 0.5-11.9 0.5 11.8 0.5-11.9 0.5 11.8 0.5-12 0.5 13 0.5-13.5 0.5 13.4 0.5-13.1 0.5 13 0.5-13.1 0.5 13 0.5-13.2 0.5 12.2 0.5-12 0.5 11.8 0.5-12.2 0.5 12 0.5-13 0.5 12.9 0.5-13 0.5 12.9 0.5-13 0.5 12.9 0.5-13 0.5 13.2 0.5-13.3 0.5 13.2 0.5-13.3 0.5 13.1 0.5-12.1 0.5 13.5 0.5-13.4 0.5 13.4 0.5-14 0.5 13.9 0.5-14 0.5 13.9 0.5-13.7 0.5 13.6 0.5-14 0.5 12.5 0.5-12.2 0.5 12.3 0.5-12.4 0.5 11.7 0.5-12.2 0.5 12.2 0.5-12.3 0.5 12.6 0.5-12.4 0.5 12.3 0.5-12.7 0.5 12.3 0.5-12.3 0.5 12.4 0.5-12.2 0.5 12.2 0.5-12.2 0.5 12.2 0.5-12.5 0.5 12.2 0.5-12.1 0.5 12 0.5-14.7 0.5 14.6 0.5-14.6 0.5 14.5 0.5-14.6 0.5 14.5 0.5-14.5 0.5 14.8 0.5-12.4 0.5 12.4 0.5-12.4 0.5 12.4 0.5-12.7 0.5 12.2 0.5-11.7 0.5 11.9 0.5-12.3 0.5 12.1 0.5-12.2 0.5 14.7 0.5-14.3 0.5 14.2 0.5-14.4 0.5 14.4 0.5-14.3 0.5 12 0.5-14.9 0.5 14.8 0.5-14.8 0.5 15.1 0.5-15.1 0.5 15.2 0.5-12.2 0.5 11.7 0.5-11.7 0.5 12 0.5-12 0.5 12.2 0.5-12.4 0.5 11.8 0.5-11.6 0.5 11.8 0.5-12 0.5 12.2 0.5-12.3 0.5 12 0.5-12.4 0.5 12.4 0.5-12.1 0.5 12.3 0.5-12.2 0.5 11.7 0.5-11.9 0.5 12.1 0.5-12.2 0.5 12.3 0.5-12 0.5 11.7 0.5-12.1 0.5 12.5 0.5-12.6 0.5 12.5 0.5-12.6 0.5 12.7 0.5-12.7 0.5 12.4 0.5-12.2 0.5 11.8 0.5-11.9 0.5 12.4 0.5-12.2 0.5 12.1 0.5-12.2 0.5 14.4 0.5-15 0.5 14.9 0.5-14.5 0.5 14.4 0.5-14.9 0.5 14.9 0.5-14.9 0.5 14.8 0.5-15.9 0.5 15.9 0.5-16 0.5 15.9 0.5-15.9 0.5 13.7 0.5-13.8 0.5 13.6 0.5-13.7 0.5 13.5 0.5-12.3 0.5 12.3 0.5-12.1 0.5 12.2 0.5-12.3 0.5 12.1 0.5-12.1 0.5 11.8 0.5-12 0.5 12.3 0.5-12.1 0.5 11.9 0.5-12 0.5 11.8 0.5-11.8 0.5 11.6 0.5-12 0.5 12.1 0.5-12.1 0.5 12.4 0.5-12.6 0.5 12.7 0.5-12.3 0.5 12.2 0.5-12.5 0.5 12 0.5-11.6 0.5 11.6 0.5-11.9 0.5 14.8 0.5-15.1 0.5 15.1 0.5-15.2 0.5 15.2 0.5-14.6 0.5 14.5 0.5-14.7 0.5 14.7 0.5-14.7 0.5 11.9 0.5-15 0.5 14.8 0.5-14.8 0.5 14.8 0.5-14.9 0.5 14.9 0.5-14.9 0.5 14.9 0.5-14.9 0.5 15.1 0.5-15.1 0.5 15.3 0.5-12.1 0.5 12.1 0.5-12.2 0.5 12.3 0.5-12.4 0.5 12 0.5-12.2 0.5 12.4 0.5-12.2 0.5 12 0.5-12 0.5 11.7 0.5-11.9 0.5 11.9 0.5-11.7 0.5 11.8 0.5-12 0.5 12.5 0.5-12.5 0.5 12.3 0.5-12 0.5 11.7 0.5-11.9 0.5 12.2 0.5-12.2 0.5 12.1 0.5-12.1 0.5 11.7 0.5-11.7 0.5 11.9 0.5-12.2 0.5 13.3 0.5-13.5 0.5 13.5 0.5-13.5 0.5 13.4 0.5-13.1 0.5 13.1 0.5-13.2 0.5 12.5 0.5-12.4 0.5 12.4 0.5-14.7 0.5 14.6 0.5-14.6 0.5 14.1 0.5-14.1 0.5 14.4 0.5-14.5 0.5 14.6 0.5-14.6 0.5 14.7 0.5-12.7 0.5 12.1 0.5-12 0.5 12.5 0.5-12.4 0.5 12 0.5-11.9 0.5 12.1 0.5-12.3 0.5 12.4 0.5-12.5 0.5 12.5 0.5-12.7 0.5 12.3 0.5-12.2 0.5 12.4 0.5-12.1 0.5 11.9 0.5-11.8 0.5 12.3 0.5-12.3 0.5 12.1 0.5-12.7 0.5 12.4 0.5-12.4 0.5 12.7 0.5-13.5 0.5 13.4 0.5-13.5 0.5 13.6 0.5-13.6 0.5 13.1 0.5-13.1 0.5 13.2 0.5-13.2 0.5 13 0.5-13 0.5 15.1 0.5-15.1 0.5 15.1 0.5-14.4 0.5 14.3 0.5-14.3 0.5 12.5 0.5-12.3 0.5 12.5 0.5-12.1 0.5 11.6 0.5-11.8 0.5 12.4 0.5-12.3 0.5 12.1 0.5-12.4 0.5 12.1 0.5-12.4 0.5 12.3 0.5-12.1 0.5 12.5 0.5-12.4 0.5 12.3 0.5-12.2 0.5 12.2 0.5-12.3 0.5 12.3 0.5-15.2 0.5 15.1 0.5-15.1 0.5 15.1 0.5-15.2 0.5 15.3 0.5-12.4 0.5 12 0.5-12.1 0.5 12.6 0.5-12.3 0.5 11.7 0.5-11.6 0.5 12 0.5-12.2 0.5 11.8 0.5-11.6 0.5 12 0.5-12.5 0.5 12.3 0.5-13.9 0.5 13.7 0.5-13.7 0.5 13.6 0.5-13.6 0.5 13.9 0.5-13.9 0.5 16.1 0.5-16.1 0.5 16.1 0.5-14.2 0.5 14.2 0.5-14.3 0.5 11.9 0.5-11.9 0.5 12.2 0.5-12.1 0.5 11.7 0.5-11.7 0.5 11.8 0.5-12.3 0.5 12.3 0.5-11.8 0.5 12 0.5-12.4 0.5 12.4 0.5-12 0.5 12.1 0.5-12.1 0.5 11.7 0.5-12 0.5 13.8 0.5-14.1 0.5 14.1 0.5-14 0.5 14 0.5-13.7 0.5 13.7 0.5-13.5 0.5 13.5 0.5-14 0.5 12.4 0.5-12.4 0.5 12.5 0.5-12.5 0.5 12.1 0.5-12 0.5 12.1 0.5-14.4 0.5 14.5 0.5-14.5 0.5 14.7 0.5-14.7 0.5 14.4 0.5-14.4 0.5 14.5 0.5-14.5 0.5 14.6 0.5-12.1 0.5 12.4 0.5-12.5 0.5 11.9 0.5-11.9 0.5 12.4 0.5-12.5 0.5 12.7 0.5-12.7 0.5 12.2 0.5-12.1 0.5 12.5 0.5-12.7 0.5 12.3 0.5-12 0.5 12.4 0.5-13.8 0.5 13.5 0.5-13.5 0.5 13.6 0.5-13.5 0.5 13.3 0.5-11.8 0.5 12.1 0.5-12.6 0.5 12.3 0.5-12.1 0.5 12.4 0.5-12.1 0.5 12 0.5-12.2 0.5 14.6 0.5-14.9 0.5 15 0.5-14.4 0.5 14.4 0.5-14.3 0.5 14.3 0.5-14.7 0.5 14.7 0.5-17.1 0.5 14.7 0.5-14.7 0.5 14.6 0.5-14.6 0.5 14.9 0.5-12.4 0.5 12.3 0.5-12.4 0.5 12.5 0.5-12.1 0.5 11.7 0.5-11.6 0.5 11.9 0.5-12.3 0.5 12 0.5-11.8 0.5 11.9 0.5-11.7 0.5 12 0.5-12.2 0.5 12 0.5-12.2 0.5 12.1 0.5-11.7 0.5 12 0.5-12.5 0.5 12.2 0.5-12.2 0.5 12.5 0.5-15.3 0.5 15.1 0.5-15.1 0.5 15.1 0.5-15.1 0.5 15.6 0.5-12.6 0.5 12.1 0.5-11.8 0.5 12.3 0.5-12.5 0.5 15.4 0.5-15.1 0.5 15.1 0.5-15 0.5 15 0.5-15.4 0.5 15.4 0.5-15.5 0.5 12.5 0.5-12.6 0.5 12.7 0.5-12.4 0.5 12.1 0.5-12.1 0.5 12 0.5-12.1 0.5 12.1 0.5-14.3 0.5 14.9 0.5-14.9 0.5 14.7 0.5-14.7 0.5 14.5 0.5-14.5 0.5 14.8 0.5-14.8 0.5 14.8 0.5-14.7 0.5 14.5 0.5-12.3 0.5 15.3 0.5-15 0.5 15 0.5-15.2 0.5 15.2 0.5-15.3 0.5 12.2 0.5-12 0.5 12.2 0.5-12.3 0.5 12.1 0.5-11.9 0.5 12.3 0.5-12.6 0.5 12.8 0.5-12.6 0.5 12.5 0.5-12.5 0.5 12 0.5-11.8 0.5 11.8 0.5-11.6 0.5 11.8 0.5-12.2 0.5 12.7 0.5-12.5 0.5 12 0.5-12.3 0.5 12.6 0.5-12.5 0.5 12.5 0.5-12.4 0.5 15.3 0.5-14.9 0.5 14.9 0.5-15.3 0.5 15.3 0.5-15.3 0.5 15.3 0.5-17 0.5 17 0.5-17 0.5 13.8 0.5-13.8 0.5 14.4 0.5-14.4 0.5 13.7 0.5-13.7 0.5 13.9 0.5-13.9 0.5 13.9 0.5-12.1 0.5 12.5 0.5-12.3 0.5 12.2 0.5-12.5 0.5 12.2 0.5-11.9 0.5 11.8 0.5-11.9 0.5 12.4 0.5-12.4 0.5 12.4 0.5-12.3 0.5 11.8 0.5-12.1 0.5 12.6 0.5-12.4 0.5 12.2 0.5-12 0.5 12 0.5-12.5 0.5 12.6 0.5-12 0.5 11.6 0.5-12 0.5 12.2 0.5-11.9 0.5 11.7 0.5-11.6 0.5 12 0.5-12.4 0.5 12.2 0.5-12.3 0.5 13.4 0.5-13.3 0.5 13.3 0.5-13.5 0.5 13.5 0.5-16.2 0.5 16.2 0.5-16.2 0.5 16.2 0.5-16.2 0.5 15.2 0.5-12.2 0.5 12.2 0.5-12.3 0.5 12.3 0.5-12.3 0.5 12.4 0.5-12.1 0.5 12 0.5-12.2 0.5 11.9 0.5-11.7 0.5 11.9 0.5-12.3 0.5 12.2 0.5-12.3 0.5 12.8 0.5-12.2 0.5 11.8 0.5-12.3 0.5 12.1 0.5-11.8 0.5 11.9 0.5-14.1 0.5 14 0.5-14 0.5 14.5 0.5-14.5 0.5 14 0.5-14 0.5 13.9 0.5-13.9 0.5 14.3 0.5-14.3 0.5 16.4 0.5-16.4 0.5 16.4 0.5-14.4 0.5 14.4 0.5-14.3 0.5 14.3 0.5-14.2 0.5 14.2 0.5-14.6 0.5 14.6 0.5-14.7 0.5 14.7 0.5-14.4 0.5 12 0.5-11.8 0.5 11.9 0.5-12.4 0.5 12.3 0.5-12.1 0.5 12.5 0.5-12.5 0.5 12.3 0.5-12 0.5 12.2 0.5-12.6 0.5 12.1 0.5-11.7 0.5 12 0.5-12.3 0.5 12.5 0.5-12.5 0.5 12.6 0.5-12.7 0.5 12.5 0.5-15.5 0.5 15.2 0.5-15.2 0.5 15.5 0.5-15.5 0.5 15.1 0.5-15.1 0.5 15.5 0.5-15.5 0.5 15.6 0.5-15.6 0.5 15.4 0.5-12.5 0.5 14.1 0.5-13.9 0.5 13.9 0.5-13.6 0.5 13.6 0.5-13.6 0.5 13.6 0.5-13.6 0.5 13.6 0.5-13.7 0.5 11.7 0.5-11.6 0.5 11.6 0.5-12.1 0.5 12.2 0.5-11.7 0.5 11.9 0.5-12 0.5 12 0.5-12.5 0.5 12.4 0.5-12.4 0.5 12.3 0.5-12.1 0.5 12.1 0.5-12.3 0.5 12.7 0.5-12.1 0.5 11.7 0.5-12.3 0.5 12.4 0.5-12 0.5 12.2 0.5-12.6 0.5 12.5 0.5-12.5 0.5 12.4 0.5-12.4 0.5 12.2 0.5-11.9 0.5 12 0.5-12.4 0.5 12.5 0.5-12 0.5 13.6 0.5-14.1 0.5 14.1 0.5-13.9 0.5 13.9 0.5-16 0.5 16 0.5-16 0.5 16 0.5-16 0.5 16 0.5-16 0.5 16 0.5-16 0.5 14 0.5-11.8 0.5 12 0.5-12.1 0.5 12.2 0.5-12.4 0.5 12.3 0.5-12.3 0.5 12.2 0.5-12.3 0.5 12.8 0.5-12.6 0.5 12 0.5-12.1 0.5 12.1 0.5-12.1 0.5 12.5 0.5-12.1 0.5 12.2 0.5-12.7 0.5 12.1 0.5-12.1 0.5 12.4 0.5-12.2 0.5 12.5 0.5-14.6 0.5 14.1 0.5-14.1 0.5 14.1 0.5-14.1 0.5 14.4 0.5-14.4 0.5 14.1 0.5-14.1 0.5 14.5 0.5-14.5 0.5 14 0.5-14 0.5 14.5 0.5-12.3 0.5 12 0.5-12 0.5 11.7 0.5-11.8 0.5 12.3 0.5-12.6 0.5 14.6 0.5-14.2 0.5 14.2 0.5-14.5 0.5 14.5 0.5-14.7 0.5 14.7 0.5-14.4 0.5 14.4 0.5-14.7 0.5 14.7 0.5-14.2 0.5 14.2 0.5-14.3 0.5 12.4 0.5-12.4 0.5 12.1 0.5-12.5 0.5 12.4 0.5-12.4 0.5 12.6 0.5-12.4 0.5 12.4 0.5-15.5 0.5 15.2 0.5-15.2 0.5 15.1 0.5-15.2 0.5 15.8 0.5-15.8 0.5 15.7 0.5-12.3 0.5 12.2 0.5-12.1 0.5 12.1 0.5-12.7 0.5 12.6 0.5-12.3 0.5 12.4 0.5-12.6 0.5 12.4 0.5-12.3 0.5 13.5 0.5-13.6 0.5 13.6 0.5-13.1 0.5 13 0.5-13.6 0.5 13.6 0.5-13.6 0.5 13.6 0.5-13.4 0.5 13.4 0.5-13.7 0.5 12.7 0.5-12.2 0.5 11.8 0.5-12 0.5 11.9 0.5-11.8 0.5 12 0.5-12.2 0.5 12.6 0.5-12.4 0.5 11.9 0.5-12.2 0.5 12.1 0.5-11.6 0.5 11.6 0.5-11.6 0.5 11.8 0.5-11.8 0.5 11.5 0.5-13.7 0.5 14.1 0.5-14.1 0.5 14.2 0.5-14.2 0.5 14 0.5-14 0.5 14.2 0.5-14.2 0.5 14 0.5-12.3 0.5 12.4 0.5-12.1 0.5 11.8 0.5-12 0.5 12.3 0.5-12.1 0.5 12 0.5-12 0.5 12.1 0.5-12.2 0.5 12 0.5-12.1 0.5 13.2 0.5-13.2 0.5 13.2 0.5-13 0.5 13 0.5-12.9 0.5 12.9 0.5-13.2 0.5 13.2 0.5-13.4 0.5 12.2 0.5-11.9 0.5 11.8 0.5-12.1 0.5 12.5 0.5-14.9 0.5 14.7 0.5-14.7 0.5 15 0.5-15 0.5 14.6 0.5-14.6 0.5 14.7 0.5-12.4 0.5 12.5 0.5-12.6 0.5 12.6 0.5-12.7 0.5 12.7 0.5-12.5 0.5 12 0.5-11.8 0.5 12.1 0.5-12 0.5 12 0.5-12.5 0.5 15.6 0.5-15.3 0.5 15.2 0.5-15.3 0.5 15.3 0.5-15.4 0.5 12.4 0.5-13.3 0.5 12.9 0.5-12.9 0.5 13 0.5-13 0.5 13.1 0.5-13.1 0.5 13.1 0.5-13.1 0.5 13.4 0.5-13.4 0.5 12.9 0.5-12.1 0.5 12.3 0.5-12.1 0.5 12.2 0.5-12.5 0.5 12.6 0.5-12.6 0.5 12.5 0.5-12.4 0.5 12.3 0.5-11.9 0.5 12.1 0.5-12.4 0.5 12.3 0.5-12.5 0.5 12.3 0.5-12.3 0.5 12.2 0.5-11.9 0.5 13.8 0.5-14.2 0.5 14.2 0.5-13.7 0.5 13.7 0.5-13.8 0.5 13.7 0.5-14.1 0.5 14.1 0.5-14 0.5 14 0.5-14.1 0.5 14.1 0.5-13.5 0.5 11.6 0.5-11.9 0.5 12.3 0.5-12.2 0.5 11.8 0.5-11.8 0.5 12 0.5-12.4 0.5 12.5 0.5-12.5 0.5 12.6 0.5-12.4 0.5 12 0.5-11.9 0.5 12.4 0.5-15.5 0.5 15.5 0.5-15.5 0.5 14.8 0.5-14.8 0.5 14.8 0.5-14.8 0.5 15.2 0.5-12 0.5 15.1 0.5-15.2 0.5 15.2 0.5-15.3 0.5 15.3 0.5-15.4 0.5 15.4 0.5-15.3 0.5 15.3 0.5-15.2 0.5 15.2 0.5-15.7 0.5 15.6 0.5-15.6 0.5 12.3 0.5-12.3 0.5 12.3 0.5-12.2 0.5 12.6 0.5-12.4 0.5 12.1 0.5-12 0.5 11.7 0.5-12 0.5 12.5 0.5-12.6 0.5 12.5 0.5-12.1 0.5 12.1 0.5-12.3 0.5 12.5 0.5-12.6 0.5 14.3 0.5-14.5 0.5 14.5 0.5-14.6 0.5 14.6 0.5-14.1 0.5 14.1 0.5-14.6 0.5 12.3 0.5-11.9 0.5 11.8 0.5-11.8 0.5 11.9 0.5-11.9 0.5 11.9 0.5-14.9 0.5 15.1 0.5-15.1 0.5 15.1 0.5-15.1 0.5 15 0.5-15 0.5 14.7 0.5-14.7 0.5 14.9 0.5-14.9 0.5 15.3 0.5-12.5 0.5 12.3 0.5-12.1 0.5 11.9 0.5-12.2 0.5 12.4 0.5-12.5 0.5 12.2 0.5-11.8 0.5 11.6 0.5-11.6 0.5 11.9 0.5-12.2 0.5 12.1 0.5-12 0.5 12.1 0.5-12.1 0.5 12.3 0.5-12.4 0.5 13.7 0.5-16.6 0.5 16.6 0.5-16.6 0.5 16.6 0.5-16.6 0.5 15 0.5-15 0.5 14.9 0.5-11.8 0.5 12 0.5-12.1 0.5 11.8 0.5-12.3 0.5 12.4 0.5-11.8 0.5 12.2 0.5-12.5 0.5 11.9 0.5-12.1 0.5 12.1 0.5-11.8 0.5 11.8 0.5-12.3 0.5 12.6 0.5-12.1 0.5 12.1 0.5-12.4 0.5 12.5 0.5-12.5 0.5 12.2 0.5-12 0.5 12.3 0.5-12.5 0.5 13.8 0.5-13.8 0.5 13.8 0.5-14 0.5 14 0.5-13.9 0.5 13.9 0.5-13.8 0.5 12.1 0.5-12.3 0.5 12.1 0.5-11.9 0.5 12.2 0.5-14.1 0.5 14.1 0.5-14.1 0.5 14.1 0.5-14.1 0.5 13.9 0.5-13.9 0.5 14 0.5-12.2 0.5 12 0.5-11.9 0.5 12.2 0.5-12.6 0.5 12.2 0.5-12 0.5 12.5 0.5-12.8 0.5 12.4 0.5-12.3 0.5 12.3 0.5-12.3 0.5 13.6 0.5-13.6 0.5 13.6 0.5-13.7 0.5 13.7 0.5-13.5 0.5 13.5 0.5-13.6 0.5 13.6 0.5-13.6 0.5 13.5 0.5-13.7 0.5 13.7 0.5-13.3 0.5 12.3"/>
</g>
<g class="lg">
<line x1="1775" y1="139.2" x2="1903.5" y2="139.2" stroke="#4472c4" stroke-width="10.2" stroke-linecap="round"/>
<line x1="1775" y1="246.3" x2="1903.5" y2="246.3" stroke="#ed7d31" stroke-width="10.2" stroke-linecap="round"/>
<text x="1917.5" y="161.2" textLength="261" lengthAdjust="spacingAndGlyphs">Support</text>
<text x="1919" y="268.6" textLength="252.5" lengthAdjust="spacingAndGlyphs">Catalyst</text>
</g>
<text transform="translate(71 792.5) rotate(-90)" font-size="72.6" textLength="453" lengthAdjust="spacingAndGlyphs">Intensity [a.u]</text>
<text class="xl" y="1360.4" font-size="73.6"><tspan x="1115.6" textLength="94" lengthAdjust="spacingAndGlyphs">2&#x3F4;</tspan><tspan x="1229.9" dy="-4.3" font-size="71.3">[</tspan><tspan x="1256" font-size="71.3">]</tspan></text>
<text x="1259" y="1342.1" font-size="48" style="stroke:#000;stroke-width:3.6px;stroke-linejoin:round">&#x2DA;</text>
</g>
</svg>
</body></html>
